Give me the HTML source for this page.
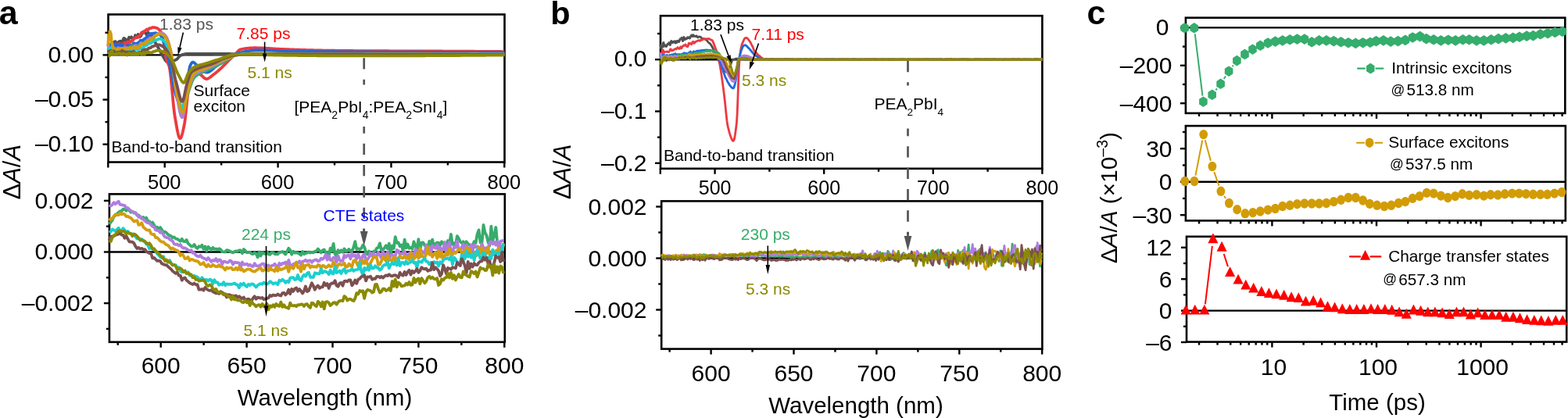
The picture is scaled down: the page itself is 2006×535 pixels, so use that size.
<!DOCTYPE html>
<html><head><meta charset="utf-8"><style>
html,body{margin:0;padding:0;background:#fff;}
svg{display:block;}
text{font-family:"Liberation Sans", Arial, Helvetica, sans-serif;}
</style></head><body>
<svg width="2006" height="535" viewBox="0 0 2006 535">
<rect x="138.5" y="18.5" width="507" height="189" fill="none" stroke="#000" stroke-width="2.6"/>
<rect x="139.9" y="248.4" width="505.9" height="189.4" fill="none" stroke="#000" stroke-width="2.6"/>
<rect x="845" y="20.2" width="488.4" height="195.6" fill="none" stroke="#000" stroke-width="2.6"/>
<rect x="846.2" y="257.4" width="487.2" height="189.2" fill="none" stroke="#000" stroke-width="2.6"/>
<rect x="1516.9" y="22.7" width="485.4" height="122.2" fill="none" stroke="#000" stroke-width="2.6"/>
<rect x="1516.9" y="161.1" width="485.9" height="121.3" fill="none" stroke="#000" stroke-width="2.6"/>
<rect x="1518" y="302.8" width="486.2" height="134.8" fill="none" stroke="#000" stroke-width="2.6"/>
<line x1="138.5" y1="70.4" x2="645.5" y2="70.4" stroke="#000" stroke-width="2.4"/>
<polyline points="138.3,58.39 139.02,58.4 139.75,57.3 140.47,57.27 141.2,60.86 141.92,58.91 142.65,57.95 143.37,54.98 144.09,57.87 144.82,55.46 145.54,55.41 146.27,53.76 146.99,53.12 147.72,53.15 148.44,54.12 149.16,56.53 149.89,58.61 150.61,55.56 151.34,55.25 152.06,53.35 152.79,53.07 153.51,54.1 154.23,52.62 154.96,55.56 155.68,54.41 156.41,55.97 157.13,52.38 157.86,49.89 158.58,48.93 159.3,49.43 160.03,51.2 160.75,50.23 161.48,51.64 162.2,52.99 162.93,55.13 163.65,53.89 164.37,49.94 165.1,47.78 165.82,48.45 166.55,48.53 167.27,48.28 168,47.35 168.72,48.58 169.44,48.55 170.17,48.54 170.89,49.74 171.62,48.73 172.34,48.13 173.07,45.23 173.79,45.7 174.51,47.1 175.24,48.03 175.96,45.76 176.69,44 177.41,44.43 178.14,46.87 178.86,47.21 179.58,46.37 180.31,46.12 181.03,43.5 181.76,43.35 182.48,42.06 183.21,42.11 183.93,40.41 184.65,40.71 185.38,41.77 186.1,42.5 186.83,42.48 187.55,44.49 188.28,44.56 189,43.53 189.72,41.73 190.45,43.3 191.17,44.36 191.9,45.28 192.62,45.31 193.35,45.07 194.07,44.98 194.79,45.85 195.52,47.56 196.24,49.35 196.97,51.04 197.69,52.56 198.42,54.09 199.14,55.36 199.86,56.29 200.59,57.41 201.31,58.78 202.04,60.38 202.76,61.83 203.49,63.05 204.21,64.28 204.93,65.66 205.66,67 206.38,68.39 207.11,69.58 207.83,70.87 208.56,72.02 209.28,73.22 210,74.41 210.73,75.72 211.45,76.91 212.18,77.94 212.9,78.69 213.63,78.98 214.35,78.97 215.07,78.93 215.8,78.88 216.52,78.79 217.25,78.71 217.97,78.61 218.7,78.51 219.42,78.4 220.14,78.27 220.87,78.1 221.59,77.9 222.32,77.66 223.04,77.39 223.77,77.09 224.49,76.77 225.21,76.42 225.94,76.03 226.66,75.46 227.39,74.69 228.11,73.82 228.84,72.92 229.56,72.09 230.28,71.41 231.01,70.97 231.73,70.69 232.46,70.41 233.18,70.16 233.91,69.92 234.63,69.7 235.35,69.51 236.08,69.33 236.8,69.19 237.53,69.07 238.25,68.99 238.98,68.93 239.7,68.91 240.42,68.91 241.15,68.91 241.87,68.91 242.6,68.91 243.32,68.92 244.05,68.92 244.77,68.92 245.49,68.92 246.22,68.92 246.94,68.92 247.67,68.92 248.39,68.92 249.12,68.92 249.84,68.92 250.56,68.92 251.29,68.92 252.01,68.93 252.74,68.93 253.46,68.93 254.19,68.93 254.91,68.93 255.63,68.93 256.36,68.93 257.08,68.93 257.81,68.94 258.53,68.94 259.26,68.94 259.98,68.94 260.7,68.94 261.43,68.94 262.15,68.95 262.88,68.95 263.6,68.95 264.33,68.95 265.05,68.95 265.77,68.96 266.5,68.96 267.22,68.96 267.95,68.96 268.67,68.96 269.4,68.97 270.12,68.97 270.84,68.97 271.57,68.97 272.29,68.97 273.02,68.97 273.74,68.98 274.47,68.98 275.19,68.98 275.91,68.98 276.64,68.98 277.36,68.99 278.09,68.99 278.81,68.99 279.54,68.99 280.26,68.99 280.98,69 281.71,69 282.43,69 283.16,69 283.88,69 284.61,69 285.33,69.01 286.05,69.01 286.78,69.01 287.5,69.01 288.23,69.01 288.95,69.01 289.68,69.02 290.4,69.02 291.12,69.02 291.85,69.02 292.57,69.02 293.3,69.02 294.02,69.02 294.75,69.02 295.47,69.03 296.19,69.03 296.92,69.03 297.64,69.03 298.37,69.03 299.09,69.03 299.82,69.03 300.54,69.03 301.26,69.03 301.99,69.03 302.71,69.03 303.44,69.03 304.16,69.04 304.89,69.04 305.61,69.04 306.33,69.04 307.06,69.04 307.78,69.04 308.51,69.04 309.23,69.04 309.96,69.04 310.68,69.04 311.4,69.04 312.13,69.04 312.85,69.05 313.58,69.05 314.3,69.05 315.03,69.05 315.75,69.05 316.47,69.05 317.2,69.05 317.92,69.05 318.65,69.05 319.37,69.05 320.1,69.05 320.82,69.05 321.54,69.05 322.27,69.06 322.99,69.06 323.72,69.06 324.44,69.06 325.17,69.06 325.89,69.06 326.61,69.06 327.34,69.06 328.06,69.06 328.79,69.06 329.51,69.06 330.24,69.06 330.96,69.06 331.68,69.07 332.41,69.07 333.13,69.07 333.86,69.07 334.58,69.07 335.31,69.07 336.03,69.07 336.75,69.07 337.48,69.07 338.2,69.07 338.93,69.07 339.65,69.07 340.38,69.07 341.1,69.08 341.82,69.08 342.55,69.08 343.27,69.08 344,69.08 344.72,69.08 345.45,69.08 346.17,69.08 346.89,69.08 347.62,69.08 348.34,69.08 349.07,69.08 349.79,69.08 350.52,69.09 351.24,69.09 351.96,69.09 352.69,69.09 353.41,69.09 354.14,69.09 354.86,69.09 355.59,69.09 356.31,69.09 357.03,69.09 357.76,69.09 358.48,69.09 359.21,69.09 359.93,69.09 360.66,69.1 361.38,69.1 362.1,69.1 362.83,69.1 363.55,69.1 364.28,69.1 365,69.1 365.73,69.1 366.45,69.1 367.17,69.1 367.9,69.1 368.62,69.1 369.35,69.1 370.07,69.1 370.8,69.11 371.52,69.11 372.24,69.11 372.97,69.11 373.69,69.11 374.42,69.11 375.14,69.11 375.87,69.11 376.59,69.11 377.31,69.11 378.04,69.11 378.76,69.11 379.49,69.11 380.21,69.11 380.94,69.12 381.66,69.12 382.38,69.12 383.11,69.12 383.83,69.12 384.56,69.12 385.28,69.12 386.01,69.12 386.73,69.12 387.45,69.12 388.18,69.12 388.9,69.12 389.63,69.12 390.35,69.12 391.08,69.12 391.8,69.13 392.52,69.13 393.25,69.13 393.97,69.13 394.7,69.13 395.42,69.13 396.15,69.13 396.87,69.13 397.59,69.13 398.32,69.13 399.04,69.13 399.77,69.13 400.49,69.13 401.22,69.13 401.94,69.13 402.66,69.14 403.39,69.14 404.11,69.14 404.84,69.14 405.56,69.14 406.29,69.14 407.01,69.14 407.73,69.14 408.46,69.14 409.18,69.14 409.91,69.14 410.63,69.14 411.36,69.14 412.08,69.14 412.8,69.14 413.53,69.15 414.25,69.15 414.98,69.15 415.7,69.15 416.43,69.15 417.15,69.15 417.87,69.15 418.6,69.15 419.32,69.15 420.05,69.15 420.77,69.15 421.5,69.15 422.22,69.15 422.94,69.15 423.67,69.15 424.39,69.15 425.12,69.16 425.84,69.16 426.57,69.16 427.29,69.16 428.01,69.16 428.74,69.16 429.46,69.16 430.19,69.16 430.91,69.16 431.64,69.16 432.36,69.16 433.08,69.16 433.81,69.16 434.53,69.16 435.26,69.16 435.98,69.16 436.71,69.16 437.43,69.17 438.15,69.17 438.88,69.17 439.6,69.17 440.33,69.17 441.05,69.17 441.78,69.17 442.5,69.17 443.22,69.17 443.95,69.17 444.67,69.17 445.4,69.17 446.12,69.17 446.85,69.17 447.57,69.17 448.29,69.17 449.02,69.17 449.74,69.18 450.47,69.18 451.19,69.18 451.92,69.18 452.64,69.18 453.36,69.18 454.09,69.18 454.81,69.18 455.54,69.18 456.26,69.18 456.99,69.18 457.71,69.18 458.43,69.18 459.16,69.18 459.88,69.18 460.61,69.18 461.33,69.18 462.06,69.18 462.78,69.19 463.5,69.19 464.23,69.19 464.95,69.19 465.68,69.19 466.4,69.19 467.13,69.19 467.85,69.19 468.57,69.19 469.3,69.19 470.02,69.19 470.75,69.19 471.47,69.19 472.2,69.19 472.92,69.19 473.64,69.19 474.37,69.19 475.09,69.19 475.82,69.19 476.54,69.19 477.27,69.2 477.99,69.2 478.71,69.2 479.44,69.2 480.16,69.2 480.89,69.2 481.61,69.2 482.34,69.2 483.06,69.2 483.78,69.2 484.51,69.2 485.23,69.2 485.96,69.2 486.68,69.2 487.41,69.2 488.13,69.2 488.85,69.2 489.58,69.2 490.3,69.2 491.03,69.2 491.75,69.21 492.48,69.21 493.2,69.21 493.92,69.21 494.65,69.21 495.37,69.21 496.1,69.21 496.82,69.21 497.55,69.21 498.27,69.21 498.99,69.21 499.72,69.21 500.44,69.21 501.17,69.21 501.89,69.21 502.62,69.21 503.34,69.21 504.06,69.21 504.79,69.21 505.51,69.21 506.24,69.21 506.96,69.21 507.69,69.21 508.41,69.22 509.13,69.22 509.86,69.22 510.58,69.22 511.31,69.22 512.03,69.22 512.76,69.22 513.48,69.22 514.2,69.22 514.93,69.22 515.65,69.22 516.38,69.22 517.1,69.22 517.83,69.22 518.55,69.22 519.27,69.22 520,69.22 520.72,69.22 521.45,69.22 522.17,69.22 522.9,69.22 523.62,69.22 524.34,69.22 525.07,69.22 525.79,69.22 526.52,69.23 527.24,69.23 527.97,69.23 528.69,69.23 529.41,69.23 530.14,69.23 530.86,69.23 531.59,69.23 532.31,69.23 533.04,69.23 533.76,69.23 534.48,69.23 535.21,69.23 535.93,69.23 536.66,69.23 537.38,69.23 538.11,69.23 538.83,69.23 539.55,69.23 540.28,69.23 541,69.23 541.73,69.23 542.45,69.23 543.18,69.23 543.9,69.23 544.62,69.23 545.35,69.23 546.07,69.23 546.8,69.23 547.52,69.24 548.25,69.24 548.97,69.24 549.69,69.24 550.42,69.24 551.14,69.24 551.87,69.24 552.59,69.24 553.32,69.24 554.04,69.24 554.76,69.24 555.49,69.24 556.21,69.24 556.94,69.24 557.66,69.24 558.39,69.24 559.11,69.24 559.83,69.24 560.56,69.24 561.28,69.24 562.01,69.24 562.73,69.24 563.46,69.24 564.18,69.24 564.9,69.24 565.63,69.24 566.35,69.24 567.08,69.24 567.8,69.24 568.53,69.24 569.25,69.24 569.97,69.24 570.7,69.24 571.42,69.24 572.15,69.24 572.87,69.24 573.6,69.24 574.32,69.25 575.04,69.25 575.77,69.25 576.49,69.25 577.22,69.25 577.94,69.25 578.67,69.25 579.39,69.25 580.11,69.25 580.84,69.25 581.56,69.25 582.29,69.25 583.01,69.25 583.74,69.25 584.46,69.25 585.18,69.25 585.91,69.25 586.63,69.25 587.36,69.25 588.08,69.25 588.81,69.25 589.53,69.25 590.25,69.25 590.98,69.25 591.7,69.25 592.43,69.25 593.15,69.25 593.88,69.25 594.6,69.25 595.32,69.25 596.05,69.25 596.77,69.25 597.5,69.25 598.22,69.25 598.95,69.25 599.67,69.25 600.39,69.25 601.12,69.25 601.84,69.25 602.57,69.25 603.29,69.25 604.02,69.25 604.74,69.25 605.46,69.25 606.19,69.25 606.91,69.25 607.64,69.25 608.36,69.25 609.09,69.25 609.81,69.25 610.53,69.25 611.26,69.25 611.98,69.25 612.71,69.25 613.43,69.25 614.16,69.25 614.88,69.25 615.6,69.25 616.33,69.25 617.05,69.26 617.78,69.26 618.5,69.26 619.23,69.26 619.95,69.26 620.67,69.26 621.4,69.26 622.12,69.26 622.85,69.26 623.57,69.26 624.3,69.26 625.02,69.26 625.74,69.26 626.47,69.26 627.19,69.26 627.92,69.26 628.64,69.26 629.37,69.26 630.09,69.26 630.81,69.26 631.54,69.26 632.26,69.26 632.99,69.26 633.71,69.26 634.44,69.26 635.16,69.26 635.88,69.26 636.61,69.26 637.33,69.26 638.06,69.26 638.78,69.26 639.51,69.26 640.23,69.26 640.95,69.26 641.68,69.26 642.4,69.26 643.13,69.26 643.85,69.26 644.58,69.26 645.3,69.26" fill="none" stroke="#505050" stroke-width="3.8" stroke-linejoin="round" stroke-linecap="butt"/>
<polyline points="138.3,64.5 139.02,62.95 139.75,58.18 140.47,57.99 141.2,57.82 141.92,59.42 142.65,59.3 143.37,58.35 144.09,57.51 144.82,59.42 145.54,58.63 146.27,59.34 146.99,59.62 147.72,60.52 148.44,59.46 149.16,56.42 149.89,56.21 150.61,57.28 151.34,57.2 152.06,56.8 152.79,56.07 153.51,57.93 154.23,58.53 154.96,57.36 155.68,56.75 156.41,56.32 157.13,57.32 157.86,56.06 158.58,55.9 159.3,55.03 160.03,55.56 160.75,54.85 161.48,55.47 162.2,54.99 162.93,53.93 163.65,53.18 164.37,53.8 165.1,55.15 165.82,54.66 166.55,53.91 167.27,52.83 168,52.51 168.72,52.76 169.44,51.79 170.17,51.2 170.89,49.91 171.62,49.74 172.34,48.85 173.07,48.29 173.79,48.41 174.51,47.75 175.24,47.47 175.96,46.82 176.69,47.79 177.41,46.93 178.14,46.5 178.86,45.29 179.58,44.43 180.31,43.22 181.03,41.76 181.76,41.3 182.48,41.02 183.21,41.31 183.93,41.29 184.65,40.2 185.38,39.52 186.1,39 186.83,38.42 187.55,37.94 188.28,37.54 189,38.49 189.72,37.81 190.45,37.06 191.17,36.1 191.9,36.16 192.62,36.22 193.35,35.99 194.07,35.55 194.79,35.18 195.52,35.02 196.24,35.09 196.97,35.05 197.69,35.1 198.42,35.31 199.14,35.49 199.86,35.7 200.59,35.89 201.31,36.29 202.04,36.72 202.76,37.31 203.49,37.88 204.21,38.7 204.93,39.55 205.66,40.62 206.38,41.75 207.11,43.74 207.83,46.59 208.56,50.04 209.28,53.75 210,57.49 210.73,62.15 211.45,67.48 212.18,72.47 212.9,76.13 213.63,78.34 214.35,79.96 215.07,81.39 215.8,83.01 216.52,85.25 217.25,88.84 217.97,94.03 218.7,100.44 219.42,107.71 220.14,115.48 220.87,123.39 221.59,131.09 222.32,138.21 223.04,144.39 223.77,149.26 224.49,153.45 225.21,157.69 225.94,161.85 226.66,165.79 227.39,169.37 228.11,172.44 228.84,174.88 229.56,176.53 230.28,177.25 231.01,176.96 231.73,175.77 232.46,173.84 233.18,171.31 233.91,168.33 234.63,165.05 235.35,161.62 236.08,158.02 236.8,152.92 237.53,146.5 238.25,139.33 238.98,132.01 239.7,125.12 240.42,119.25 241.15,114.98 241.87,111.72 242.6,108.56 243.32,105.57 244.05,102.82 244.77,100.4 245.49,98.39 246.22,96.85 246.94,95.87 247.67,95.52 248.39,95.39 249.12,95.28 249.84,95.17 250.56,95.09 251.29,95.01 252.01,94.95 252.74,94.91 253.46,94.88 254.19,94.86 254.91,94.88 255.63,95.06 256.36,95.41 257.08,95.91 257.81,96.5 258.53,97.17 259.26,97.88 259.98,98.58 260.7,99.26 261.43,99.87 262.15,100.39 262.88,100.77 263.6,100.99 264.33,101.02 265.05,100.91 265.77,100.69 266.5,100.37 267.22,99.96 267.95,99.49 268.67,98.97 269.4,98.41 270.12,97.83 270.84,97.23 271.57,96.65 272.29,96.08 273.02,95.55 273.74,95.03 274.47,94.49 275.19,93.93 275.91,93.35 276.64,92.76 277.36,92.16 278.09,91.54 278.81,90.92 279.54,90.28 280.26,89.64 280.98,89 281.71,88.35 282.43,87.68 283.16,87.01 283.88,86.31 284.61,85.61 285.33,84.89 286.05,84.16 286.78,83.43 287.5,82.69 288.23,81.94 288.95,81.19 289.68,80.44 290.4,79.7 291.12,78.95 291.85,78.21 292.57,77.47 293.3,76.74 294.02,76.02 294.75,75.31 295.47,74.61 296.19,73.92 296.92,73.23 297.64,72.54 298.37,71.85 299.09,71.17 299.82,70.5 300.54,69.83 301.26,69.12 301.99,68.35 302.71,67.54 303.44,66.73 304.16,65.94 304.89,65.2 305.61,64.54 306.33,63.99 307.06,63.57 307.78,63.31 308.51,63.15 309.23,63 309.96,62.85 310.68,62.71 311.4,62.57 312.13,62.45 312.85,62.32 313.58,62.21 314.3,62.1 315.03,62 315.75,61.9 316.47,61.81 317.2,61.73 317.92,61.65 318.65,61.59 319.37,61.52 320.1,61.47 320.82,61.42 321.54,61.37 322.27,61.34 322.99,61.31 323.72,61.29 324.44,61.27 325.17,61.26 325.89,61.26 326.61,61.26 327.34,61.26 328.06,61.27 328.79,61.28 329.51,61.29 330.24,61.31 330.96,61.33 331.68,61.35 332.41,61.37 333.13,61.4 333.86,61.42 334.58,61.45 335.31,61.49 336.03,61.52 336.75,61.55 337.48,61.59 338.2,61.63 338.93,61.67 339.65,61.71 340.38,61.75 341.1,61.79 341.82,61.83 342.55,61.88 343.27,61.92 344,61.97 344.72,62.02 345.45,62.06 346.17,62.11 346.89,62.16 347.62,62.2 348.34,62.25 349.07,62.3 349.79,62.34 350.52,62.39 351.24,62.44 351.96,62.48 352.69,62.53 353.41,62.57 354.14,62.61 354.86,62.66 355.59,62.7 356.31,62.74 357.03,62.77 357.76,62.81 358.48,62.85 359.21,62.88 359.93,62.91 360.66,62.94 361.38,62.97 362.1,63 362.83,63.02 363.55,63.05 364.28,63.08 365,63.11 365.73,63.13 366.45,63.16 367.17,63.19 367.9,63.21 368.62,63.24 369.35,63.27 370.07,63.29 370.8,63.32 371.52,63.35 372.24,63.37 372.97,63.4 373.69,63.42 374.42,63.45 375.14,63.48 375.87,63.5 376.59,63.53 377.31,63.55 378.04,63.58 378.76,63.6 379.49,63.63 380.21,63.65 380.94,63.68 381.66,63.7 382.38,63.73 383.11,63.75 383.83,63.78 384.56,63.8 385.28,63.82 386.01,63.85 386.73,63.87 387.45,63.89 388.18,63.92 388.9,63.94 389.63,63.96 390.35,63.98 391.08,64.01 391.8,64.03 392.52,64.05 393.25,64.07 393.97,64.09 394.7,64.11 395.42,64.13 396.15,64.15 396.87,64.17 397.59,64.19 398.32,64.21 399.04,64.23 399.77,64.25 400.49,64.27 401.22,64.29 401.94,64.31 402.66,64.32 403.39,64.34 404.11,64.36 404.84,64.37 405.56,64.39 406.29,64.41 407.01,64.42 407.73,64.44 408.46,64.45 409.18,64.47 409.91,64.48 410.63,64.5 411.36,64.51 412.08,64.52 412.8,64.53 413.53,64.55 414.25,64.56 414.98,64.57 415.7,64.58 416.43,64.59 417.15,64.6 417.87,64.62 418.6,64.63 419.32,64.64 420.05,64.65 420.77,64.66 421.5,64.67 422.22,64.68 422.94,64.69 423.67,64.7 424.39,64.71 425.12,64.72 425.84,64.73 426.57,64.74 427.29,64.75 428.01,64.76 428.74,64.77 429.46,64.78 430.19,64.79 430.91,64.8 431.64,64.81 432.36,64.81 433.08,64.82 433.81,64.83 434.53,64.84 435.26,64.85 435.98,64.86 436.71,64.87 437.43,64.87 438.15,64.88 438.88,64.89 439.6,64.9 440.33,64.91 441.05,64.91 441.78,64.92 442.5,64.93 443.22,64.94 443.95,64.95 444.67,64.95 445.4,64.96 446.12,64.97 446.85,64.97 447.57,64.98 448.29,64.99 449.02,64.99 449.74,65 450.47,65.01 451.19,65.01 451.92,65.02 452.64,65.03 453.36,65.03 454.09,65.04 454.81,65.05 455.54,65.05 456.26,65.06 456.99,65.06 457.71,65.07 458.43,65.07 459.16,65.08 459.88,65.08 460.61,65.09 461.33,65.1 462.06,65.1 462.78,65.11 463.5,65.11 464.23,65.12 464.95,65.12 465.68,65.12 466.4,65.13 467.13,65.13 467.85,65.14 468.57,65.14 469.3,65.15 470.02,65.15 470.75,65.15 471.47,65.16 472.2,65.16 472.92,65.17 473.64,65.17 474.37,65.17 475.09,65.18 475.82,65.18 476.54,65.19 477.27,65.19 477.99,65.19 478.71,65.2 479.44,65.2 480.16,65.2 480.89,65.21 481.61,65.21 482.34,65.21 483.06,65.22 483.78,65.22 484.51,65.22 485.23,65.23 485.96,65.23 486.68,65.23 487.41,65.23 488.13,65.24 488.85,65.24 489.58,65.24 490.3,65.25 491.03,65.25 491.75,65.25 492.48,65.25 493.2,65.26 493.92,65.26 494.65,65.26 495.37,65.27 496.1,65.27 496.82,65.27 497.55,65.27 498.27,65.28 498.99,65.28 499.72,65.28 500.44,65.28 501.17,65.29 501.89,65.29 502.62,65.29 503.34,65.29 504.06,65.3 504.79,65.3 505.51,65.3 506.24,65.3 506.96,65.3 507.69,65.31 508.41,65.31 509.13,65.31 509.86,65.31 510.58,65.32 511.31,65.32 512.03,65.32 512.76,65.32 513.48,65.33 514.2,65.33 514.93,65.33 515.65,65.33 516.38,65.33 517.1,65.34 517.83,65.34 518.55,65.34 519.27,65.34 520,65.34 520.72,65.35 521.45,65.35 522.17,65.35 522.9,65.35 523.62,65.36 524.34,65.36 525.07,65.36 525.79,65.36 526.52,65.36 527.24,65.37 527.97,65.37 528.69,65.37 529.41,65.37 530.14,65.38 530.86,65.38 531.59,65.38 532.31,65.38 533.04,65.39 533.76,65.39 534.48,65.39 535.21,65.39 535.93,65.4 536.66,65.4 537.38,65.4 538.11,65.4 538.83,65.41 539.55,65.41 540.28,65.41 541,65.41 541.73,65.42 542.45,65.42 543.18,65.42 543.9,65.42 544.62,65.43 545.35,65.43 546.07,65.43 546.8,65.43 547.52,65.44 548.25,65.44 548.97,65.44 549.69,65.45 550.42,65.45 551.14,65.45 551.87,65.46 552.59,65.46 553.32,65.46 554.04,65.46 554.76,65.47 555.49,65.47 556.21,65.47 556.94,65.48 557.66,65.48 558.39,65.49 559.11,65.49 559.83,65.49 560.56,65.5 561.28,65.5 562.01,65.5 562.73,65.51 563.46,65.51 564.18,65.51 564.9,65.52 565.63,65.52 566.35,65.53 567.08,65.53 567.8,65.53 568.53,65.54 569.25,65.54 569.97,65.54 570.7,65.55 571.42,65.55 572.15,65.56 572.87,65.56 573.6,65.56 574.32,65.57 575.04,65.57 575.77,65.58 576.49,65.58 577.22,65.58 577.94,65.59 578.67,65.59 579.39,65.6 580.11,65.6 580.84,65.61 581.56,65.61 582.29,65.61 583.01,65.62 583.74,65.62 584.46,65.63 585.18,65.63 585.91,65.64 586.63,65.64 587.36,65.64 588.08,65.65 588.81,65.65 589.53,65.66 590.25,65.66 590.98,65.67 591.7,65.67 592.43,65.68 593.15,65.68 593.88,65.69 594.6,65.69 595.32,65.69 596.05,65.7 596.77,65.7 597.5,65.71 598.22,65.71 598.95,65.72 599.67,65.72 600.39,65.73 601.12,65.73 601.84,65.74 602.57,65.74 603.29,65.75 604.02,65.75 604.74,65.76 605.46,65.76 606.19,65.77 606.91,65.77 607.64,65.78 608.36,65.78 609.09,65.79 609.81,65.79 610.53,65.8 611.26,65.8 611.98,65.81 612.71,65.81 613.43,65.82 614.16,65.82 614.88,65.83 615.6,65.83 616.33,65.84 617.05,65.84 617.78,65.85 618.5,65.85 619.23,65.86 619.95,65.86 620.67,65.87 621.4,65.87 622.12,65.88 622.85,65.88 623.57,65.89 624.3,65.9 625.02,65.9 625.74,65.91 626.47,65.91 627.19,65.92 627.92,65.92 628.64,65.93 629.37,65.93 630.09,65.94 630.81,65.94 631.54,65.95 632.26,65.96 632.99,65.96 633.71,65.97 634.44,65.97 635.16,65.98 635.88,65.98 636.61,65.99 637.33,65.99 638.06,66 638.78,66.01 639.51,66.01 640.23,66.02 640.95,66.02 641.68,66.03 642.4,66.03 643.13,66.04 643.85,66.05 644.58,66.05 645.3,66.06" fill="none" stroke="#EC3A3F" stroke-width="3.8" stroke-linejoin="round" stroke-linecap="butt"/>
<polyline points="138.3,62.74 139.02,62.26 139.75,61.86 140.47,59.24 141.2,58.12 141.92,56.26 142.65,55.56 143.37,54.95 144.09,54.69 144.82,56.08 145.54,57.42 146.27,56.63 146.99,57.31 147.72,57.51 148.44,59.59 149.16,58.87 149.89,58.12 150.61,56.88 151.34,57.17 152.06,58.53 152.79,58.99 153.51,58.3 154.23,57.29 154.96,57.64 155.68,57.96 156.41,57.22 157.13,57.27 157.86,58.51 158.58,59.76 159.3,59.9 160.03,60.19 160.75,59.49 161.48,59.9 162.2,58.61 162.93,58.98 163.65,58.74 164.37,58.09 165.1,58.48 165.82,58.6 166.55,59.23 167.27,58.26 168,57.67 168.72,58.17 169.44,58.01 170.17,57.39 170.89,55.36 171.62,55.59 172.34,55.51 173.07,56.73 173.79,57.16 174.51,56.9 175.24,55.71 175.96,55.01 176.69,54.99 177.41,55.67 178.14,53.82 178.86,53.28 179.58,51.75 180.31,52.49 181.03,51.57 181.76,51.75 182.48,52.11 183.21,51.63 183.93,50.48 184.65,49.8 185.38,49.4 186.1,49.39 186.83,48.25 187.55,47.73 188.28,48.04 189,46.74 189.72,45.38 190.45,44.57 191.17,44.27 191.9,43.81 192.62,43.06 193.35,42.98 194.07,43.39 194.79,43.21 195.52,42.97 196.24,42.58 196.97,42.73 197.69,42.48 198.42,42.53 199.14,42.27 199.86,42.45 200.59,42.61 201.31,42.87 202.04,43.13 202.76,43.41 203.49,43.75 204.21,44.12 204.93,44.61 205.66,45.41 206.38,46.6 207.11,48.06 207.83,49.73 208.56,51.61 209.28,53.58 210,55.56 210.73,57.59 211.45,59.82 212.18,62.26 212.9,64.83 213.63,67.55 214.35,70.34 215.07,73.21 215.8,76.13 216.52,79.22 217.25,82.65 217.97,86.31 218.7,90.16 219.42,94.11 220.14,98.11 220.87,102.09 221.59,105.98 222.32,109.72 223.04,113.25 223.77,116.48 224.49,119.37 225.21,121.83 225.94,124.11 226.66,126.42 227.39,128.72 228.11,130.95 228.84,133.06 229.56,134.99 230.28,136.7 231.01,138.12 231.73,139.2 232.46,139.88 233.18,140.12 233.91,139.29 234.63,136.99 235.35,133.56 236.08,129.3 236.8,124.54 237.53,119.59 238.25,114.77 238.98,110.41 239.7,105.87 240.42,100.7 241.15,95.42 241.87,90.54 242.6,86.6 243.32,84.12 244.05,82.6 244.77,81.27 245.49,80.25 246.22,79.65 246.94,79.57 247.67,79.81 248.39,80.27 249.12,80.88 249.84,81.58 250.56,82.3 251.29,82.97 252.01,83.68 252.74,84.52 253.46,85.45 254.19,86.42 254.91,87.4 255.63,88.34 256.36,89.21 257.08,89.97 257.81,90.57 258.53,90.97 259.26,91.26 259.98,91.53 260.7,91.79 261.43,92.01 262.15,92.21 262.88,92.37 263.6,92.49 264.33,92.56 265.05,92.57 265.77,92.49 266.5,92.3 267.22,92.02 267.95,91.65 268.67,91.2 269.4,90.7 270.12,90.14 270.84,89.55 271.57,88.93 272.29,88.29 273.02,87.65 273.74,87.01 274.47,86.39 275.19,85.81 275.91,85.26 276.64,84.72 277.36,84.16 278.09,83.59 278.81,82.99 279.54,82.39 280.26,81.77 280.98,81.16 281.71,80.54 282.43,79.93 283.16,79.33 283.88,78.74 284.61,78.16 285.33,77.61 286.05,77.08 286.78,76.58 287.5,76.12 288.23,75.67 288.95,75.23 289.68,74.8 290.4,74.37 291.12,73.96 291.85,73.56 292.57,73.16 293.3,72.78 294.02,72.41 294.75,72.06 295.47,71.72 296.19,71.39 296.92,71.08 297.64,70.78 298.37,70.51 299.09,70.24 299.82,69.99 300.54,69.73 301.26,69.48 301.99,69.23 302.71,68.99 303.44,68.75 304.16,68.52 304.89,68.29 305.61,68.07 306.33,67.85 307.06,67.64 307.78,67.43 308.51,67.23 309.23,67.04 309.96,66.85 310.68,66.67 311.4,66.49 312.13,66.33 312.85,66.16 313.58,66.01 314.3,65.87 315.03,65.73 315.75,65.6 316.47,65.47 317.2,65.36 317.92,65.26 318.65,65.16 319.37,65.05 320.1,64.95 320.82,64.85 321.54,64.75 322.27,64.66 322.99,64.57 323.72,64.48 324.44,64.41 325.17,64.33 325.89,64.27 326.61,64.22 327.34,64.17 328.06,64.14 328.79,64.12 329.51,64.11 330.24,64.11 330.96,64.12 331.68,64.12 332.41,64.13 333.13,64.14 333.86,64.15 334.58,64.17 335.31,64.19 336.03,64.2 336.75,64.22 337.48,64.24 338.2,64.27 338.93,64.29 339.65,64.32 340.38,64.35 341.1,64.37 341.82,64.4 342.55,64.43 343.27,64.47 344,64.5 344.72,64.53 345.45,64.57 346.17,64.6 346.89,64.64 347.62,64.67 348.34,64.71 349.07,64.75 349.79,64.78 350.52,64.82 351.24,64.86 351.96,64.89 352.69,64.93 353.41,64.97 354.14,65.01 354.86,65.04 355.59,65.08 356.31,65.11 357.03,65.15 357.76,65.18 358.48,65.22 359.21,65.25 359.93,65.28 360.66,65.32 361.38,65.35 362.1,65.37 362.83,65.4 363.55,65.43 364.28,65.45 365,65.48 365.73,65.5 366.45,65.52 367.17,65.54 367.9,65.56 368.62,65.57 369.35,65.59 370.07,65.6 370.8,65.61 371.52,65.62 372.24,65.63 372.97,65.64 373.69,65.65 374.42,65.66 375.14,65.67 375.87,65.68 376.59,65.69 377.31,65.7 378.04,65.71 378.76,65.72 379.49,65.73 380.21,65.74 380.94,65.75 381.66,65.76 382.38,65.77 383.11,65.78 383.83,65.79 384.56,65.8 385.28,65.81 386.01,65.82 386.73,65.82 387.45,65.83 388.18,65.84 388.9,65.85 389.63,65.86 390.35,65.87 391.08,65.88 391.8,65.89 392.52,65.89 393.25,65.9 393.97,65.91 394.7,65.92 395.42,65.93 396.15,65.94 396.87,65.94 397.59,65.95 398.32,65.96 399.04,65.97 399.77,65.98 400.49,65.98 401.22,65.99 401.94,66 402.66,66.01 403.39,66.01 404.11,66.02 404.84,66.03 405.56,66.04 406.29,66.04 407.01,66.05 407.73,66.06 408.46,66.06 409.18,66.07 409.91,66.08 410.63,66.09 411.36,66.09 412.08,66.1 412.8,66.11 413.53,66.11 414.25,66.12 414.98,66.13 415.7,66.13 416.43,66.14 417.15,66.15 417.87,66.15 418.6,66.16 419.32,66.17 420.05,66.17 420.77,66.18 421.5,66.18 422.22,66.19 422.94,66.2 423.67,66.2 424.39,66.21 425.12,66.21 425.84,66.22 426.57,66.23 427.29,66.23 428.01,66.24 428.74,66.24 429.46,66.25 430.19,66.25 430.91,66.26 431.64,66.27 432.36,66.27 433.08,66.28 433.81,66.28 434.53,66.29 435.26,66.29 435.98,66.3 436.71,66.3 437.43,66.31 438.15,66.31 438.88,66.32 439.6,66.32 440.33,66.33 441.05,66.33 441.78,66.34 442.5,66.34 443.22,66.35 443.95,66.35 444.67,66.36 445.4,66.36 446.12,66.37 446.85,66.37 447.57,66.38 448.29,66.38 449.02,66.38 449.74,66.39 450.47,66.39 451.19,66.4 451.92,66.4 452.64,66.41 453.36,66.41 454.09,66.42 454.81,66.42 455.54,66.42 456.26,66.43 456.99,66.43 457.71,66.44 458.43,66.44 459.16,66.44 459.88,66.45 460.61,66.45 461.33,66.46 462.06,66.46 462.78,66.46 463.5,66.47 464.23,66.47 464.95,66.47 465.68,66.48 466.4,66.48 467.13,66.49 467.85,66.49 468.57,66.49 469.3,66.5 470.02,66.5 470.75,66.5 471.47,66.51 472.2,66.51 472.92,66.51 473.64,66.52 474.37,66.52 475.09,66.52 475.82,66.53 476.54,66.53 477.27,66.53 477.99,66.54 478.71,66.54 479.44,66.54 480.16,66.55 480.89,66.55 481.61,66.55 482.34,66.56 483.06,66.56 483.78,66.56 484.51,66.57 485.23,66.57 485.96,66.57 486.68,66.57 487.41,66.58 488.13,66.58 488.85,66.58 489.58,66.59 490.3,66.59 491.03,66.59 491.75,66.6 492.48,66.6 493.2,66.6 493.92,66.6 494.65,66.61 495.37,66.61 496.1,66.61 496.82,66.61 497.55,66.62 498.27,66.62 498.99,66.62 499.72,66.63 500.44,66.63 501.17,66.63 501.89,66.63 502.62,66.64 503.34,66.64 504.06,66.64 504.79,66.64 505.51,66.65 506.24,66.65 506.96,66.65 507.69,66.65 508.41,66.66 509.13,66.66 509.86,66.66 510.58,66.67 511.31,66.67 512.03,66.67 512.76,66.67 513.48,66.68 514.2,66.68 514.93,66.68 515.65,66.68 516.38,66.69 517.1,66.69 517.83,66.69 518.55,66.69 519.27,66.7 520,66.7 520.72,66.7 521.45,66.7 522.17,66.71 522.9,66.71 523.62,66.71 524.34,66.71 525.07,66.72 525.79,66.72 526.52,66.72 527.24,66.72 527.97,66.73 528.69,66.73 529.41,66.73 530.14,66.73 530.86,66.74 531.59,66.74 532.31,66.74 533.04,66.74 533.76,66.75 534.48,66.75 535.21,66.75 535.93,66.75 536.66,66.76 537.38,66.76 538.11,66.76 538.83,66.76 539.55,66.77 540.28,66.77 541,66.77 541.73,66.77 542.45,66.78 543.18,66.78 543.9,66.78 544.62,66.78 545.35,66.79 546.07,66.79 546.8,66.79 547.52,66.79 548.25,66.79 548.97,66.8 549.69,66.8 550.42,66.8 551.14,66.8 551.87,66.81 552.59,66.81 553.32,66.81 554.04,66.81 554.76,66.81 555.49,66.82 556.21,66.82 556.94,66.82 557.66,66.82 558.39,66.83 559.11,66.83 559.83,66.83 560.56,66.83 561.28,66.83 562.01,66.84 562.73,66.84 563.46,66.84 564.18,66.84 564.9,66.84 565.63,66.85 566.35,66.85 567.08,66.85 567.8,66.85 568.53,66.85 569.25,66.86 569.97,66.86 570.7,66.86 571.42,66.86 572.15,66.86 572.87,66.87 573.6,66.87 574.32,66.87 575.04,66.87 575.77,66.87 576.49,66.88 577.22,66.88 577.94,66.88 578.67,66.88 579.39,66.88 580.11,66.88 580.84,66.89 581.56,66.89 582.29,66.89 583.01,66.89 583.74,66.89 584.46,66.89 585.18,66.9 585.91,66.9 586.63,66.9 587.36,66.9 588.08,66.9 588.81,66.9 589.53,66.91 590.25,66.91 590.98,66.91 591.7,66.91 592.43,66.91 593.15,66.91 593.88,66.92 594.6,66.92 595.32,66.92 596.05,66.92 596.77,66.92 597.5,66.92 598.22,66.92 598.95,66.93 599.67,66.93 600.39,66.93 601.12,66.93 601.84,66.93 602.57,66.93 603.29,66.93 604.02,66.93 604.74,66.94 605.46,66.94 606.19,66.94 606.91,66.94 607.64,66.94 608.36,66.94 609.09,66.94 609.81,66.94 610.53,66.94 611.26,66.95 611.98,66.95 612.71,66.95 613.43,66.95 614.16,66.95 614.88,66.95 615.6,66.95 616.33,66.95 617.05,66.95 617.78,66.95 618.5,66.95 619.23,66.96 619.95,66.96 620.67,66.96 621.4,66.96 622.12,66.96 622.85,66.96 623.57,66.96 624.3,66.96 625.02,66.96 625.74,66.96 626.47,66.96 627.19,66.96 627.92,66.96 628.64,66.96 629.37,66.97 630.09,66.97 630.81,66.97 631.54,66.97 632.26,66.97 632.99,66.97 633.71,66.97 634.44,66.97 635.16,66.97 635.88,66.97 636.61,66.97 637.33,66.97 638.06,66.97 638.78,66.97 639.51,66.97 640.23,66.97 640.95,66.97 641.68,66.97 642.4,66.97 643.13,66.97 643.85,66.97 644.58,66.97 645.3,66.97" fill="none" stroke="#2169DA" stroke-width="3.8" stroke-linejoin="round" stroke-linecap="butt"/>
<polyline points="138.3,69.08 139.02,67.35 139.75,64.7 140.47,64.88 141.2,63.73 141.92,63.58 142.65,62.12 143.37,63.48 144.09,64.64 144.82,66.24 145.54,66.48 146.27,65.03 146.99,64.86 147.72,65.56 148.44,66.37 149.16,66.07 149.89,65.62 150.61,65.25 151.34,63.66 152.06,62.87 152.79,62.95 153.51,64.02 154.23,63.16 154.96,62.2 155.68,62.18 156.41,63.83 157.13,65.12 157.86,65.16 158.58,64.33 159.3,64.19 160.03,64.67 160.75,64.53 161.48,64.78 162.2,64.9 162.93,64.8 163.65,63.1 164.37,61.82 165.1,61.11 165.82,60.4 166.55,59.94 167.27,60.52 168,60.05 168.72,59.43 169.44,58.57 170.17,60.07 170.89,60.61 171.62,62.15 172.34,61.66 173.07,63.1 173.79,61.91 174.51,60.9 175.24,59.23 175.96,57.81 176.69,58.14 177.41,57.83 178.14,58.66 178.86,58.07 179.58,57.87 180.31,56.72 181.03,55.8 181.76,55.27 182.48,56.29 183.21,56.57 183.93,55.66 184.65,54.24 185.38,53.95 186.1,53.72 186.83,52.83 187.55,53.98 188.28,53.11 189,52.88 189.72,50.76 190.45,51.32 191.17,51.05 191.9,50.5 192.62,50.31 193.35,49.68 194.07,49.37 194.79,48.3 195.52,47.92 196.24,47.53 196.97,47.29 197.69,46.81 198.42,46.29 199.14,45.77 199.86,45.43 200.59,45.09 201.31,44.74 202.04,44.37 202.76,43.98 203.49,43.62 204.21,43.38 204.93,43.21 205.66,43.07 206.38,42.99 207.11,43.06 207.83,43.38 208.56,43.82 209.28,44.39 210,45.03 210.73,45.78 211.45,46.65 212.18,47.55 212.9,48.65 213.63,50.14 214.35,51.99 215.07,54.14 215.8,56.51 216.52,59.1 217.25,61.83 217.97,64.69 218.7,68 219.42,72.07 220.14,76.7 220.87,81.73 221.59,86.99 222.32,92.3 223.04,97.47 223.77,102.33 224.49,106.7 225.21,110.4 225.94,113.8 226.66,117.3 227.39,120.83 228.11,124.31 228.84,127.66 229.56,130.82 230.28,133.69 231.01,136.22 231.73,138.31 232.46,139.9 233.18,140.91 233.91,141.27 234.63,140.66 235.35,139.02 236.08,136.59 236.8,133.65 237.53,130.44 238.25,127.23 238.98,124.28 239.7,121.83 240.42,119.7 241.15,117.51 241.87,115.29 242.6,113.08 243.32,110.91 244.05,108.81 244.77,106.8 245.49,104.92 246.22,103.2 246.94,101.67 247.67,100.35 248.39,99.29 249.12,98.49 249.84,97.83 250.56,97.22 251.29,96.66 252.01,96.14 252.74,95.66 253.46,95.22 254.19,94.8 254.91,94.42 255.63,94.05 256.36,93.71 257.08,93.37 257.81,93.05 258.53,92.74 259.26,92.42 259.98,92.11 260.7,91.79 261.43,91.46 262.15,91.11 262.88,90.75 263.6,90.37 264.33,90.01 265.05,89.65 265.77,89.3 266.5,88.96 267.22,88.62 267.95,88.28 268.67,87.95 269.4,87.62 270.12,87.29 270.84,86.97 271.57,86.64 272.29,86.32 273.02,85.99 273.74,85.67 274.47,85.34 275.19,85.01 275.91,84.68 276.64,84.34 277.36,84 278.09,83.65 278.81,83.3 279.54,82.95 280.26,82.58 280.98,82.21 281.71,81.83 282.43,81.44 283.16,81.03 283.88,80.62 284.61,80.2 285.33,79.76 286.05,79.32 286.78,78.88 287.5,78.44 288.23,77.99 288.95,77.54 289.68,77.1 290.4,76.66 291.12,76.23 291.85,75.8 292.57,75.38 293.3,74.97 294.02,74.55 294.75,74.11 295.47,73.65 296.19,73.18 296.92,72.71 297.64,72.26 298.37,71.83 299.09,71.44 299.82,71.09 300.54,70.79 301.26,70.56 301.99,70.4 302.71,70.28 303.44,70.17 304.16,70.06 304.89,69.95 305.61,69.85 306.33,69.75 307.06,69.65 307.78,69.56 308.51,69.47 309.23,69.38 309.96,69.3 310.68,69.22 311.4,69.14 312.13,69.07 312.85,69 313.58,68.93 314.3,68.87 315.03,68.81 315.75,68.75 316.47,68.7 317.2,68.65 317.92,68.61 318.65,68.56 319.37,68.53 320.1,68.49 320.82,68.46 321.54,68.43 322.27,68.41 322.99,68.39 323.72,68.37 324.44,68.36 325.17,68.35 325.89,68.34 326.61,68.34 327.34,68.34 328.06,68.34 328.79,68.35 329.51,68.35 330.24,68.35 330.96,68.35 331.68,68.36 332.41,68.36 333.13,68.36 333.86,68.37 334.58,68.37 335.31,68.38 336.03,68.39 336.75,68.39 337.48,68.4 338.2,68.41 338.93,68.41 339.65,68.42 340.38,68.43 341.1,68.44 341.82,68.45 342.55,68.46 343.27,68.47 344,68.48 344.72,68.49 345.45,68.5 346.17,68.51 346.89,68.52 347.62,68.53 348.34,68.54 349.07,68.55 349.79,68.56 350.52,68.58 351.24,68.59 351.96,68.6 352.69,68.61 353.41,68.62 354.14,68.63 354.86,68.65 355.59,68.66 356.31,68.67 357.03,68.68 357.76,68.7 358.48,68.71 359.21,68.72 359.93,68.73 360.66,68.74 361.38,68.76 362.1,68.77 362.83,68.78 363.55,68.79 364.28,68.8 365,68.82 365.73,68.83 366.45,68.84 367.17,68.85 367.9,68.86 368.62,68.87 369.35,68.88 370.07,68.89 370.8,68.9 371.52,68.91 372.24,68.92 372.97,68.93 373.69,68.94 374.42,68.95 375.14,68.96 375.87,68.96 376.59,68.97 377.31,68.98 378.04,68.99 378.76,68.99 379.49,69 380.21,69 380.94,69.01 381.66,69.01 382.38,69.02 383.11,69.02 383.83,69.03 384.56,69.03 385.28,69.03 386.01,69.03 386.73,69.04 387.45,69.04 388.18,69.04 388.9,69.04 389.63,69.05 390.35,69.05 391.08,69.05 391.8,69.05 392.52,69.06 393.25,69.06 393.97,69.06 394.7,69.06 395.42,69.07 396.15,69.07 396.87,69.07 397.59,69.07 398.32,69.08 399.04,69.08 399.77,69.08 400.49,69.08 401.22,69.09 401.94,69.09 402.66,69.09 403.39,69.09 404.11,69.1 404.84,69.1 405.56,69.1 406.29,69.1 407.01,69.11 407.73,69.11 408.46,69.11 409.18,69.11 409.91,69.12 410.63,69.12 411.36,69.12 412.08,69.12 412.8,69.12 413.53,69.13 414.25,69.13 414.98,69.13 415.7,69.13 416.43,69.14 417.15,69.14 417.87,69.14 418.6,69.14 419.32,69.15 420.05,69.15 420.77,69.15 421.5,69.15 422.22,69.15 422.94,69.16 423.67,69.16 424.39,69.16 425.12,69.16 425.84,69.17 426.57,69.17 427.29,69.17 428.01,69.17 428.74,69.17 429.46,69.18 430.19,69.18 430.91,69.18 431.64,69.18 432.36,69.18 433.08,69.19 433.81,69.19 434.53,69.19 435.26,69.19 435.98,69.19 436.71,69.2 437.43,69.2 438.15,69.2 438.88,69.2 439.6,69.21 440.33,69.21 441.05,69.21 441.78,69.21 442.5,69.21 443.22,69.22 443.95,69.22 444.67,69.22 445.4,69.22 446.12,69.22 446.85,69.23 447.57,69.23 448.29,69.23 449.02,69.23 449.74,69.23 450.47,69.23 451.19,69.24 451.92,69.24 452.64,69.24 453.36,69.24 454.09,69.24 454.81,69.25 455.54,69.25 456.26,69.25 456.99,69.25 457.71,69.25 458.43,69.26 459.16,69.26 459.88,69.26 460.61,69.26 461.33,69.26 462.06,69.26 462.78,69.27 463.5,69.27 464.23,69.27 464.95,69.27 465.68,69.27 466.4,69.27 467.13,69.28 467.85,69.28 468.57,69.28 469.3,69.28 470.02,69.28 470.75,69.29 471.47,69.29 472.2,69.29 472.92,69.29 473.64,69.29 474.37,69.29 475.09,69.3 475.82,69.3 476.54,69.3 477.27,69.3 477.99,69.3 478.71,69.3 479.44,69.31 480.16,69.31 480.89,69.31 481.61,69.31 482.34,69.31 483.06,69.31 483.78,69.31 484.51,69.32 485.23,69.32 485.96,69.32 486.68,69.32 487.41,69.32 488.13,69.32 488.85,69.33 489.58,69.33 490.3,69.33 491.03,69.33 491.75,69.33 492.48,69.33 493.2,69.33 493.92,69.34 494.65,69.34 495.37,69.34 496.1,69.34 496.82,69.34 497.55,69.34 498.27,69.34 498.99,69.35 499.72,69.35 500.44,69.35 501.17,69.35 501.89,69.35 502.62,69.35 503.34,69.35 504.06,69.36 504.79,69.36 505.51,69.36 506.24,69.36 506.96,69.36 507.69,69.36 508.41,69.36 509.13,69.36 509.86,69.37 510.58,69.37 511.31,69.37 512.03,69.37 512.76,69.37 513.48,69.37 514.2,69.37 514.93,69.38 515.65,69.38 516.38,69.38 517.1,69.38 517.83,69.38 518.55,69.38 519.27,69.38 520,69.38 520.72,69.38 521.45,69.39 522.17,69.39 522.9,69.39 523.62,69.39 524.34,69.39 525.07,69.39 525.79,69.39 526.52,69.39 527.24,69.4 527.97,69.4 528.69,69.4 529.41,69.4 530.14,69.4 530.86,69.4 531.59,69.4 532.31,69.4 533.04,69.4 533.76,69.41 534.48,69.41 535.21,69.41 535.93,69.41 536.66,69.41 537.38,69.41 538.11,69.41 538.83,69.41 539.55,69.41 540.28,69.41 541,69.42 541.73,69.42 542.45,69.42 543.18,69.42 543.9,69.42 544.62,69.42 545.35,69.42 546.07,69.42 546.8,69.42 547.52,69.42 548.25,69.42 548.97,69.43 549.69,69.43 550.42,69.43 551.14,69.43 551.87,69.43 552.59,69.43 553.32,69.43 554.04,69.43 554.76,69.43 555.49,69.43 556.21,69.43 556.94,69.44 557.66,69.44 558.39,69.44 559.11,69.44 559.83,69.44 560.56,69.44 561.28,69.44 562.01,69.44 562.73,69.44 563.46,69.44 564.18,69.44 564.9,69.44 565.63,69.44 566.35,69.45 567.08,69.45 567.8,69.45 568.53,69.45 569.25,69.45 569.97,69.45 570.7,69.45 571.42,69.45 572.15,69.45 572.87,69.45 573.6,69.45 574.32,69.45 575.04,69.45 575.77,69.45 576.49,69.46 577.22,69.46 577.94,69.46 578.67,69.46 579.39,69.46 580.11,69.46 580.84,69.46 581.56,69.46 582.29,69.46 583.01,69.46 583.74,69.46 584.46,69.46 585.18,69.46 585.91,69.46 586.63,69.46 587.36,69.46 588.08,69.46 588.81,69.47 589.53,69.47 590.25,69.47 590.98,69.47 591.7,69.47 592.43,69.47 593.15,69.47 593.88,69.47 594.6,69.47 595.32,69.47 596.05,69.47 596.77,69.47 597.5,69.47 598.22,69.47 598.95,69.47 599.67,69.47 600.39,69.47 601.12,69.47 601.84,69.47 602.57,69.47 603.29,69.47 604.02,69.47 604.74,69.48 605.46,69.48 606.19,69.48 606.91,69.48 607.64,69.48 608.36,69.48 609.09,69.48 609.81,69.48 610.53,69.48 611.26,69.48 611.98,69.48 612.71,69.48 613.43,69.48 614.16,69.48 614.88,69.48 615.6,69.48 616.33,69.48 617.05,69.48 617.78,69.48 618.5,69.48 619.23,69.48 619.95,69.48 620.67,69.48 621.4,69.48 622.12,69.48 622.85,69.48 623.57,69.48 624.3,69.48 625.02,69.48 625.74,69.48 626.47,69.48 627.19,69.48 627.92,69.48 628.64,69.48 629.37,69.48 630.09,69.48 630.81,69.48 631.54,69.48 632.26,69.48 632.99,69.48 633.71,69.48 634.44,69.48 635.16,69.48 635.88,69.49 636.61,69.49 637.33,69.49 638.06,69.49 638.78,69.49 639.51,69.49 640.23,69.49 640.95,69.49 641.68,69.49 642.4,69.49 643.13,69.49 643.85,69.49 644.58,69.49 645.3,69.49" fill="none" stroke="#37AC6B" stroke-width="3.8" stroke-linejoin="round" stroke-linecap="butt"/>
<polyline points="138.3,56.11 139.02,62.35 139.75,64.76 140.47,65.55 141.2,64.47 141.92,67.25 142.65,67.86 143.37,66.51 144.09,64.51 144.82,64.79 145.54,64.22 146.27,63.79 146.99,63.31 147.72,63.06 148.44,63.83 149.16,64.91 149.89,65.18 150.61,63.97 151.34,61.15 152.06,65.03 152.79,67.59 153.51,68.95 154.23,64.81 154.96,64.21 155.68,63.22 156.41,62.58 157.13,62.41 157.86,62.49 158.58,61.93 159.3,60.6 160.03,61.72 160.75,61.29 161.48,62.42 162.2,60.86 162.93,62.69 163.65,62.43 164.37,63.11 165.1,62.22 165.82,62.36 166.55,62.67 167.27,63.44 168,62.7 168.72,63.11 169.44,61.9 170.17,62.27 170.89,59.99 171.62,59.34 172.34,58.34 173.07,58.26 173.79,59.43 174.51,59.94 175.24,61.54 175.96,61.09 176.69,60.73 177.41,60.82 178.14,60.19 178.86,58.34 179.58,55.94 180.31,54.96 181.03,56.03 181.76,56.8 182.48,57.33 183.21,57.07 183.93,56.81 184.65,55.67 185.38,54.84 186.1,54.01 186.83,54.15 187.55,53.88 188.28,52.38 189,50.77 189.72,50.72 190.45,51.37 191.17,50.92 191.9,48.98 192.62,48.37 193.35,48.86 194.07,49.58 194.79,48.86 195.52,48.06 196.24,47.32 196.97,46.63 197.69,46.28 198.42,45.81 199.14,45.56 199.86,44.76 200.59,44.1 201.31,43.43 202.04,43.24 202.76,42.87 203.49,42.63 204.21,42.29 204.93,42.14 205.66,42.06 206.38,42.05 207.11,42.22 207.83,42.48 208.56,42.88 209.28,43.41 210,44.04 210.73,44.74 211.45,45.53 212.18,46.4 212.9,47.5 213.63,48.94 214.35,50.72 215.07,52.82 215.8,55.2 216.52,57.82 217.25,60.61 217.97,63.54 218.7,67.09 219.42,71.59 220.14,76.83 220.87,82.59 221.59,88.66 222.32,94.83 223.04,100.87 223.77,106.58 224.49,111.73 225.21,116.12 225.94,120.17 226.66,124.37 227.39,128.62 228.11,132.79 228.84,136.78 229.56,140.47 230.28,143.74 231.01,146.49 231.73,148.59 232.46,149.94 233.18,150.41 233.91,149.46 234.63,146.9 235.35,143.16 236.08,138.68 236.8,133.87 237.53,129.17 238.25,125.02 238.98,121.84 239.7,119.29 240.42,116.76 241.15,114.27 241.87,111.85 242.6,109.51 243.32,107.27 244.05,105.16 244.77,103.18 245.49,101.37 246.22,99.74 246.94,98.31 247.67,97.1 248.39,96.13 249.12,95.42 249.84,94.83 250.56,94.3 251.29,93.81 252.01,93.36 252.74,92.95 253.46,92.57 254.19,92.22 254.91,91.89 255.63,91.59 256.36,91.3 257.08,91.02 257.81,90.75 258.53,90.48 259.26,90.21 259.98,89.93 260.7,89.65 261.43,89.35 262.15,89.03 262.88,88.69 263.6,88.33 264.33,87.98 265.05,87.63 265.77,87.27 266.5,86.92 267.22,86.57 267.95,86.22 268.67,85.87 269.4,85.52 270.12,85.17 270.84,84.82 271.57,84.47 272.29,84.12 273.02,83.77 273.74,83.42 274.47,83.07 275.19,82.71 275.91,82.36 276.64,82.01 277.36,81.66 278.09,81.31 278.81,80.96 279.54,80.61 280.26,80.25 280.98,79.9 281.71,79.54 282.43,79.19 283.16,78.82 283.88,78.46 284.61,78.09 285.33,77.72 286.05,77.35 286.78,76.98 287.5,76.61 288.23,76.24 288.95,75.88 289.68,75.52 290.4,75.17 291.12,74.82 291.85,74.48 292.57,74.15 293.3,73.83 294.02,73.5 294.75,73.16 295.47,72.81 296.19,72.46 296.92,72.12 297.64,71.79 298.37,71.47 299.09,71.18 299.82,70.92 300.54,70.7 301.26,70.52 301.99,70.4 302.71,70.3 303.44,70.21 304.16,70.12 304.89,70.03 305.61,69.95 306.33,69.87 307.06,69.79 307.78,69.71 308.51,69.63 309.23,69.56 309.96,69.49 310.68,69.43 311.4,69.36 312.13,69.3 312.85,69.24 313.58,69.19 314.3,69.13 315.03,69.08 315.75,69.04 316.47,68.99 317.2,68.95 317.92,68.91 318.65,68.88 319.37,68.84 320.1,68.81 320.82,68.79 321.54,68.76 322.27,68.74 322.99,68.73 323.72,68.71 324.44,68.7 325.17,68.69 325.89,68.69 326.61,68.69 327.34,68.69 328.06,68.69 328.79,68.69 329.51,68.69 330.24,68.69 330.96,68.69 331.68,68.7 332.41,68.7 333.13,68.7 333.86,68.71 334.58,68.71 335.31,68.72 336.03,68.72 336.75,68.73 337.48,68.74 338.2,68.74 338.93,68.75 339.65,68.75 340.38,68.76 341.1,68.77 341.82,68.78 342.55,68.79 343.27,68.79 344,68.8 344.72,68.81 345.45,68.82 346.17,68.83 346.89,68.84 347.62,68.85 348.34,68.86 349.07,68.87 349.79,68.88 350.52,68.89 351.24,68.9 351.96,68.91 352.69,68.92 353.41,68.93 354.14,68.94 354.86,68.95 355.59,68.96 356.31,68.97 357.03,68.98 357.76,68.99 358.48,69 359.21,69.01 359.93,69.02 360.66,69.03 361.38,69.04 362.1,69.05 362.83,69.06 363.55,69.07 364.28,69.08 365,69.09 365.73,69.1 366.45,69.11 367.17,69.12 367.9,69.13 368.62,69.13 369.35,69.14 370.07,69.15 370.8,69.16 371.52,69.17 372.24,69.18 372.97,69.18 373.69,69.19 374.42,69.2 375.14,69.2 375.87,69.21 376.59,69.22 377.31,69.22 378.04,69.23 378.76,69.23 379.49,69.24 380.21,69.24 380.94,69.24 381.66,69.25 382.38,69.25 383.11,69.25 383.83,69.26 384.56,69.26 385.28,69.26 386.01,69.26 386.73,69.26 387.45,69.26 388.18,69.26 388.9,69.27 389.63,69.27 390.35,69.27 391.08,69.27 391.8,69.27 392.52,69.27 393.25,69.27 393.97,69.27 394.7,69.28 395.42,69.28 396.15,69.28 396.87,69.28 397.59,69.28 398.32,69.28 399.04,69.28 399.77,69.29 400.49,69.29 401.22,69.29 401.94,69.29 402.66,69.29 403.39,69.29 404.11,69.29 404.84,69.29 405.56,69.3 406.29,69.3 407.01,69.3 407.73,69.3 408.46,69.3 409.18,69.3 409.91,69.3 410.63,69.3 411.36,69.31 412.08,69.31 412.8,69.31 413.53,69.31 414.25,69.31 414.98,69.31 415.7,69.31 416.43,69.31 417.15,69.32 417.87,69.32 418.6,69.32 419.32,69.32 420.05,69.32 420.77,69.32 421.5,69.32 422.22,69.32 422.94,69.33 423.67,69.33 424.39,69.33 425.12,69.33 425.84,69.33 426.57,69.33 427.29,69.33 428.01,69.33 428.74,69.33 429.46,69.34 430.19,69.34 430.91,69.34 431.64,69.34 432.36,69.34 433.08,69.34 433.81,69.34 434.53,69.34 435.26,69.34 435.98,69.35 436.71,69.35 437.43,69.35 438.15,69.35 438.88,69.35 439.6,69.35 440.33,69.35 441.05,69.35 441.78,69.35 442.5,69.35 443.22,69.36 443.95,69.36 444.67,69.36 445.4,69.36 446.12,69.36 446.85,69.36 447.57,69.36 448.29,69.36 449.02,69.36 449.74,69.36 450.47,69.37 451.19,69.37 451.92,69.37 452.64,69.37 453.36,69.37 454.09,69.37 454.81,69.37 455.54,69.37 456.26,69.37 456.99,69.37 457.71,69.38 458.43,69.38 459.16,69.38 459.88,69.38 460.61,69.38 461.33,69.38 462.06,69.38 462.78,69.38 463.5,69.38 464.23,69.38 464.95,69.38 465.68,69.38 466.4,69.39 467.13,69.39 467.85,69.39 468.57,69.39 469.3,69.39 470.02,69.39 470.75,69.39 471.47,69.39 472.2,69.39 472.92,69.39 473.64,69.39 474.37,69.4 475.09,69.4 475.82,69.4 476.54,69.4 477.27,69.4 477.99,69.4 478.71,69.4 479.44,69.4 480.16,69.4 480.89,69.4 481.61,69.4 482.34,69.4 483.06,69.4 483.78,69.41 484.51,69.41 485.23,69.41 485.96,69.41 486.68,69.41 487.41,69.41 488.13,69.41 488.85,69.41 489.58,69.41 490.3,69.41 491.03,69.41 491.75,69.41 492.48,69.41 493.2,69.42 493.92,69.42 494.65,69.42 495.37,69.42 496.1,69.42 496.82,69.42 497.55,69.42 498.27,69.42 498.99,69.42 499.72,69.42 500.44,69.42 501.17,69.42 501.89,69.42 502.62,69.42 503.34,69.43 504.06,69.43 504.79,69.43 505.51,69.43 506.24,69.43 506.96,69.43 507.69,69.43 508.41,69.43 509.13,69.43 509.86,69.43 510.58,69.43 511.31,69.43 512.03,69.43 512.76,69.43 513.48,69.43 514.2,69.43 514.93,69.44 515.65,69.44 516.38,69.44 517.1,69.44 517.83,69.44 518.55,69.44 519.27,69.44 520,69.44 520.72,69.44 521.45,69.44 522.17,69.44 522.9,69.44 523.62,69.44 524.34,69.44 525.07,69.44 525.79,69.44 526.52,69.44 527.24,69.44 527.97,69.45 528.69,69.45 529.41,69.45 530.14,69.45 530.86,69.45 531.59,69.45 532.31,69.45 533.04,69.45 533.76,69.45 534.48,69.45 535.21,69.45 535.93,69.45 536.66,69.45 537.38,69.45 538.11,69.45 538.83,69.45 539.55,69.45 540.28,69.45 541,69.45 541.73,69.45 542.45,69.46 543.18,69.46 543.9,69.46 544.62,69.46 545.35,69.46 546.07,69.46 546.8,69.46 547.52,69.46 548.25,69.46 548.97,69.46 549.69,69.46 550.42,69.46 551.14,69.46 551.87,69.46 552.59,69.46 553.32,69.46 554.04,69.46 554.76,69.46 555.49,69.46 556.21,69.46 556.94,69.46 557.66,69.46 558.39,69.46 559.11,69.46 559.83,69.46 560.56,69.47 561.28,69.47 562.01,69.47 562.73,69.47 563.46,69.47 564.18,69.47 564.9,69.47 565.63,69.47 566.35,69.47 567.08,69.47 567.8,69.47 568.53,69.47 569.25,69.47 569.97,69.47 570.7,69.47 571.42,69.47 572.15,69.47 572.87,69.47 573.6,69.47 574.32,69.47 575.04,69.47 575.77,69.47 576.49,69.47 577.22,69.47 577.94,69.47 578.67,69.47 579.39,69.47 580.11,69.47 580.84,69.47 581.56,69.47 582.29,69.47 583.01,69.47 583.74,69.48 584.46,69.48 585.18,69.48 585.91,69.48 586.63,69.48 587.36,69.48 588.08,69.48 588.81,69.48 589.53,69.48 590.25,69.48 590.98,69.48 591.7,69.48 592.43,69.48 593.15,69.48 593.88,69.48 594.6,69.48 595.32,69.48 596.05,69.48 596.77,69.48 597.5,69.48 598.22,69.48 598.95,69.48 599.67,69.48 600.39,69.48 601.12,69.48 601.84,69.48 602.57,69.48 603.29,69.48 604.02,69.48 604.74,69.48 605.46,69.48 606.19,69.48 606.91,69.48 607.64,69.48 608.36,69.48 609.09,69.48 609.81,69.48 610.53,69.48 611.26,69.48 611.98,69.48 612.71,69.48 613.43,69.48 614.16,69.48 614.88,69.48 615.6,69.48 616.33,69.48 617.05,69.48 617.78,69.48 618.5,69.48 619.23,69.48 619.95,69.48 620.67,69.48 621.4,69.48 622.12,69.48 622.85,69.48 623.57,69.48 624.3,69.48 625.02,69.48 625.74,69.48 626.47,69.48 627.19,69.48 627.92,69.48 628.64,69.48 629.37,69.48 630.09,69.48 630.81,69.49 631.54,69.49 632.26,69.49 632.99,69.49 633.71,69.49 634.44,69.49 635.16,69.49 635.88,69.49 636.61,69.49 637.33,69.49 638.06,69.49 638.78,69.49 639.51,69.49 640.23,69.49 640.95,69.49 641.68,69.49 642.4,69.49 643.13,69.49 643.85,69.49 644.58,69.49 645.3,69.49" fill="none" stroke="#B07CE0" stroke-width="3.8" stroke-linejoin="round" stroke-linecap="butt"/>
<polyline points="138.3,64.93 139.02,64.52 139.75,62.11 140.47,64.17 141.2,64.24 141.92,63.77 142.65,60.51 143.37,61.81 144.09,62.11 144.82,64.14 145.54,63.75 146.27,65.16 146.99,64.01 147.72,63.79 148.44,62.86 149.16,64.15 149.89,64.34 150.61,64.07 151.34,64.2 152.06,64.7 152.79,64.76 153.51,64.81 154.23,64.92 154.96,65.38 155.68,65.34 156.41,65.89 157.13,66.17 157.86,65.73 158.58,64.51 159.3,63.98 160.03,66.22 160.75,67.49 161.48,67.19 162.2,64.16 162.93,62.59 163.65,62.91 164.37,64.02 165.1,64.91 165.82,63.76 166.55,63.38 167.27,63.6 168,63.99 168.72,63.6 169.44,64.16 170.17,64.99 170.89,64.82 171.62,63.1 172.34,63.38 173.07,63.88 173.79,63.82 174.51,62.82 175.24,63.27 175.96,63.71 176.69,63.34 177.41,62.26 178.14,62.47 178.86,61.27 179.58,61.17 180.31,61.2 181.03,62.42 181.76,63.81 182.48,63.06 183.21,62.6 183.93,59.38 184.65,58.52 185.38,57.89 186.1,58.4 186.83,57.95 187.55,58.04 188.28,57.23 189,56.58 189.72,55.13 190.45,55.01 191.17,55.27 191.9,55.59 192.62,55.58 193.35,54.96 194.07,54.34 194.79,53.91 195.52,53.59 196.24,53 196.97,52.37 197.69,51.89 198.42,51.8 199.14,51.6 199.86,51.28 200.59,50.91 201.31,50.62 202.04,50.29 202.76,50.03 203.49,49.83 204.21,49.83 204.93,49.87 205.66,49.96 206.38,50.18 207.11,50.55 207.83,50.95 208.56,51.44 209.28,51.99 210,52.62 210.73,53.26 211.45,54.09 212.18,55.27 212.9,56.75 213.63,58.49 214.35,60.43 215.07,62.51 215.8,64.71 216.52,66.97 217.25,69.51 217.97,72.53 218.7,75.94 219.42,79.66 220.14,83.61 220.87,87.7 221.59,91.85 222.32,95.96 223.04,99.96 223.77,103.75 224.49,107.27 225.21,110.41 225.94,113.46 226.66,116.7 227.39,120.02 228.11,123.33 228.84,126.52 229.56,129.49 230.28,132.15 231.01,134.39 231.73,136.11 232.46,137.22 233.18,137.61 233.91,136.91 234.63,135.04 235.35,132.28 236.08,128.96 236.8,125.37 237.53,121.83 238.25,118.65 238.98,116.12 239.7,114.01 240.42,111.9 241.15,109.79 241.87,107.72 242.6,105.69 243.32,103.74 244.05,101.88 244.77,100.13 245.49,98.51 246.22,97.05 246.94,95.76 247.67,94.67 248.39,93.79 249.12,93.15 249.84,92.61 250.56,92.13 251.29,91.68 252.01,91.27 252.74,90.89 253.46,90.55 254.19,90.23 254.91,89.93 255.63,89.65 256.36,89.38 257.08,89.13 257.81,88.88 258.53,88.63 259.26,88.38 259.98,88.13 260.7,87.86 261.43,87.59 262.15,87.29 262.88,86.97 263.6,86.64 264.33,86.31 265.05,85.98 265.77,85.64 266.5,85.31 267.22,84.97 267.95,84.64 268.67,84.3 269.4,83.96 270.12,83.62 270.84,83.28 271.57,82.95 272.29,82.61 273.02,82.27 273.74,81.94 274.47,81.61 275.19,81.27 275.91,80.94 276.64,80.62 277.36,80.29 278.09,79.97 278.81,79.65 279.54,79.33 280.26,79.02 280.98,78.71 281.71,78.4 282.43,78.1 283.16,77.8 283.88,77.51 284.61,77.22 285.33,76.93 286.05,76.64 286.78,76.36 287.5,76.08 288.23,75.8 288.95,75.52 289.68,75.24 290.4,74.96 291.12,74.68 291.85,74.4 292.57,74.11 293.3,73.83 294.02,73.53 294.75,73.2 295.47,72.86 296.19,72.5 296.92,72.15 297.64,71.81 298.37,71.48 299.09,71.18 299.82,70.91 300.54,70.69 301.26,70.51 301.99,70.4 302.71,70.32 303.44,70.24 304.16,70.17 304.89,70.1 305.61,70.03 306.33,69.96 307.06,69.89 307.78,69.83 308.51,69.77 309.23,69.71 309.96,69.66 310.68,69.6 311.4,69.55 312.13,69.5 312.85,69.46 313.58,69.41 314.3,69.37 315.03,69.33 315.75,69.3 316.47,69.26 317.2,69.23 317.92,69.2 318.65,69.17 319.37,69.15 320.1,69.13 320.82,69.1 321.54,69.09 322.27,69.07 322.99,69.06 323.72,69.05 324.44,69.04 325.17,69.03 325.89,69.03 326.61,69.03 327.34,69.03 328.06,69.03 328.79,69.03 329.51,69.03 330.24,69.03 330.96,69.03 331.68,69.03 332.41,69.03 333.13,69.03 333.86,69.03 334.58,69.03 335.31,69.03 336.03,69.03 336.75,69.03 337.48,69.03 338.2,69.03 338.93,69.03 339.65,69.03 340.38,69.03 341.1,69.03 341.82,69.03 342.55,69.03 343.27,69.03 344,69.03 344.72,69.03 345.45,69.03 346.17,69.03 346.89,69.03 347.62,69.03 348.34,69.03 349.07,69.03 349.79,69.03 350.52,69.03 351.24,69.03 351.96,69.03 352.69,69.03 353.41,69.03 354.14,69.03 354.86,69.03 355.59,69.03 356.31,69.03 357.03,69.03 357.76,69.03 358.48,69.03 359.21,69.03 359.93,69.03 360.66,69.03 361.38,69.03 362.1,69.03 362.83,69.03 363.55,69.03 364.28,69.03 365,69.03 365.73,69.03 366.45,69.03 367.17,69.03 367.9,69.03 368.62,69.03 369.35,69.03 370.07,69.03 370.8,69.03 371.52,69.03 372.24,69.03 372.97,69.03 373.69,69.03 374.42,69.03 375.14,69.03 375.87,69.03 376.59,69.03 377.31,69.03 378.04,69.03 378.76,69.03 379.49,69.03 380.21,69.03 380.94,69.03 381.66,69.03 382.38,69.03 383.11,69.03 383.83,69.03 384.56,69.03 385.28,69.03 386.01,69.03 386.73,69.03 387.45,69.03 388.18,69.03 388.9,69.03 389.63,69.03 390.35,69.03 391.08,69.03 391.8,69.03 392.52,69.03 393.25,69.03 393.97,69.03 394.7,69.04 395.42,69.04 396.15,69.04 396.87,69.04 397.59,69.04 398.32,69.04 399.04,69.04 399.77,69.04 400.49,69.04 401.22,69.04 401.94,69.04 402.66,69.04 403.39,69.04 404.11,69.04 404.84,69.04 405.56,69.04 406.29,69.04 407.01,69.04 407.73,69.04 408.46,69.04 409.18,69.04 409.91,69.04 410.63,69.04 411.36,69.04 412.08,69.04 412.8,69.04 413.53,69.04 414.25,69.04 414.98,69.04 415.7,69.04 416.43,69.04 417.15,69.04 417.87,69.04 418.6,69.04 419.32,69.05 420.05,69.05 420.77,69.05 421.5,69.05 422.22,69.05 422.94,69.05 423.67,69.05 424.39,69.05 425.12,69.05 425.84,69.05 426.57,69.05 427.29,69.05 428.01,69.05 428.74,69.05 429.46,69.05 430.19,69.05 430.91,69.05 431.64,69.05 432.36,69.05 433.08,69.05 433.81,69.05 434.53,69.06 435.26,69.06 435.98,69.06 436.71,69.06 437.43,69.06 438.15,69.06 438.88,69.06 439.6,69.06 440.33,69.06 441.05,69.06 441.78,69.06 442.5,69.06 443.22,69.06 443.95,69.06 444.67,69.06 445.4,69.06 446.12,69.06 446.85,69.07 447.57,69.07 448.29,69.07 449.02,69.07 449.74,69.07 450.47,69.07 451.19,69.07 451.92,69.07 452.64,69.07 453.36,69.07 454.09,69.07 454.81,69.07 455.54,69.07 456.26,69.07 456.99,69.08 457.71,69.08 458.43,69.08 459.16,69.08 459.88,69.08 460.61,69.08 461.33,69.08 462.06,69.08 462.78,69.08 463.5,69.08 464.23,69.08 464.95,69.08 465.68,69.09 466.4,69.09 467.13,69.09 467.85,69.09 468.57,69.09 469.3,69.09 470.02,69.09 470.75,69.09 471.47,69.09 472.2,69.09 472.92,69.09 473.64,69.1 474.37,69.1 475.09,69.1 475.82,69.1 476.54,69.1 477.27,69.1 477.99,69.1 478.71,69.1 479.44,69.1 480.16,69.11 480.89,69.11 481.61,69.11 482.34,69.11 483.06,69.11 483.78,69.11 484.51,69.11 485.23,69.11 485.96,69.11 486.68,69.12 487.41,69.12 488.13,69.12 488.85,69.12 489.58,69.12 490.3,69.12 491.03,69.12 491.75,69.12 492.48,69.13 493.2,69.13 493.92,69.13 494.65,69.13 495.37,69.13 496.1,69.13 496.82,69.13 497.55,69.13 498.27,69.14 498.99,69.14 499.72,69.14 500.44,69.14 501.17,69.14 501.89,69.14 502.62,69.14 503.34,69.15 504.06,69.15 504.79,69.15 505.51,69.15 506.24,69.15 506.96,69.15 507.69,69.15 508.41,69.16 509.13,69.16 509.86,69.16 510.58,69.16 511.31,69.16 512.03,69.16 512.76,69.17 513.48,69.17 514.2,69.17 514.93,69.17 515.65,69.17 516.38,69.17 517.1,69.17 517.83,69.18 518.55,69.18 519.27,69.18 520,69.18 520.72,69.18 521.45,69.19 522.17,69.19 522.9,69.19 523.62,69.19 524.34,69.19 525.07,69.19 525.79,69.2 526.52,69.2 527.24,69.2 527.97,69.2 528.69,69.2 529.41,69.21 530.14,69.21 530.86,69.21 531.59,69.21 532.31,69.21 533.04,69.21 533.76,69.22 534.48,69.22 535.21,69.22 535.93,69.22 536.66,69.22 537.38,69.23 538.11,69.23 538.83,69.23 539.55,69.23 540.28,69.24 541,69.24 541.73,69.24 542.45,69.24 543.18,69.24 543.9,69.25 544.62,69.25 545.35,69.25 546.07,69.25 546.8,69.25 547.52,69.26 548.25,69.26 548.97,69.26 549.69,69.26 550.42,69.27 551.14,69.27 551.87,69.27 552.59,69.27 553.32,69.28 554.04,69.28 554.76,69.28 555.49,69.28 556.21,69.28 556.94,69.29 557.66,69.29 558.39,69.29 559.11,69.29 559.83,69.3 560.56,69.3 561.28,69.3 562.01,69.3 562.73,69.31 563.46,69.31 564.18,69.31 564.9,69.32 565.63,69.32 566.35,69.32 567.08,69.32 567.8,69.33 568.53,69.33 569.25,69.33 569.97,69.33 570.7,69.34 571.42,69.34 572.15,69.34 572.87,69.34 573.6,69.35 574.32,69.35 575.04,69.35 575.77,69.36 576.49,69.36 577.22,69.36 577.94,69.36 578.67,69.37 579.39,69.37 580.11,69.37 580.84,69.38 581.56,69.38 582.29,69.38 583.01,69.39 583.74,69.39 584.46,69.39 585.18,69.39 585.91,69.4 586.63,69.4 587.36,69.4 588.08,69.41 588.81,69.41 589.53,69.41 590.25,69.42 590.98,69.42 591.7,69.42 592.43,69.43 593.15,69.43 593.88,69.43 594.6,69.44 595.32,69.44 596.05,69.44 596.77,69.45 597.5,69.45 598.22,69.45 598.95,69.46 599.67,69.46 600.39,69.46 601.12,69.47 601.84,69.47 602.57,69.47 603.29,69.48 604.02,69.48 604.74,69.48 605.46,69.49 606.19,69.49 606.91,69.5 607.64,69.5 608.36,69.5 609.09,69.51 609.81,69.51 610.53,69.51 611.26,69.52 611.98,69.52 612.71,69.52 613.43,69.53 614.16,69.53 614.88,69.54 615.6,69.54 616.33,69.54 617.05,69.55 617.78,69.55 618.5,69.56 619.23,69.56 619.95,69.56 620.67,69.57 621.4,69.57 622.12,69.58 622.85,69.58 623.57,69.58 624.3,69.59 625.02,69.59 625.74,69.6 626.47,69.6 627.19,69.6 627.92,69.61 628.64,69.61 629.37,69.62 630.09,69.62 630.81,69.62 631.54,69.63 632.26,69.63 632.99,69.64 633.71,69.64 634.44,69.65 635.16,69.65 635.88,69.66 636.61,69.66 637.33,69.66 638.06,69.67 638.78,69.67 639.51,69.68 640.23,69.68 640.95,69.69 641.68,69.69 642.4,69.7 643.13,69.7 643.85,69.7 644.58,69.71 645.3,69.71" fill="none" stroke="#1BCFCF" stroke-width="3.8" stroke-linejoin="round" stroke-linecap="butt"/>
<polyline points="138.3,58.99 139.02,43.75 139.75,41.62 140.47,39.9 141.2,41.45 141.92,43.59 142.65,52.8 143.37,55.95 144.09,58.66 144.82,60.94 145.54,61.53 146.27,61.84 146.99,62.18 147.72,62.82 148.44,62.98 149.16,62.62 149.89,62.87 150.61,62.64 151.34,63.28 152.06,63.9 152.79,63.54 153.51,62.7 154.23,62.11 154.96,62.11 155.68,62.43 156.41,62.74 157.13,62.56 157.86,63.64 158.58,63.12 159.3,63.33 160.03,62.92 160.75,62.15 161.48,62.75 162.2,61.66 162.93,62.49 163.65,61.9 164.37,62.5 165.1,61.28 165.82,61.35 166.55,60.76 167.27,61.4 168,61.36 168.72,61.78 169.44,61.76 170.17,61.2 170.89,60.48 171.62,60.22 172.34,60.54 173.07,60.43 173.79,60.94 174.51,60.68 175.24,61.72 175.96,61.34 176.69,61.15 177.41,60.59 178.14,60.52 178.86,59.73 179.58,58.54 180.31,57.2 181.03,56.77 181.76,56.36 182.48,56.15 183.21,56.19 183.93,55.51 184.65,56.16 185.38,55.93 186.1,55.58 186.83,54.01 187.55,53.4 188.28,53.51 189,52.99 189.72,52.59 190.45,52.37 191.17,51.73 191.9,51.26 192.62,50.43 193.35,50.57 194.07,50.46 194.79,49.84 195.52,48.74 196.24,48.12 196.97,47.64 197.69,47.13 198.42,46.29 199.14,45.67 199.86,45.18 200.59,44.75 201.31,44.24 202.04,43.82 202.76,43.48 203.49,43.43 204.21,43.32 204.93,43.36 205.66,43.42 206.38,43.64 207.11,43.93 207.83,44.32 208.56,44.78 209.28,45.28 210,45.82 210.73,46.39 211.45,47.13 212.18,48.12 212.9,49.36 213.63,50.8 214.35,52.49 215.07,54.37 215.8,56.44 216.52,58.66 217.25,61.04 217.97,63.53 218.7,66.71 219.42,70.95 220.14,76.02 220.87,81.66 221.59,87.63 222.32,93.69 223.04,99.58 223.77,105.07 224.49,109.9 225.21,113.84 225.94,117.3 226.66,120.82 227.39,124.33 228.11,127.77 228.84,131.06 229.56,134.14 230.28,136.94 231.01,139.38 231.73,141.4 232.46,142.93 233.18,143.9 233.91,144.24 234.63,143.45 235.35,141.32 236.08,138.2 236.8,134.41 237.53,130.31 238.25,126.24 238.98,122.54 239.7,119.55 240.42,116.99 241.15,114.37 241.87,111.73 242.6,109.1 243.32,106.54 244.05,104.07 244.77,101.75 245.49,99.6 246.22,97.67 246.94,96 247.67,94.63 248.39,93.59 249.12,92.92 249.84,92.42 250.56,91.97 251.29,91.56 252.01,91.19 252.74,90.86 253.46,90.55 254.19,90.28 254.91,90.02 255.63,89.79 256.36,89.56 257.08,89.35 257.81,89.14 258.53,88.93 259.26,88.72 259.98,88.49 260.7,88.26 261.43,88.01 262.15,87.73 262.88,87.43 263.6,87.11 264.33,86.78 265.05,86.45 265.77,86.11 266.5,85.77 267.22,85.42 267.95,85.07 268.67,84.71 269.4,84.35 270.12,83.99 270.84,83.63 271.57,83.27 272.29,82.9 273.02,82.54 273.74,82.17 274.47,81.81 275.19,81.45 275.91,81.09 276.64,80.74 277.36,80.39 278.09,80.04 278.81,79.7 279.54,79.37 280.26,79.04 280.98,78.72 281.71,78.4 282.43,78.09 283.16,77.79 283.88,77.49 284.61,77.2 285.33,76.91 286.05,76.63 286.78,76.34 287.5,76.06 288.23,75.79 288.95,75.51 289.68,75.23 290.4,74.95 291.12,74.67 291.85,74.39 292.57,74.11 293.3,73.83 294.02,73.53 294.75,73.2 295.47,72.86 296.19,72.5 296.92,72.15 297.64,71.81 298.37,71.48 299.09,71.18 299.82,70.91 300.54,70.69 301.26,70.51 301.99,70.4 302.71,70.32 303.44,70.24 304.16,70.17 304.89,70.1 305.61,70.03 306.33,69.96 307.06,69.89 307.78,69.83 308.51,69.77 309.23,69.71 309.96,69.66 310.68,69.6 311.4,69.55 312.13,69.5 312.85,69.46 313.58,69.41 314.3,69.37 315.03,69.33 315.75,69.3 316.47,69.26 317.2,69.23 317.92,69.2 318.65,69.17 319.37,69.15 320.1,69.13 320.82,69.1 321.54,69.09 322.27,69.07 322.99,69.06 323.72,69.05 324.44,69.04 325.17,69.03 325.89,69.03 326.61,69.03 327.34,69.03 328.06,69.03 328.79,69.03 329.51,69.03 330.24,69.03 330.96,69.03 331.68,69.03 332.41,69.03 333.13,69.03 333.86,69.03 334.58,69.03 335.31,69.03 336.03,69.03 336.75,69.03 337.48,69.03 338.2,69.03 338.93,69.03 339.65,69.03 340.38,69.03 341.1,69.03 341.82,69.03 342.55,69.03 343.27,69.03 344,69.03 344.72,69.03 345.45,69.03 346.17,69.03 346.89,69.03 347.62,69.03 348.34,69.03 349.07,69.03 349.79,69.03 350.52,69.03 351.24,69.03 351.96,69.03 352.69,69.03 353.41,69.03 354.14,69.03 354.86,69.03 355.59,69.03 356.31,69.03 357.03,69.03 357.76,69.03 358.48,69.03 359.21,69.03 359.93,69.03 360.66,69.03 361.38,69.03 362.1,69.03 362.83,69.03 363.55,69.03 364.28,69.03 365,69.03 365.73,69.03 366.45,69.03 367.17,69.03 367.9,69.03 368.62,69.03 369.35,69.03 370.07,69.03 370.8,69.03 371.52,69.03 372.24,69.03 372.97,69.03 373.69,69.03 374.42,69.03 375.14,69.03 375.87,69.03 376.59,69.03 377.31,69.03 378.04,69.03 378.76,69.03 379.49,69.03 380.21,69.03 380.94,69.03 381.66,69.03 382.38,69.03 383.11,69.03 383.83,69.03 384.56,69.03 385.28,69.03 386.01,69.03 386.73,69.03 387.45,69.03 388.18,69.03 388.9,69.03 389.63,69.03 390.35,69.03 391.08,69.03 391.8,69.03 392.52,69.03 393.25,69.03 393.97,69.03 394.7,69.04 395.42,69.04 396.15,69.04 396.87,69.04 397.59,69.04 398.32,69.04 399.04,69.04 399.77,69.04 400.49,69.04 401.22,69.04 401.94,69.04 402.66,69.04 403.39,69.04 404.11,69.04 404.84,69.04 405.56,69.04 406.29,69.04 407.01,69.04 407.73,69.04 408.46,69.04 409.18,69.04 409.91,69.04 410.63,69.04 411.36,69.04 412.08,69.04 412.8,69.04 413.53,69.04 414.25,69.04 414.98,69.04 415.7,69.04 416.43,69.04 417.15,69.04 417.87,69.04 418.6,69.04 419.32,69.05 420.05,69.05 420.77,69.05 421.5,69.05 422.22,69.05 422.94,69.05 423.67,69.05 424.39,69.05 425.12,69.05 425.84,69.05 426.57,69.05 427.29,69.05 428.01,69.05 428.74,69.05 429.46,69.05 430.19,69.05 430.91,69.05 431.64,69.05 432.36,69.05 433.08,69.05 433.81,69.05 434.53,69.06 435.26,69.06 435.98,69.06 436.71,69.06 437.43,69.06 438.15,69.06 438.88,69.06 439.6,69.06 440.33,69.06 441.05,69.06 441.78,69.06 442.5,69.06 443.22,69.06 443.95,69.06 444.67,69.06 445.4,69.06 446.12,69.06 446.85,69.07 447.57,69.07 448.29,69.07 449.02,69.07 449.74,69.07 450.47,69.07 451.19,69.07 451.92,69.07 452.64,69.07 453.36,69.07 454.09,69.07 454.81,69.07 455.54,69.07 456.26,69.07 456.99,69.08 457.71,69.08 458.43,69.08 459.16,69.08 459.88,69.08 460.61,69.08 461.33,69.08 462.06,69.08 462.78,69.08 463.5,69.08 464.23,69.08 464.95,69.08 465.68,69.09 466.4,69.09 467.13,69.09 467.85,69.09 468.57,69.09 469.3,69.09 470.02,69.09 470.75,69.09 471.47,69.09 472.2,69.09 472.92,69.09 473.64,69.1 474.37,69.1 475.09,69.1 475.82,69.1 476.54,69.1 477.27,69.1 477.99,69.1 478.71,69.1 479.44,69.1 480.16,69.11 480.89,69.11 481.61,69.11 482.34,69.11 483.06,69.11 483.78,69.11 484.51,69.11 485.23,69.11 485.96,69.11 486.68,69.12 487.41,69.12 488.13,69.12 488.85,69.12 489.58,69.12 490.3,69.12 491.03,69.12 491.75,69.12 492.48,69.13 493.2,69.13 493.92,69.13 494.65,69.13 495.37,69.13 496.1,69.13 496.82,69.13 497.55,69.13 498.27,69.14 498.99,69.14 499.72,69.14 500.44,69.14 501.17,69.14 501.89,69.14 502.62,69.14 503.34,69.15 504.06,69.15 504.79,69.15 505.51,69.15 506.24,69.15 506.96,69.15 507.69,69.15 508.41,69.16 509.13,69.16 509.86,69.16 510.58,69.16 511.31,69.16 512.03,69.16 512.76,69.17 513.48,69.17 514.2,69.17 514.93,69.17 515.65,69.17 516.38,69.17 517.1,69.17 517.83,69.18 518.55,69.18 519.27,69.18 520,69.18 520.72,69.18 521.45,69.19 522.17,69.19 522.9,69.19 523.62,69.19 524.34,69.19 525.07,69.19 525.79,69.2 526.52,69.2 527.24,69.2 527.97,69.2 528.69,69.2 529.41,69.21 530.14,69.21 530.86,69.21 531.59,69.21 532.31,69.21 533.04,69.21 533.76,69.22 534.48,69.22 535.21,69.22 535.93,69.22 536.66,69.22 537.38,69.23 538.11,69.23 538.83,69.23 539.55,69.23 540.28,69.24 541,69.24 541.73,69.24 542.45,69.24 543.18,69.24 543.9,69.25 544.62,69.25 545.35,69.25 546.07,69.25 546.8,69.25 547.52,69.26 548.25,69.26 548.97,69.26 549.69,69.26 550.42,69.27 551.14,69.27 551.87,69.27 552.59,69.27 553.32,69.28 554.04,69.28 554.76,69.28 555.49,69.28 556.21,69.28 556.94,69.29 557.66,69.29 558.39,69.29 559.11,69.29 559.83,69.3 560.56,69.3 561.28,69.3 562.01,69.3 562.73,69.31 563.46,69.31 564.18,69.31 564.9,69.32 565.63,69.32 566.35,69.32 567.08,69.32 567.8,69.33 568.53,69.33 569.25,69.33 569.97,69.33 570.7,69.34 571.42,69.34 572.15,69.34 572.87,69.34 573.6,69.35 574.32,69.35 575.04,69.35 575.77,69.36 576.49,69.36 577.22,69.36 577.94,69.36 578.67,69.37 579.39,69.37 580.11,69.37 580.84,69.38 581.56,69.38 582.29,69.38 583.01,69.39 583.74,69.39 584.46,69.39 585.18,69.39 585.91,69.4 586.63,69.4 587.36,69.4 588.08,69.41 588.81,69.41 589.53,69.41 590.25,69.42 590.98,69.42 591.7,69.42 592.43,69.43 593.15,69.43 593.88,69.43 594.6,69.44 595.32,69.44 596.05,69.44 596.77,69.45 597.5,69.45 598.22,69.45 598.95,69.46 599.67,69.46 600.39,69.46 601.12,69.47 601.84,69.47 602.57,69.47 603.29,69.48 604.02,69.48 604.74,69.48 605.46,69.49 606.19,69.49 606.91,69.5 607.64,69.5 608.36,69.5 609.09,69.51 609.81,69.51 610.53,69.51 611.26,69.52 611.98,69.52 612.71,69.52 613.43,69.53 614.16,69.53 614.88,69.54 615.6,69.54 616.33,69.54 617.05,69.55 617.78,69.55 618.5,69.56 619.23,69.56 619.95,69.56 620.67,69.57 621.4,69.57 622.12,69.58 622.85,69.58 623.57,69.58 624.3,69.59 625.02,69.59 625.74,69.6 626.47,69.6 627.19,69.6 627.92,69.61 628.64,69.61 629.37,69.62 630.09,69.62 630.81,69.62 631.54,69.63 632.26,69.63 632.99,69.64 633.71,69.64 634.44,69.65 635.16,69.65 635.88,69.66 636.61,69.66 637.33,69.66 638.06,69.67 638.78,69.67 639.51,69.68 640.23,69.68 640.95,69.69 641.68,69.69 642.4,69.7 643.13,69.7 643.85,69.7 644.58,69.71 645.3,69.71" fill="none" stroke="#D39D0E" stroke-width="3.8" stroke-linejoin="round" stroke-linecap="butt"/>
<polyline points="138.3,64.26 139.02,65.35 139.75,65.63 140.47,65.26 141.2,64.72 141.92,64.74 142.65,64.78 143.37,66.25 144.09,66.36 144.82,65.87 145.54,65.62 146.27,65.57 146.99,68.01 147.72,69 148.44,69.6 149.16,68.28 149.89,67.43 150.61,66.87 151.34,66.96 152.06,66.97 152.79,66.84 153.51,66.2 154.23,67.47 154.96,67.07 155.68,66.44 156.41,64.73 157.13,65.58 157.86,67.24 158.58,67.93 159.3,66.9 160.03,66.22 160.75,67.33 161.48,69.99 162.2,70.03 162.93,67.51 163.65,66.53 164.37,67.01 165.1,68.35 165.82,67.26 166.55,66.4 167.27,67.31 168,67.42 168.72,68.29 169.44,66.89 170.17,66.72 170.89,65.7 171.62,66.86 172.34,67.69 173.07,68.72 173.79,68.26 174.51,68 175.24,68.24 175.96,68.23 176.69,68.65 177.41,67.25 178.14,67.07 178.86,66.72 179.58,67.03 180.31,67.49 181.03,66.38 181.76,66.49 182.48,64.39 183.21,64.09 183.93,64.12 184.65,64.39 185.38,64.39 186.1,63.28 186.83,65.2 187.55,65.14 188.28,65.36 189,62.44 189.72,62.34 190.45,61.52 191.17,61.69 191.9,61.33 192.62,61.18 193.35,60.57 194.07,59.96 194.79,59.6 195.52,59.45 196.24,59.12 196.97,58.78 197.69,58.53 198.42,58.46 199.14,58.27 199.86,58.02 200.59,57.59 201.31,57.51 202.04,57.32 202.76,57.39 203.49,57.26 204.21,57.5 204.93,57.67 205.66,58.07 206.38,58.39 207.11,58.79 207.83,59.17 208.56,59.64 209.28,60.12 210,60.69 210.73,61.33 211.45,62.12 212.18,62.99 212.9,63.98 213.63,65.09 214.35,66.29 215.07,67.59 215.8,68.94 216.52,70.39 217.25,72.12 217.97,74.3 218.7,76.84 219.42,79.69 220.14,82.76 220.87,85.98 221.59,89.29 222.32,92.62 223.04,95.89 223.77,99.04 224.49,102 225.21,104.69 225.94,107.37 226.66,110.28 227.39,113.3 228.11,116.35 228.84,119.33 229.56,122.12 230.28,124.63 231.01,126.75 231.73,128.4 232.46,129.46 233.18,129.84 233.91,129.16 234.63,127.31 235.35,124.6 236.08,121.3 236.8,117.71 237.53,114.13 238.25,110.83 238.98,108.12 239.7,105.72 240.42,103.23 241.15,100.77 241.87,98.45 242.6,96.37 243.32,94.64 244.05,93.38 244.77,92.59 245.49,91.92 246.22,91.32 246.94,90.78 247.67,90.3 248.39,89.87 249.12,89.47 249.84,89.11 250.56,88.78 251.29,88.47 252.01,88.16 252.74,87.86 253.46,87.56 254.19,87.25 254.91,86.95 255.63,86.66 256.36,86.39 257.08,86.14 257.81,85.89 258.53,85.65 259.26,85.42 259.98,85.2 260.7,84.98 261.43,84.77 262.15,84.56 262.88,84.35 263.6,84.15 264.33,83.95 265.05,83.75 265.77,83.54 266.5,83.33 267.22,83.12 267.95,82.9 268.67,82.68 269.4,82.45 270.12,82.21 270.84,81.96 271.57,81.7 272.29,81.43 273.02,81.14 273.74,80.84 274.47,80.51 275.19,80.17 275.91,79.82 276.64,79.46 277.36,79.1 278.09,78.72 278.81,78.35 279.54,77.97 280.26,77.6 280.98,77.23 281.71,76.87 282.43,76.52 283.16,76.17 283.88,75.85 284.61,75.54 285.33,75.24 286.05,74.97 286.78,74.71 287.5,74.44 288.23,74.18 288.95,73.91 289.68,73.64 290.4,73.37 291.12,73.11 291.85,72.85 292.57,72.6 293.3,72.35 294.02,72.11 294.75,71.88 295.47,71.66 296.19,71.46 296.92,71.26 297.64,71.09 298.37,70.92 299.09,70.78 299.82,70.65 300.54,70.55 301.26,70.46 301.99,70.4 302.71,70.35 303.44,70.3 304.16,70.25 304.89,70.21 305.61,70.16 306.33,70.12 307.06,70.08 307.78,70.04 308.51,70 309.23,69.96 309.96,69.92 310.68,69.89 311.4,69.85 312.13,69.82 312.85,69.79 313.58,69.76 314.3,69.73 315.03,69.7 315.75,69.68 316.47,69.65 317.2,69.63 317.92,69.61 318.65,69.59 319.37,69.57 320.1,69.56 320.82,69.54 321.54,69.53 322.27,69.52 322.99,69.51 323.72,69.5 324.44,69.49 325.17,69.49 325.89,69.49 326.61,69.49 327.34,69.49 328.06,69.49 328.79,69.49 329.51,69.49 330.24,69.49 330.96,69.49 331.68,69.49 332.41,69.49 333.13,69.49 333.86,69.49 334.58,69.49 335.31,69.49 336.03,69.49 336.75,69.49 337.48,69.49 338.2,69.49 338.93,69.49 339.65,69.49 340.38,69.49 341.1,69.49 341.82,69.49 342.55,69.49 343.27,69.49 344,69.49 344.72,69.49 345.45,69.49 346.17,69.49 346.89,69.49 347.62,69.49 348.34,69.49 349.07,69.49 349.79,69.49 350.52,69.49 351.24,69.49 351.96,69.49 352.69,69.49 353.41,69.49 354.14,69.49 354.86,69.49 355.59,69.49 356.31,69.49 357.03,69.49 357.76,69.49 358.48,69.49 359.21,69.49 359.93,69.49 360.66,69.49 361.38,69.49 362.1,69.49 362.83,69.49 363.55,69.49 364.28,69.49 365,69.49 365.73,69.49 366.45,69.49 367.17,69.49 367.9,69.49 368.62,69.49 369.35,69.49 370.07,69.49 370.8,69.49 371.52,69.49 372.24,69.49 372.97,69.49 373.69,69.49 374.42,69.49 375.14,69.49 375.87,69.49 376.59,69.49 377.31,69.49 378.04,69.49 378.76,69.49 379.49,69.49 380.21,69.49 380.94,69.49 381.66,69.49 382.38,69.49 383.11,69.49 383.83,69.49 384.56,69.49 385.28,69.49 386.01,69.49 386.73,69.49 387.45,69.49 388.18,69.49 388.9,69.49 389.63,69.49 390.35,69.49 391.08,69.49 391.8,69.49 392.52,69.49 393.25,69.49 393.97,69.49 394.7,69.49 395.42,69.49 396.15,69.49 396.87,69.49 397.59,69.49 398.32,69.49 399.04,69.49 399.77,69.49 400.49,69.49 401.22,69.49 401.94,69.49 402.66,69.49 403.39,69.49 404.11,69.49 404.84,69.49 405.56,69.49 406.29,69.49 407.01,69.49 407.73,69.49 408.46,69.49 409.18,69.49 409.91,69.49 410.63,69.49 411.36,69.49 412.08,69.49 412.8,69.49 413.53,69.49 414.25,69.5 414.98,69.5 415.7,69.5 416.43,69.5 417.15,69.5 417.87,69.5 418.6,69.5 419.32,69.5 420.05,69.5 420.77,69.5 421.5,69.5 422.22,69.5 422.94,69.5 423.67,69.5 424.39,69.5 425.12,69.5 425.84,69.5 426.57,69.5 427.29,69.5 428.01,69.5 428.74,69.5 429.46,69.5 430.19,69.5 430.91,69.5 431.64,69.5 432.36,69.5 433.08,69.5 433.81,69.5 434.53,69.5 435.26,69.5 435.98,69.5 436.71,69.5 437.43,69.5 438.15,69.51 438.88,69.51 439.6,69.51 440.33,69.51 441.05,69.51 441.78,69.51 442.5,69.51 443.22,69.51 443.95,69.51 444.67,69.51 445.4,69.51 446.12,69.51 446.85,69.51 447.57,69.51 448.29,69.51 449.02,69.51 449.74,69.51 450.47,69.51 451.19,69.51 451.92,69.51 452.64,69.51 453.36,69.51 454.09,69.51 454.81,69.52 455.54,69.52 456.26,69.52 456.99,69.52 457.71,69.52 458.43,69.52 459.16,69.52 459.88,69.52 460.61,69.52 461.33,69.52 462.06,69.52 462.78,69.52 463.5,69.52 464.23,69.52 464.95,69.52 465.68,69.52 466.4,69.52 467.13,69.52 467.85,69.53 468.57,69.53 469.3,69.53 470.02,69.53 470.75,69.53 471.47,69.53 472.2,69.53 472.92,69.53 473.64,69.53 474.37,69.53 475.09,69.53 475.82,69.53 476.54,69.53 477.27,69.53 477.99,69.53 478.71,69.54 479.44,69.54 480.16,69.54 480.89,69.54 481.61,69.54 482.34,69.54 483.06,69.54 483.78,69.54 484.51,69.54 485.23,69.54 485.96,69.54 486.68,69.54 487.41,69.54 488.13,69.55 488.85,69.55 489.58,69.55 490.3,69.55 491.03,69.55 491.75,69.55 492.48,69.55 493.2,69.55 493.92,69.55 494.65,69.55 495.37,69.55 496.1,69.55 496.82,69.56 497.55,69.56 498.27,69.56 498.99,69.56 499.72,69.56 500.44,69.56 501.17,69.56 501.89,69.56 502.62,69.56 503.34,69.56 504.06,69.56 504.79,69.57 505.51,69.57 506.24,69.57 506.96,69.57 507.69,69.57 508.41,69.57 509.13,69.57 509.86,69.57 510.58,69.57 511.31,69.57 512.03,69.58 512.76,69.58 513.48,69.58 514.2,69.58 514.93,69.58 515.65,69.58 516.38,69.58 517.1,69.58 517.83,69.58 518.55,69.59 519.27,69.59 520,69.59 520.72,69.59 521.45,69.59 522.17,69.59 522.9,69.59 523.62,69.59 524.34,69.59 525.07,69.6 525.79,69.6 526.52,69.6 527.24,69.6 527.97,69.6 528.69,69.6 529.41,69.6 530.14,69.6 530.86,69.61 531.59,69.61 532.31,69.61 533.04,69.61 533.76,69.61 534.48,69.61 535.21,69.61 535.93,69.62 536.66,69.62 537.38,69.62 538.11,69.62 538.83,69.62 539.55,69.62 540.28,69.62 541,69.62 541.73,69.63 542.45,69.63 543.18,69.63 543.9,69.63 544.62,69.63 545.35,69.63 546.07,69.63 546.8,69.64 547.52,69.64 548.25,69.64 548.97,69.64 549.69,69.64 550.42,69.64 551.14,69.65 551.87,69.65 552.59,69.65 553.32,69.65 554.04,69.65 554.76,69.65 555.49,69.65 556.21,69.66 556.94,69.66 557.66,69.66 558.39,69.66 559.11,69.66 559.83,69.66 560.56,69.67 561.28,69.67 562.01,69.67 562.73,69.67 563.46,69.67 564.18,69.67 564.9,69.68 565.63,69.68 566.35,69.68 567.08,69.68 567.8,69.68 568.53,69.69 569.25,69.69 569.97,69.69 570.7,69.69 571.42,69.69 572.15,69.69 572.87,69.7 573.6,69.7 574.32,69.7 575.04,69.7 575.77,69.7 576.49,69.71 577.22,69.71 577.94,69.71 578.67,69.71 579.39,69.71 580.11,69.72 580.84,69.72 581.56,69.72 582.29,69.72 583.01,69.72 583.74,69.73 584.46,69.73 585.18,69.73 585.91,69.73 586.63,69.73 587.36,69.74 588.08,69.74 588.81,69.74 589.53,69.74 590.25,69.74 590.98,69.75 591.7,69.75 592.43,69.75 593.15,69.75 593.88,69.76 594.6,69.76 595.32,69.76 596.05,69.76 596.77,69.76 597.5,69.77 598.22,69.77 598.95,69.77 599.67,69.77 600.39,69.78 601.12,69.78 601.84,69.78 602.57,69.78 603.29,69.78 604.02,69.79 604.74,69.79 605.46,69.79 606.19,69.79 606.91,69.8 607.64,69.8 608.36,69.8 609.09,69.8 609.81,69.81 610.53,69.81 611.26,69.81 611.98,69.81 612.71,69.82 613.43,69.82 614.16,69.82 614.88,69.82 615.6,69.83 616.33,69.83 617.05,69.83 617.78,69.83 618.5,69.84 619.23,69.84 619.95,69.84 620.67,69.84 621.4,69.85 622.12,69.85 622.85,69.85 623.57,69.86 624.3,69.86 625.02,69.86 625.74,69.86 626.47,69.87 627.19,69.87 627.92,69.87 628.64,69.87 629.37,69.88 630.09,69.88 630.81,69.88 631.54,69.89 632.26,69.89 632.99,69.89 633.71,69.89 634.44,69.9 635.16,69.9 635.88,69.9 636.61,69.91 637.33,69.91 638.06,69.91 638.78,69.92 639.51,69.92 640.23,69.92 640.95,69.92 641.68,69.93 642.4,69.93 643.13,69.93 643.85,69.94 644.58,69.94 645.3,69.94" fill="none" stroke="#7B5050" stroke-width="3.8" stroke-linejoin="round" stroke-linecap="butt"/>
<polyline points="138.3,69.26 139.02,69.42 139.75,71.56 140.47,70.87 141.2,69.76 141.92,66.42 142.65,65.44 143.37,65.89 144.09,69.02 144.82,69.99 145.54,69.55 146.27,69.83 146.99,69.86 147.72,69.43 148.44,68.74 149.16,69.63 149.89,69.9 150.61,68.81 151.34,68.1 152.06,68.41 152.79,68.64 153.51,68.27 154.23,68.7 154.96,69.43 155.68,69.73 156.41,69.4 157.13,68.67 157.86,69.12 158.58,68.93 159.3,69.56 160.03,70.06 160.75,69.89 161.48,69.75 162.2,69.39 162.93,70.57 163.65,70.19 164.37,68.79 165.1,67.92 165.82,68.47 166.55,68.91 167.27,69.26 168,69.4 168.72,69.3 169.44,69.53 170.17,68.75 170.89,69.05 171.62,67.9 172.34,69.31 173.07,68.84 173.79,69.5 174.51,68.33 175.24,69.3 175.96,69.71 176.69,69.44 177.41,68.8 178.14,68.02 178.86,68.19 179.58,68.07 180.31,69 181.03,69.4 181.76,69.77 182.48,68.01 183.21,67.16 183.93,67.32 184.65,68.87 185.38,69.07 186.1,68.28 186.83,66.83 187.55,67.6 188.28,66.98 189,67.41 189.72,66.33 190.45,66.88 191.17,67.04 191.9,67.56 192.62,67.14 193.35,67.64 194.07,67.08 194.79,67.02 195.52,66.38 196.24,66.18 196.97,65.99 197.69,65.75 198.42,65.54 199.14,65.2 199.86,64.87 200.59,64.76 201.31,64.68 202.04,64.66 202.76,64.62 203.49,64.74 204.21,64.83 204.93,65.05 205.66,65.24 206.38,65.5 207.11,65.69 207.83,65.91 208.56,66.14 209.28,66.42 210,66.69 210.73,66.99 211.45,67.33 212.18,67.81 212.9,68.33 213.63,68.95 214.35,69.64 215.07,70.42 215.8,71.27 216.52,72.17 217.25,73.11 217.97,74.08 218.7,75.09 219.42,76.11 220.14,77.27 220.87,78.64 221.59,80.18 222.32,81.86 223.04,83.63 223.77,85.46 224.49,87.32 225.21,89.16 225.94,90.93 226.66,92.62 227.39,94.17 228.11,95.55 228.84,96.89 229.56,98.3 230.28,99.75 231.01,101.16 231.73,102.48 232.46,103.66 233.18,104.63 233.91,105.35 234.63,105.76 235.35,105.77 236.08,105.09 236.8,103.82 237.53,102.12 238.25,100.17 238.98,98.14 239.7,96.19 240.42,94.51 241.15,93.26 241.87,92.3 242.6,91.38 243.32,90.5 244.05,89.67 244.77,88.89 245.49,88.16 246.22,87.5 246.94,86.9 247.67,86.37 248.39,85.91 249.12,85.53 249.84,85.2 250.56,84.89 251.29,84.6 252.01,84.34 252.74,84.09 253.46,83.87 254.19,83.65 254.91,83.45 255.63,83.26 256.36,83.07 257.08,82.89 257.81,82.72 258.53,82.54 259.26,82.36 259.98,82.18 260.7,81.99 261.43,81.8 262.15,81.59 262.88,81.37 263.6,81.15 264.33,80.92 265.05,80.69 265.77,80.46 266.5,80.22 267.22,79.99 267.95,79.75 268.67,79.52 269.4,79.28 270.12,79.05 270.84,78.81 271.57,78.57 272.29,78.34 273.02,78.1 273.74,77.86 274.47,77.63 275.19,77.39 275.91,77.16 276.64,76.92 277.36,76.69 278.09,76.46 278.81,76.22 279.54,75.99 280.26,75.77 280.98,75.54 281.71,75.31 282.43,75.08 283.16,74.84 283.88,74.59 284.61,74.32 285.33,74.05 286.05,73.77 286.78,73.49 287.5,73.21 288.23,72.92 288.95,72.64 289.68,72.36 290.4,72.08 291.12,71.82 291.85,71.55 292.57,71.3 293.3,71.07 294.02,70.84 294.75,70.63 295.47,70.44 296.19,70.26 296.92,70.11 297.64,69.98 298.37,69.87 299.09,69.79 299.82,69.74 300.54,69.71 301.26,69.71 301.99,69.7 302.71,69.69 303.44,69.68 304.16,69.68 304.89,69.67 305.61,69.66 306.33,69.66 307.06,69.65 307.78,69.64 308.51,69.64 309.23,69.63 309.96,69.63 310.68,69.62 311.4,69.62 312.13,69.62 312.85,69.61 313.58,69.61 314.3,69.61 315.03,69.61 315.75,69.6 316.47,69.6 317.2,69.6 317.92,69.6 318.65,69.6 319.37,69.6 320.1,69.6 320.82,69.6 321.54,69.61 322.27,69.62 322.99,69.62 323.72,69.63 324.44,69.65 325.17,69.66 325.89,69.67 326.61,69.69 327.34,69.71 328.06,69.73 328.79,69.75 329.51,69.77 330.24,69.79 330.96,69.81 331.68,69.83 332.41,69.86 333.13,69.88 333.86,69.91 334.58,69.94 335.31,69.96 336.03,69.99 336.75,70.02 337.48,70.05 338.2,70.07 338.93,70.1 339.65,70.13 340.38,70.16 341.1,70.19 341.82,70.22 342.55,70.24 343.27,70.27 344,70.3 344.72,70.33 345.45,70.35 346.17,70.38 346.89,70.4 347.62,70.43 348.34,70.45 349.07,70.47 349.79,70.5 350.52,70.52 351.24,70.54 351.96,70.56 352.69,70.57 353.41,70.59 354.14,70.6 354.86,70.62 355.59,70.63 356.31,70.64 357.03,70.65 357.76,70.66 358.48,70.67 359.21,70.68 359.93,70.69 360.66,70.7 361.38,70.71 362.1,70.73 362.83,70.74 363.55,70.75 364.28,70.76 365,70.77 365.73,70.78 366.45,70.79 367.17,70.8 367.9,70.81 368.62,70.82 369.35,70.83 370.07,70.84 370.8,70.85 371.52,70.86 372.24,70.87 372.97,70.88 373.69,70.89 374.42,70.9 375.14,70.91 375.87,70.92 376.59,70.93 377.31,70.94 378.04,70.95 378.76,70.96 379.49,70.96 380.21,70.97 380.94,70.98 381.66,70.99 382.38,71 383.11,71.01 383.83,71.02 384.56,71.03 385.28,71.04 386.01,71.04 386.73,71.05 387.45,71.06 388.18,71.07 388.9,71.08 389.63,71.08 390.35,71.09 391.08,71.1 391.8,71.11 392.52,71.12 393.25,71.12 393.97,71.13 394.7,71.14 395.42,71.14 396.15,71.15 396.87,71.16 397.59,71.16 398.32,71.17 399.04,71.18 399.77,71.18 400.49,71.19 401.22,71.2 401.94,71.2 402.66,71.21 403.39,71.21 404.11,71.22 404.84,71.22 405.56,71.23 406.29,71.23 407.01,71.24 407.73,71.24 408.46,71.25 409.18,71.25 409.91,71.26 410.63,71.26 411.36,71.27 412.08,71.27 412.8,71.27 413.53,71.28 414.25,71.28 414.98,71.28 415.7,71.29 416.43,71.29 417.15,71.29 417.87,71.3 418.6,71.3 419.32,71.3 420.05,71.3 420.77,71.31 421.5,71.31 422.22,71.31 422.94,71.31 423.67,71.31 424.39,71.31 425.12,71.31 425.84,71.31 426.57,71.31 427.29,71.31 428.01,71.31 428.74,71.31 429.46,71.31 430.19,71.31 430.91,71.31 431.64,71.31 432.36,71.31 433.08,71.31 433.81,71.31 434.53,71.31 435.26,71.31 435.98,71.31 436.71,71.31 437.43,71.31 438.15,71.31 438.88,71.31 439.6,71.31 440.33,71.31 441.05,71.31 441.78,71.31 442.5,71.31 443.22,71.31 443.95,71.31 444.67,71.31 445.4,71.31 446.12,71.31 446.85,71.31 447.57,71.31 448.29,71.31 449.02,71.31 449.74,71.31 450.47,71.31 451.19,71.31 451.92,71.31 452.64,71.31 453.36,71.31 454.09,71.31 454.81,71.31 455.54,71.31 456.26,71.31 456.99,71.31 457.71,71.31 458.43,71.31 459.16,71.31 459.88,71.31 460.61,71.31 461.33,71.31 462.06,71.31 462.78,71.31 463.5,71.31 464.23,71.31 464.95,71.31 465.68,71.31 466.4,71.31 467.13,71.31 467.85,71.31 468.57,71.31 469.3,71.31 470.02,71.31 470.75,71.31 471.47,71.31 472.2,71.31 472.92,71.31 473.64,71.31 474.37,71.31 475.09,71.31 475.82,71.31 476.54,71.31 477.27,71.31 477.99,71.31 478.71,71.31 479.44,71.31 480.16,71.31 480.89,71.31 481.61,71.31 482.34,71.31 483.06,71.31 483.78,71.31 484.51,71.31 485.23,71.31 485.96,71.31 486.68,71.31 487.41,71.31 488.13,71.31 488.85,71.31 489.58,71.31 490.3,71.31 491.03,71.31 491.75,71.31 492.48,71.31 493.2,71.31 493.92,71.31 494.65,71.31 495.37,71.31 496.1,71.31 496.82,71.31 497.55,71.31 498.27,71.31 498.99,71.31 499.72,71.31 500.44,71.31 501.17,71.31 501.89,71.31 502.62,71.31 503.34,71.31 504.06,71.31 504.79,71.31 505.51,71.31 506.24,71.31 506.96,71.31 507.69,71.31 508.41,71.31 509.13,71.31 509.86,71.31 510.58,71.31 511.31,71.31 512.03,71.31 512.76,71.31 513.48,71.31 514.2,71.31 514.93,71.3 515.65,71.3 516.38,71.3 517.1,71.3 517.83,71.3 518.55,71.3 519.27,71.3 520,71.3 520.72,71.29 521.45,71.29 522.17,71.29 522.9,71.29 523.62,71.29 524.34,71.29 525.07,71.28 525.79,71.28 526.52,71.28 527.24,71.28 527.97,71.28 528.69,71.28 529.41,71.27 530.14,71.27 530.86,71.27 531.59,71.27 532.31,71.27 533.04,71.26 533.76,71.26 534.48,71.26 535.21,71.26 535.93,71.25 536.66,71.25 537.38,71.25 538.11,71.25 538.83,71.24 539.55,71.24 540.28,71.24 541,71.24 541.73,71.23 542.45,71.23 543.18,71.23 543.9,71.23 544.62,71.22 545.35,71.22 546.07,71.22 546.8,71.21 547.52,71.21 548.25,71.21 548.97,71.2 549.69,71.2 550.42,71.2 551.14,71.2 551.87,71.19 552.59,71.19 553.32,71.19 554.04,71.18 554.76,71.18 555.49,71.17 556.21,71.17 556.94,71.17 557.66,71.16 558.39,71.16 559.11,71.16 559.83,71.15 560.56,71.15 561.28,71.15 562.01,71.14 562.73,71.14 563.46,71.13 564.18,71.13 564.9,71.13 565.63,71.12 566.35,71.12 567.08,71.11 567.8,71.11 568.53,71.11 569.25,71.1 569.97,71.1 570.7,71.09 571.42,71.09 572.15,71.09 572.87,71.08 573.6,71.08 574.32,71.07 575.04,71.07 575.77,71.06 576.49,71.06 577.22,71.05 577.94,71.05 578.67,71.05 579.39,71.04 580.11,71.04 580.84,71.03 581.56,71.03 582.29,71.02 583.01,71.02 583.74,71.01 584.46,71.01 585.18,71 585.91,71 586.63,70.99 587.36,70.99 588.08,70.98 588.81,70.98 589.53,70.97 590.25,70.97 590.98,70.96 591.7,70.96 592.43,70.95 593.15,70.95 593.88,70.94 594.6,70.94 595.32,70.93 596.05,70.93 596.77,70.92 597.5,70.92 598.22,70.91 598.95,70.9 599.67,70.9 600.39,70.89 601.12,70.89 601.84,70.88 602.57,70.88 603.29,70.87 604.02,70.87 604.74,70.86 605.46,70.86 606.19,70.85 606.91,70.84 607.64,70.84 608.36,70.83 609.09,70.83 609.81,70.82 610.53,70.82 611.26,70.81 611.98,70.8 612.71,70.8 613.43,70.79 614.16,70.79 614.88,70.78 615.6,70.77 616.33,70.77 617.05,70.76 617.78,70.76 618.5,70.75 619.23,70.74 619.95,70.74 620.67,70.73 621.4,70.73 622.12,70.72 622.85,70.71 623.57,70.71 624.3,70.7 625.02,70.7 625.74,70.69 626.47,70.68 627.19,70.68 627.92,70.67 628.64,70.66 629.37,70.66 630.09,70.65 630.81,70.64 631.54,70.64 632.26,70.63 632.99,70.63 633.71,70.62 634.44,70.61 635.16,70.61 635.88,70.6 636.61,70.59 637.33,70.59 638.06,70.58 638.78,70.57 639.51,70.57 640.23,70.56 640.95,70.55 641.68,70.55 642.4,70.54 643.13,70.53 643.85,70.53 644.58,70.52 645.3,70.51" fill="none" stroke="#8B8A00" stroke-width="3.8" stroke-linejoin="round" stroke-linecap="butt"/>
<line x1="139.9" y1="322.5" x2="645.8" y2="322.5" stroke="#000" stroke-width="2.4"/>
<polyline points="139.76,286.96 141.74,284.43 143.72,281.94 145.69,276.99 147.67,275.85 149.65,274.02 151.63,271.74 153.61,270.46 155.59,269.97 157.56,267.59 159.54,268.31 161.52,269.75 163.5,267.19 165.48,269.51 167.45,271.66 169.43,270.76 171.41,272.55 173.39,272.45 175.37,275.32 177.35,275.43 179.32,278.1 181.3,278.8 183.28,278 185.26,280.06 187.24,278.67 189.21,282.98 191.19,283.27 193.17,286.64 195.15,284.59 197.13,288 199.11,291.56 201.08,290.77 203.06,293.16 205.04,291.13 207.02,293.81 209,297.45 210.98,296.6 212.95,297.99 214.93,300.16 216.91,301.2 218.89,302.15 220.87,304.15 222.84,303.47 224.82,305.52 226.8,305.94 228.78,307.23 230.76,308.63 232.74,305.84 234.71,308.93 236.69,309.18 238.67,307.07 240.65,311.62 242.63,313.21 244.6,315.25 246.58,315.4 248.56,312.96 250.54,316.41 252.52,317.88 254.5,315.28 256.47,315.91 258.45,313.7 260.43,318.84 262.41,315.49 264.39,321 266.36,315.84 268.34,317.73 270.32,319.99 272.3,316.9 274.28,318.89 276.26,318.5 278.23,319.68 280.21,318.17 282.19,319.21 284.17,322.12 286.15,322.28 288.12,322.5 290.1,320.06 292.08,320.62 294.06,321.44 296.04,322.56 298.02,323.42 299.99,322.06 301.97,321.43 303.95,321.72 305.93,320.38 307.91,320.34 309.89,324.21 311.86,319.08 313.84,320.99 315.82,323.22 317.8,323.1 319.78,322.76 321.75,324.75 323.73,325.04 325.71,323.69 327.69,324.48 329.67,329.26 331.65,322.56 333.62,327.49 335.6,323.12 337.58,324.47 339.56,325.04 341.54,322.26 343.51,325.43 345.49,325.75 347.47,323.18 349.45,323.33 351.43,325.23 353.41,325.38 355.38,325.32 357.36,323.08 359.34,322.83 361.32,321.98 363.3,323.92 365.27,325.61 367.25,322.04 369.23,317.78 371.21,319.94 373.19,325.7 375.17,321.66 377.14,323.58 379.12,323.47 381.1,323.76 383.08,324.96 385.06,326.51 387.03,321.91 389.01,325.23 390.99,324.06 392.97,323.61 394.95,322.4 396.93,323.6 398.9,322.84 400.88,323.44 402.86,321.71 404.84,321.38 406.82,318.55 408.8,320.7 410.77,323.45 412.75,320.52 414.73,319.52 416.71,323.21 418.69,323.09 420.66,327.39 422.64,317.63 424.62,321.02 426.6,311.93 428.58,325.25 430.56,327.35 432.53,320.19 434.51,323.18 436.49,320.36 438.47,322.83 440.45,318.38 442.42,321.42 444.4,320.86 446.38,318.96 448.36,321.44 450.34,321.17 452.32,316.46 454.29,309.14 456.27,319.13 458.25,318.22 460.23,319.23 462.21,317.94 464.18,313.75 466.16,316.01 468.14,323.25 470.12,325.53 472.1,321.48 474.08,325.86 476.05,326.82 478.03,321.73 480.01,321.38 481.99,317.79 483.97,316.82 485.94,311.38 487.92,320.23 489.9,319.81 491.88,317.09 493.86,314.22 495.84,318.4 497.81,311.66 499.79,326.01 501.77,314.53 503.75,317.9 505.73,303.17 507.71,310.93 509.68,310.52 511.66,315.15 513.64,313.63 515.62,320.95 517.6,306.71 519.57,317.43 521.55,312.54 523.53,317.82 525.51,316.63 527.49,318.6 529.47,309.25 531.44,315.08 533.42,318.87 535.4,306.22 537.38,319.69 539.36,310.7 541.33,310.46 543.31,314.19 545.29,313.56 547.27,319.78 549.25,308.67 551.23,314.44 553.2,306.58 555.18,316.17 557.16,312.16 559.14,310.52 561.12,310.68 563.09,313.99 565.07,309.34 567.05,311.84 569.03,313.14 571.01,317.12 572.99,308.05 574.96,312.77 576.94,299.82 578.92,312.95 580.9,311.22 582.88,313.94 584.85,302.15 586.83,305 588.81,309.44 590.79,310.9 592.77,309.22 594.75,315.31 596.72,309.29 598.7,312.02 600.68,313.27 602.66,314.26 604.64,314.14 606.62,309.23 608.59,311.04 610.57,299.84 612.55,294.37 614.53,310.24 616.51,311.15 618.48,287.94 620.46,297.8 622.44,301.2 624.42,309.69 626.4,314.56 628.38,289.59 630.35,307.55 632.33,301.58 634.31,291.04 636.29,311.55 638.27,311.73 640.24,317.54 642.22,318.87 644.2,311.26" fill="none" stroke="#37AC6B" stroke-width="3.8" stroke-linejoin="round" stroke-linecap="butt"/>
<polyline points="139.76,262.17 141.74,263.59 143.72,261.97 145.69,259.21 147.67,261.15 149.65,259.29 151.63,257.87 153.61,261.89 155.59,262.17 157.56,262.59 159.54,263.08 161.52,265.96 163.5,266.13 165.48,268.14 167.45,269.84 169.43,271.37 171.41,271.9 173.39,272.39 175.37,275.16 177.35,277.87 179.32,276.91 181.3,279.93 183.28,280.55 185.26,282.6 187.24,284.32 189.21,285.31 191.19,285.35 193.17,287.71 195.15,289.84 197.13,290.53 199.11,294.41 201.08,294.86 203.06,295.33 205.04,297.8 207.02,296.76 209,300.37 210.98,303.3 212.95,304.03 214.93,304.21 216.91,306.08 218.89,307.4 220.87,308.51 222.84,312.3 224.82,312.96 226.8,312.49 228.78,314.41 230.76,313.04 232.74,316.38 234.71,317.54 236.69,317.39 238.67,318.72 240.65,319.82 242.63,321.03 244.6,320.22 246.58,323.92 248.56,323.76 250.54,326.7 252.52,327.9 254.5,328.48 256.47,326.8 258.45,329.57 260.43,330.43 262.41,331.15 264.39,332.65 266.36,329.93 268.34,332.65 270.32,335.01 272.3,333 274.28,333.78 276.26,331.12 278.23,334.83 280.21,332.42 282.19,332.83 284.17,338.2 286.15,334.57 288.12,334.85 290.1,335.83 292.08,335.83 294.06,333.42 296.04,334.32 298.02,338.42 299.99,335.64 301.97,336.13 303.95,336.05 305.93,336.55 307.91,342.38 309.89,335.62 311.86,338.52 313.84,338.47 315.82,337.69 317.8,339.86 319.78,338.8 321.75,340.46 323.73,341.16 325.71,337.16 327.69,340.18 329.67,340.43 331.65,340.12 333.62,338.93 335.6,337.69 337.58,337.72 339.56,342.49 341.54,340.04 343.51,339.44 345.49,341.7 347.47,340.14 349.45,339.58 351.43,337.79 353.41,340.2 355.38,342.19 357.36,336.87 359.34,339.11 361.32,336.97 363.3,337.12 365.27,335.51 367.25,342.36 369.23,332.95 371.21,339.55 373.19,340.79 375.17,337.92 377.14,337.17 379.12,338.1 381.1,336.08 383.08,334.33 385.06,338.6 387.03,334.59 389.01,334.28 390.99,332.72 392.97,334.7 394.95,333.61 396.93,333.4 398.9,335.75 400.88,333.61 402.86,332.76 404.84,332.38 406.82,334.37 408.8,333.74 410.77,330.67 412.75,331.72 414.73,329.91 416.71,325.91 418.69,332.64 420.66,327.42 422.64,332.93 424.62,332.98 426.6,329.68 428.58,329.64 430.56,335.46 432.53,327.47 434.51,332.81 436.49,334.46 438.47,333.68 440.45,326.49 442.42,329.3 444.4,326.64 446.38,326.51 448.36,331.36 450.34,324.69 452.32,327.7 454.29,326.43 456.27,331.58 458.25,325.3 460.23,330.02 462.21,334.15 464.18,327.16 466.16,325.2 468.14,332.57 470.12,332.28 472.1,329.29 474.08,323.74 476.05,327.56 478.03,324.36 480.01,329.41 481.99,327.05 483.97,323.06 485.94,327.21 487.92,330.12 489.9,322.23 491.88,327.02 493.86,328.94 495.84,322.53 497.81,332.38 499.79,326.7 501.77,326.02 503.75,328.35 505.73,327.3 507.71,320.06 509.68,321.03 511.66,325.91 513.64,324.48 515.62,324.84 517.6,321.79 519.57,326.44 521.55,330.59 523.53,324.37 525.51,329.06 527.49,323.87 529.47,327.31 531.44,319.67 533.42,320.12 535.4,325.39 537.38,328.96 539.36,320.91 541.33,323.56 543.31,324.11 545.29,313.92 547.27,323.06 549.25,316.11 551.23,324.74 553.2,314.3 555.18,316.2 557.16,317.69 559.14,313.53 561.12,322.3 563.09,316.67 565.07,320.35 567.05,319.27 569.03,309.77 571.01,326.52 572.99,314.42 574.96,309.96 576.94,322.11 578.92,323.53 580.9,315.66 582.88,316.82 584.85,308.87 586.83,320.27 588.81,319.71 590.79,316.09 592.77,312.83 594.75,330.11 596.72,313.41 598.7,319.06 600.68,319.15 602.66,313.43 604.64,320.7 606.62,313.54 608.59,316.25 610.57,315.13 612.55,319.89 614.53,318.02 616.51,312.17 618.48,316.78 620.46,318.74 622.44,316.9 624.42,318.39 626.4,310.34 628.38,309.21 630.35,312.18 632.33,309.76 634.31,313.51 636.29,309.1 638.27,319.76 640.24,308.91 642.22,308.21 644.2,308.1" fill="none" stroke="#B07CE0" stroke-width="3.8" stroke-linejoin="round" stroke-linecap="butt"/>
<polyline points="139.76,282.49 141.74,279.48 143.72,279.95 145.69,277.1 147.67,274.34 149.65,274.99 151.63,275.19 153.61,272.94 155.59,274.52 157.56,273.31 159.54,274.36 161.52,277.09 163.5,276.93 165.48,278.26 167.45,278.83 169.43,281.29 171.41,283.55 173.39,282.67 175.37,282.23 177.35,287.82 179.32,287.64 181.3,285.22 183.28,290.65 185.26,292.27 187.24,293.93 189.21,294.67 191.19,294.5 193.17,298.96 195.15,300.13 197.13,299.97 199.11,304.14 201.08,304.1 203.06,306.32 205.04,308.48 207.02,309.73 209,309.58 210.98,311.84 212.95,313.29 214.93,314.02 216.91,316.31 218.89,318.8 220.87,317.54 222.84,318.77 224.82,320.29 226.8,320.37 228.78,322.64 230.76,327.13 232.74,324.93 234.71,327.35 236.69,331.15 238.67,330.66 240.65,329.04 242.63,333.58 244.6,331.85 246.58,332.3 248.56,333.42 250.54,333.98 252.52,334.1 254.5,335.8 256.47,338.52 258.45,337.87 260.43,336.02 262.41,339.74 264.39,341.41 266.36,338.44 268.34,340.91 270.32,341.1 272.3,338.76 274.28,340.2 276.26,341.27 278.23,341.15 280.21,339.14 282.19,341.48 284.17,341.17 286.15,343.04 288.12,345.49 290.1,342.36 292.08,343.57 294.06,342.83 296.04,342.74 298.02,345.2 299.99,344.9 301.97,342.79 303.95,345.46 305.93,342.04 307.91,345.53 309.89,344.4 311.86,347.4 313.84,346.32 315.82,344.74 317.8,344.7 319.78,344.57 321.75,346.25 323.73,347.25 325.71,347.67 327.69,346.23 329.67,344.79 331.65,343.51 333.62,343 335.6,346.66 337.58,345.88 339.56,344.73 341.54,343.82 343.51,346.55 345.49,342.45 347.47,345.33 349.45,345.62 351.43,347.25 353.41,341.89 355.38,346.84 357.36,343.25 359.34,345.29 361.32,344.39 363.3,343.55 365.27,342.44 367.25,340.21 369.23,347.78 371.21,341.93 373.19,342.1 375.17,343.83 377.14,339.75 379.12,335.49 381.1,342.63 383.08,341.48 385.06,347.65 387.03,337.72 389.01,344.16 390.99,339.6 392.97,339.39 394.95,338.32 396.93,342.52 398.9,340.47 400.88,341.65 402.86,341.22 404.84,341.93 406.82,339.03 408.8,339.52 410.77,343.25 412.75,339.84 414.73,340.35 416.71,342.46 418.69,341.55 420.66,339.27 422.64,341.29 424.62,340.99 426.6,335.1 428.58,338.85 430.56,343.41 432.53,338.82 434.51,337.71 436.49,339.08 438.47,338.71 440.45,336.65 442.42,341.99 444.4,341.29 446.38,337.66 448.36,340.18 450.34,341.26 452.32,334.04 454.29,332.96 456.27,336.44 458.25,340.84 460.23,334.66 462.21,338.42 464.18,333.2 466.16,337.27 468.14,332.88 470.12,338.11 472.1,341.2 474.08,336.24 476.05,332.63 478.03,328.92 480.01,328.91 481.99,329.7 483.97,338.8 485.94,338.44 487.92,334.46 489.9,328.38 491.88,331.64 493.86,334.03 495.84,327.05 497.81,333.25 499.79,332.75 501.77,333.31 503.75,328.87 505.73,334.81 507.71,330.45 509.68,330.48 511.66,327.42 513.64,330.22 515.62,330.29 517.6,327.48 519.57,330.33 521.55,328.72 523.53,332.37 525.51,322.77 527.49,329.86 529.47,331.33 531.44,329.44 533.42,324.11 535.4,330.31 537.38,317.95 539.36,327.99 541.33,328.04 543.31,329.58 545.29,325.29 547.27,316.46 549.25,325.87 551.23,324.97 553.2,328.85 555.18,324.83 557.16,322.84 559.14,330.77 561.12,320.58 563.09,328.8 565.07,322.65 567.05,333.04 569.03,327.59 571.01,322.99 572.99,326.32 574.96,318.4 576.94,325.02 578.92,325.83 580.9,322.93 582.88,324.01 584.85,321.77 586.83,318.94 588.81,319.11 590.79,324.32 592.77,323.78 594.75,322.84 596.72,317.13 598.7,321.78 600.68,317.76 602.66,324.7 604.64,325.71 606.62,322.78 608.59,327.64 610.57,326.32 612.55,316.49 614.53,324.64 616.51,317.14 618.48,319.91 620.46,326.46 622.44,324.3 624.42,316.47 626.4,326.05 628.38,327.67 630.35,320.41 632.33,326.02 634.31,321.11 636.29,320.35 638.27,317.17 640.24,326.83 642.22,323.42 644.2,311.66" fill="none" stroke="#D39D0E" stroke-width="3.8" stroke-linejoin="round" stroke-linecap="butt"/>
<polyline points="139.76,295.27 141.74,296.52 143.72,293.46 145.69,294.55 147.67,296.01 149.65,293.59 151.63,291.8 153.61,294.91 155.59,296.15 157.56,292.19 159.54,294.83 161.52,297.21 163.5,295.99 165.48,298.28 167.45,298.97 169.43,299.56 171.41,300.91 173.39,302.96 175.37,305.62 177.35,304.5 179.32,307.82 181.3,305.95 183.28,308.45 185.26,309.46 187.24,312.44 189.21,313.67 191.19,318.4 193.17,316.21 195.15,318.54 197.13,319.91 199.11,321.15 201.08,324.99 203.06,326.49 205.04,329.02 207.02,329.97 209,328.3 210.98,333 212.95,333.93 214.93,335.09 216.91,332.96 218.89,336.87 220.87,339.57 222.84,338.86 224.82,339.36 226.8,343.11 228.78,342.17 230.76,347.16 232.74,348.25 234.71,347.8 236.69,346.35 238.67,349.92 240.65,348.18 242.63,352.64 244.6,352.44 246.58,353.3 248.56,352.88 250.54,353.73 252.52,354.5 254.5,356.55 256.47,358.32 258.45,355.23 260.43,357.91 262.41,358.11 264.39,357.85 266.36,359.61 268.34,357.57 270.32,358.54 272.3,363.29 274.28,358.23 276.26,361.48 278.23,361.32 280.21,364.68 282.19,363.55 284.17,364.5 286.15,361.16 288.12,365.25 290.1,363.45 292.08,363.86 294.06,363.63 296.04,363.98 298.02,363.28 299.99,362.39 301.97,364.04 303.95,364.52 305.93,368.35 307.91,363.09 309.89,364.77 311.86,362.57 313.84,365.54 315.82,366.88 317.8,363.83 319.78,365.03 321.75,363.35 323.73,363.62 325.71,365.67 327.69,367.47 329.67,365.06 331.65,363.91 333.62,363.05 335.6,363.72 337.58,361.56 339.56,363.12 341.54,363.49 343.51,362.44 345.49,360.13 347.47,361.44 349.45,363.52 351.43,362.23 353.41,362.36 355.38,364.12 357.36,358.79 359.34,359.84 361.32,357.66 363.3,359.18 365.27,361.99 367.25,359.77 369.23,361.4 371.21,355.96 373.19,355.44 375.17,355.05 377.14,358.03 379.12,357.34 381.1,352.03 383.08,357.79 385.06,359.28 387.03,354.13 389.01,351.68 390.99,353.6 392.97,349.79 394.95,348.73 396.93,354.75 398.9,354.61 400.88,354.97 402.86,349.32 404.84,350.02 406.82,350.1 408.8,350.26 410.77,344.22 412.75,349.34 414.73,347.1 416.71,347.66 418.69,348.42 420.66,351.15 422.64,345.72 424.62,349.99 426.6,350.42 428.58,341.01 430.56,349.07 432.53,347.81 434.51,346.46 436.49,350.05 438.47,345.87 440.45,344.3 442.42,349.43 444.4,346.76 446.38,346.69 448.36,346.21 450.34,344.17 452.32,346.84 454.29,345.47 456.27,345.17 458.25,344.76 460.23,336.93 462.21,346.92 464.18,352.12 466.16,342.82 468.14,345.5 470.12,342.48 472.1,345.74 474.08,338.92 476.05,343.58 478.03,343.21 480.01,340.36 481.99,342.56 483.97,342.89 485.94,345.65 487.92,344.25 489.9,340.47 491.88,338.86 493.86,339.04 495.84,335.05 497.81,343.31 499.79,339.04 501.77,336.09 503.75,338.42 505.73,335.66 507.71,339.58 509.68,330.58 511.66,340.13 513.64,336.1 515.62,335.82 517.6,338.32 519.57,334.15 521.55,337.72 523.53,336.23 525.51,335.44 527.49,332.51 529.47,336.56 531.44,335.65 533.42,342.73 535.4,334.3 537.38,335.04 539.36,335.76 541.33,332.62 543.31,330.55 545.29,334.73 547.27,335.21 549.25,338.37 551.23,335.84 553.2,337.48 555.18,335.01 557.16,336.52 559.14,335.4 561.12,340.17 563.09,335.27 565.07,337.16 567.05,332.99 569.03,331.21 571.01,331.04 572.99,330.42 574.96,332.26 576.94,327.97 578.92,338.44 580.9,329.53 582.88,331.73 584.85,335.76 586.83,336.77 588.81,335.81 590.79,326.46 592.77,332.38 594.75,331.14 596.72,321.07 598.7,328.61 600.68,325.5 602.66,329.63 604.64,325.1 606.62,333.07 608.59,323.4 610.57,319.92 612.55,324.67 614.53,330.79 616.51,331.64 618.48,323.02 620.46,325.21 622.44,330.68 624.42,330.65 626.4,328.7 628.38,330.98 630.35,319.64 632.33,324.77 634.31,325.71 636.29,322.94 638.27,324.96 640.24,328.2 642.22,318.49 644.2,312.36" fill="none" stroke="#1BCFCF" stroke-width="3.8" stroke-linejoin="round" stroke-linecap="butt"/>
<polyline points="139.76,307.76 141.74,302.53 143.72,302.41 145.69,302.03 147.67,300.83 149.65,300.18 151.63,299.67 153.61,297.48 155.59,300.64 157.56,300.91 159.54,304.77 161.52,302.26 163.5,305.7 165.48,309.31 167.45,309.51 169.43,309.53 171.41,311.45 173.39,315.43 175.37,318.02 177.35,317.02 179.32,318.65 181.3,317.92 183.28,319.11 185.26,319.14 187.24,321.91 189.21,323.15 191.19,324.19 193.17,324.48 195.15,330.39 197.13,329.85 199.11,331.91 201.08,333.79 203.06,333.66 205.04,334.32 207.02,337.36 209,338.19 210.98,339.04 212.95,339.12 214.93,341.03 216.91,342.93 218.89,344.66 220.87,347.05 222.84,348.47 224.82,350.06 226.8,348.48 228.78,352.56 230.76,352.58 232.74,358.69 234.71,356.3 236.69,355.38 238.67,358.84 240.65,360.35 242.63,362.06 244.6,363.12 246.58,364 248.56,362.58 250.54,364.35 252.52,364.2 254.5,370.63 256.47,370.72 258.45,369.98 260.43,371.68 262.41,367.98 264.39,370 266.36,371.28 268.34,371.94 270.32,371.26 272.3,373.22 274.28,374.21 276.26,375.38 278.23,374.62 280.21,375.96 282.19,373.18 284.17,374.44 286.15,375.64 288.12,377.03 290.1,380.45 292.08,377.24 294.06,377.47 296.04,378.68 298.02,378.45 299.99,379.13 301.97,378.35 303.95,380.77 305.93,379.26 307.91,381 309.89,381.96 311.86,380.41 313.84,385.37 315.82,383.21 317.8,382.7 319.78,383.94 321.75,385.22 323.73,381.53 325.71,379.32 327.69,382.72 329.67,380.57 331.65,381.09 333.62,381.64 335.6,380.94 337.58,383.37 339.56,382.34 341.54,381.87 343.51,381.21 345.49,377.88 347.47,379.02 349.45,377.47 351.43,378.1 353.41,378.15 355.38,376.55 357.36,377.89 359.34,378.48 361.32,375.09 363.3,374.75 365.27,377.45 367.25,375.44 369.23,370.65 371.21,376.22 373.19,369.91 375.17,372.91 377.14,369.55 379.12,368.4 381.1,372.76 383.08,369.94 385.06,372.4 387.03,375.43 389.01,372.35 390.99,366.45 392.97,373.13 394.95,372.04 396.93,367.1 398.9,362.28 400.88,365.99 402.86,370.66 404.84,367.17 406.82,365.61 408.8,368.86 410.77,367.47 412.75,367.35 414.73,361.83 416.71,365.4 418.69,363.02 420.66,368.94 422.64,363.61 424.62,362.5 426.6,362.54 428.58,359.19 430.56,365.32 432.53,366.63 434.51,362.48 436.49,361.93 438.47,365.72 440.45,359.78 442.42,359.56 444.4,360.42 446.38,358.28 448.36,358.41 450.34,365.4 452.32,362.61 454.29,358.56 456.27,362.84 458.25,357.57 460.23,356.83 462.21,354.27 464.18,353.69 466.16,352.18 468.14,359.43 470.12,354.43 472.1,354.59 474.08,353.74 476.05,357.79 478.03,356.62 480.01,356.85 481.99,353.97 483.97,353.78 485.94,355.41 487.92,353.8 489.9,355.6 491.88,353.65 493.86,352.33 495.84,353.01 497.81,351.22 499.79,352.87 501.77,353.4 503.75,352.37 505.73,352.04 507.71,353.32 509.68,355.21 511.66,348.9 513.64,351.78 515.62,352.64 517.6,348.06 519.57,351.91 521.55,347.93 523.53,345.81 525.51,351.66 527.49,346.71 529.47,348.98 531.44,346.97 533.42,343.97 535.4,348.8 537.38,346.5 539.36,342.12 541.33,343.93 543.31,344.39 545.29,343.63 547.27,346.81 549.25,345.74 551.23,345.66 553.2,336.25 555.18,345.17 557.16,342.32 559.14,344.09 561.12,346.74 563.09,353.27 565.07,350.37 567.05,339.34 569.03,344.05 571.01,350.36 572.99,342.92 574.96,343.66 576.94,344.73 578.92,342.2 580.9,342.76 582.88,343.27 584.85,335.89 586.83,338.39 588.81,340.04 590.79,331.29 592.77,335.08 594.75,340.18 596.72,349.14 598.7,334.92 600.68,343.71 602.66,337.46 604.64,341.55 606.62,337 608.59,339.02 610.57,339.15 612.55,336.12 614.53,334.53 616.51,334.38 618.48,329.45 620.46,332.67 622.44,329.79 624.42,337.34 626.4,333.99 628.38,343.36 630.35,340.95 632.33,336.03 634.31,327.55 636.29,329.9 638.27,328.95 640.24,335.06 642.22,322.89 644.2,335.03" fill="none" stroke="#7B5050" stroke-width="3.8" stroke-linejoin="round" stroke-linecap="butt"/>
<polyline points="139.76,310.09 141.74,308.97 143.72,303.87 145.69,301.46 147.67,300.08 149.65,297.6 151.63,295.52 153.61,295.57 155.59,295.86 157.56,296.17 159.54,296.14 161.52,299.4 163.5,297.45 165.48,298.88 167.45,298.89 169.43,302.17 171.41,299.46 173.39,300.39 175.37,302.39 177.35,305.19 179.32,306.47 181.3,307.44 183.28,307.53 185.26,308.78 187.24,310.92 189.21,312.2 191.19,311.24 193.17,314.02 195.15,318.69 197.13,318.28 199.11,321.31 201.08,322.61 203.06,324.42 205.04,326.72 207.02,328.82 209,330.57 210.98,333.88 212.95,332.4 214.93,335.6 216.91,335.08 218.89,337.24 220.87,339.17 222.84,339.2 224.82,340.54 226.8,345.24 228.78,343.49 230.76,343.31 232.74,344.87 234.71,348.08 236.69,346.95 238.67,349.94 240.65,349.89 242.63,350.6 244.6,351.53 246.58,355.26 248.56,354.82 250.54,357.84 252.52,357.8 254.5,359.53 256.47,359.13 258.45,358.76 260.43,358.37 262.41,360.69 264.39,365 266.36,366.01 268.34,364.53 270.32,365.41 272.3,369.41 274.28,370.87 276.26,369.89 278.23,373.34 280.21,374.04 282.19,374.41 284.17,375.6 286.15,377.39 288.12,376.17 290.1,377.07 292.08,379.79 294.06,379.48 296.04,383.53 298.02,379.03 299.99,383.43 301.97,383.06 303.95,384.39 305.93,384.13 307.91,384.98 309.89,386.82 311.86,387.09 313.84,384.8 315.82,387.3 317.8,386.04 319.78,391.14 321.75,385.61 323.73,388.78 325.71,390.16 327.69,392.39 329.67,390.5 331.65,390.05 333.62,392.64 335.6,388.93 337.58,392.16 339.56,391.1 341.54,388.68 343.51,396.32 345.49,391.37 347.47,392.85 349.45,390.14 351.43,392.93 353.41,388.92 355.38,391.15 357.36,391.89 359.34,386.61 361.32,392.82 363.3,390.16 365.27,393.39 367.25,393.64 369.23,394.86 371.21,387.66 373.19,391.05 375.17,391.41 377.14,390.93 379.12,392.17 381.1,390.06 383.08,390.4 385.06,389.33 387.03,389.67 389.01,391.91 390.99,389.32 392.97,389.2 394.95,392.21 396.93,393.92 398.9,387.69 400.88,388.3 402.86,390.83 404.84,392.26 406.82,385.83 408.8,387.85 410.77,392.3 412.75,386.47 414.73,395.24 416.71,386.6 418.69,386.06 420.66,387.48 422.64,390.99 424.62,389.39 426.6,387.32 428.58,387.06 430.56,389.72 432.53,386.65 434.51,385.1 436.49,384.77 438.47,385.27 440.45,379.09 442.42,380.53 444.4,384.6 446.38,382.81 448.36,382.8 450.34,384.23 452.32,385.13 454.29,381.97 456.27,375.12 458.25,376.51 460.23,371.91 462.21,373.28 464.18,372.26 466.16,381.91 468.14,373.63 470.12,370.9 472.1,371.43 474.08,372.11 476.05,374.61 478.03,373.63 480.01,364.18 481.99,363.82 483.97,369.92 485.94,374.6 487.92,373.22 489.9,369.77 491.88,369.67 493.86,371.96 495.84,371.1 497.81,369.06 499.79,372.24 501.77,359.86 503.75,366.44 505.73,357.49 507.71,367.31 509.68,361.52 511.66,363.01 513.64,366.31 515.62,365.92 517.6,365.5 519.57,362.88 521.55,364.56 523.53,361.05 525.51,364.96 527.49,364.36 529.47,355.83 531.44,361.62 533.42,357.62 535.4,356.47 537.38,363.35 539.36,356.11 541.33,359.29 543.31,362.34 545.29,359.99 547.27,355.35 549.25,353.72 551.23,356.35 553.2,354.8 555.18,356.88 557.16,357.4 559.14,356.02 561.12,364.99 563.09,363.05 565.07,357.18 567.05,358.58 569.03,355.9 571.01,355.26 572.99,349.53 574.96,355.44 576.94,348.89 578.92,356.89 580.9,352.14 582.88,358.46 584.85,354.66 586.83,351 588.81,354.94 590.79,355.39 592.77,347.4 594.75,351.41 596.72,352.04 598.7,353.7 600.68,354.49 602.66,347.12 604.64,348.13 606.62,350.23 608.59,347.39 610.57,354.53 612.55,348.93 614.53,342.42 616.51,343.91 618.48,343.88 620.46,346.06 622.44,345.86 624.42,338.64 626.4,341.8 628.38,340.3 630.35,352.4 632.33,338.17 634.31,348.59 636.29,341.45 638.27,349.62 640.24,340.46 642.22,342.03 644.2,349.93" fill="none" stroke="#8B8A00" stroke-width="3.8" stroke-linejoin="round" stroke-linecap="butt"/>
<line x1="845" y1="76.2" x2="1333.4" y2="76.2" stroke="#000" stroke-width="2.4"/>
<polyline points="844.8,56.54 845.5,61.25 846.2,62.33 846.89,60.65 847.59,60.25 848.29,55.21 848.99,54.37 849.69,59.3 850.38,58.58 851.08,57.74 851.78,59.41 852.48,59.5 853.18,58.31 853.87,56.4 854.57,56.96 855.27,56.45 855.97,54.45 856.67,55.99 857.36,57.7 858.06,55.4 858.76,52.36 859.46,53.32 860.16,54.72 860.85,54.5 861.55,53.25 862.25,53.54 862.95,52.78 863.65,54.92 864.34,54.99 865.04,52.71 865.74,54.55 866.44,53.05 867.14,52.12 867.83,52.85 868.53,53.68 869.23,52.53 869.93,49.83 870.63,50.2 871.32,49.88 872.02,48.3 872.72,49.34 873.42,52.59 874.12,51.68 874.81,47.37 875.51,48.25 876.21,50.58 876.91,49.33 877.61,49.25 878.3,49.83 879,49.03 879.7,47.71 880.4,48.37 881.1,48.56 881.79,47.66 882.49,49.1 883.19,47.71 883.89,46.02 884.59,44.96 885.28,46.05 885.98,46.56 886.68,44.58 887.38,45.46 888.08,46.64 888.77,46.14 889.47,46.49 890.17,46.61 890.87,45.81 891.57,46.51 892.26,47.62 892.96,47.88 893.66,47.26 894.36,46.82 895.06,47.08 895.75,47.21 896.45,47.53 897.15,48.28 897.85,48.86 898.55,49.26 899.24,49.45 899.94,49.58 900.64,49.57 901.34,49.73 902.04,50.09 902.73,50.36 903.43,51.01 904.13,51.7 904.83,52.29 905.53,53.32 906.22,54.15 906.92,54.85 907.62,55.28 908.32,55.85 909.02,56.62 909.71,57.54 910.41,58.75 911.11,59.95 911.81,61.4 912.51,62.83 913.2,64.01 913.9,65.53 914.6,66.97 915.3,68.19 916,69.55 916.69,71.22 917.39,72.97 918.09,74.63 918.79,76.19 919.49,77.51 920.18,79.11 920.88,80.78 921.58,82.39 922.28,83.73 922.98,85.13 923.67,86.47 924.37,87.15 925.07,87.94 925.77,88.99 926.47,89.84 927.16,90.81 927.86,91.74 928.56,92.15 929.26,92.11 929.96,92.15 930.65,91.83 931.35,90.48 932.05,89.02 932.75,87.52 933.45,85.81 934.14,84.54 934.84,82.58 935.54,80.43 936.24,78.34 936.94,76.68 937.63,76.14 938.33,76.09 939.03,76.12 939.73,75.73 940.43,75.47 941.12,75.45 941.82,75.14 942.52,75.06 943.22,75.05 943.92,75.22 944.61,75.53 945.31,75.29 946.01,75.15 946.71,75.36 947.41,75.35 948.1,75.32 948.8,75.57 949.5,75.61 950.2,75.6 950.9,75.55 951.59,75.84 952.29,76.07 952.99,75.72 953.69,75.83 954.39,76.18 955.08,75.86 955.78,75.79 956.48,76.1 957.18,75.79 957.88,75.53 958.57,75.68 959.27,75.87 959.97,75.93 960.67,75.93 961.37,76.19 962.06,76.25 962.76,75.92 963.46,75.78 964.16,75.88 964.86,76.06 965.55,75.85 966.25,75.77 966.95,75.8 967.65,75.61 968.35,75.65 969.04,75.59 969.74,75.52 970.44,75.75 971.14,75.77 971.84,75.64 972.53,75.94 973.23,75.91 973.93,75.86 974.63,76.02 975.33,75.85 976.02,75.9 976.72,76.11 977.42,76.02 978.12,75.9 978.82,75.85 979.51,75.69 980.21,75.76 980.91,75.94 981.61,75.88 982.31,75.93 983,75.81 983.7,75.54 984.4,75.68 985.1,76.06 985.8,76.07 986.49,76.03 987.19,76.29 987.89,76.17 988.59,75.87 989.29,75.86 989.98,75.88 990.68,75.88 991.38,75.94 992.08,76.12 992.78,75.89 993.47,75.72 994.17,76.05 994.87,76.16 995.57,76.03 996.27,75.98 996.96,76.25 997.66,76.23 998.36,75.89 999.06,76.15 999.76,76.17 1000.45,75.87 1001.15,76.24 1001.85,76.38 1002.55,76.13 1003.25,75.88 1003.94,75.65 1004.64,75.85 1005.34,76.06 1006.04,76.02 1006.74,75.97 1007.43,76.01 1008.13,76.02 1008.83,76.17 1009.53,76.38 1010.23,76.18 1010.92,75.82 1011.62,75.99 1012.32,76.33 1013.02,75.97 1013.72,75.93 1014.41,75.96 1015.11,75.74 1015.81,75.76 1016.51,75.88 1017.21,76.1 1017.9,76.34 1018.6,76.03 1019.3,75.62 1020,75.74 1020.7,75.83 1021.39,75.81 1022.09,75.83 1022.79,75.91 1023.49,75.86 1024.19,75.94 1024.88,76 1025.58,75.97 1026.28,76.02 1026.98,76.03 1027.68,76.08 1028.37,76.17 1029.07,76.32 1029.77,75.97 1030.47,75.64 1031.17,75.79 1031.86,75.84 1032.56,76 1033.26,76.22 1033.96,76.08 1034.66,75.92 1035.35,75.86 1036.05,76.13 1036.75,76.36 1037.45,75.95 1038.15,75.8 1038.84,76.06 1039.54,76.33 1040.24,76.29 1040.94,76.17 1041.64,76.11 1042.33,76.14 1043.03,75.87 1043.73,75.93 1044.43,76.16 1045.13,75.91 1045.82,75.79 1046.52,75.85 1047.22,75.84 1047.92,75.97 1048.62,76.04 1049.31,76 1050.01,76.18 1050.71,76.03 1051.41,76.1 1052.11,76.25 1052.8,76.14 1053.5,76.19 1054.2,76.11 1054.9,76.02 1055.6,76.11 1056.29,76.04 1056.99,76.11 1057.69,76.33 1058.39,76.11 1059.09,76 1059.78,76.2 1060.48,76.16 1061.18,75.9 1061.88,76.09 1062.58,76.34 1063.27,75.98 1063.97,75.61 1064.67,75.57 1065.37,75.73 1066.07,75.63 1066.76,75.63 1067.46,75.92 1068.16,75.96 1068.86,76.19 1069.56,76.34 1070.25,76.15 1070.95,76.05 1071.65,76.51 1072.35,76.38 1073.05,75.84 1073.74,76.05 1074.44,76.19 1075.14,76 1075.84,76.09 1076.54,76.32 1077.23,76.19 1077.93,75.86 1078.63,75.87 1079.33,75.96 1080.03,76.12 1080.72,76.29 1081.42,76.2 1082.12,76.39 1082.82,76.35 1083.52,76.02 1084.21,75.96 1084.91,76.14 1085.61,76.14 1086.31,76.13 1087.01,76.23 1087.7,76.28 1088.4,76.26 1089.1,76.1 1089.8,76.19 1090.5,76.09 1091.19,75.93 1091.89,76.14 1092.59,75.9 1093.29,75.58 1093.99,75.77 1094.68,76.02 1095.38,75.99 1096.08,76.22 1096.78,76.24 1097.48,76.08 1098.17,76.1 1098.87,76.13 1099.57,76.16 1100.27,76.31 1100.97,76.27 1101.66,75.86 1102.36,75.88 1103.06,76.16 1103.76,76.38 1104.46,76.32 1105.15,76.24 1105.85,76.32 1106.55,76.07 1107.25,75.87 1107.95,76.08 1108.64,76.11 1109.34,76.09 1110.04,76.35 1110.74,76.49 1111.44,76.39 1112.13,76.16 1112.83,75.99 1113.53,75.95 1114.23,76.11 1114.93,76.15 1115.62,76.24 1116.32,76.09 1117.02,75.79 1117.72,76.02 1118.42,76.21 1119.11,76.16 1119.81,75.94 1120.51,75.89 1121.21,75.86 1121.91,76.03 1122.6,76.29 1123.3,76.33 1124,76.29 1124.7,76.28 1125.4,76.31 1126.09,76.13 1126.79,75.98 1127.49,76.04 1128.19,76.15 1128.89,76.24 1129.58,76.2 1130.28,76.07 1130.98,76.42 1131.68,76.55 1132.38,76.18 1133.07,76.28 1133.77,76.17 1134.47,76.08 1135.17,76.12 1135.87,75.84 1136.56,76.12 1137.26,76.24 1137.96,75.81 1138.66,75.94 1139.36,76.02 1140.05,75.98 1140.75,76.09 1141.45,75.97 1142.15,76.09 1142.85,76.15 1143.54,76.31 1144.24,76.43 1144.94,76.17 1145.64,75.88 1146.34,75.92 1147.03,75.89 1147.73,75.94 1148.43,76.09 1149.13,76.22 1149.83,76.43 1150.52,76.13 1151.22,75.84 1151.92,76.01 1152.62,76.48 1153.32,76.31 1154.01,76.15 1154.71,76.02 1155.41,75.8 1156.11,76.1 1156.81,76.01 1157.5,75.95 1158.2,76.34 1158.9,76.28 1159.6,76.22 1160.3,76.46 1160.99,76.4 1161.69,76.2 1162.39,75.99 1163.09,76.03 1163.79,76.04 1164.48,76.06 1165.18,76.11 1165.88,76.04 1166.58,76.17 1167.28,76.43 1167.97,76.52 1168.67,76.59 1169.37,76.33 1170.07,76.3 1170.77,76.43 1171.46,76.18 1172.16,76.08 1172.86,75.95 1173.56,75.77 1174.26,75.79 1174.95,76.28 1175.65,76.28 1176.35,76.1 1177.05,76.34 1177.75,76.21 1178.44,76.03 1179.14,76.05 1179.84,76.16 1180.54,76.39 1181.24,76.41 1181.93,76.2 1182.63,76.3 1183.33,76.21 1184.03,75.93 1184.73,75.99 1185.42,76.05 1186.12,76.07 1186.82,76.11 1187.52,76.5 1188.22,76.38 1188.91,75.93 1189.61,76.03 1190.31,76.06 1191.01,76.2 1191.71,76.15 1192.4,76.05 1193.1,76.14 1193.8,76.12 1194.5,76.18 1195.2,76.5 1195.89,76.47 1196.59,76.09 1197.29,76.09 1197.99,76.11 1198.69,76.05 1199.38,76.31 1200.08,76.55 1200.78,76.16 1201.48,75.93 1202.18,76.36 1202.87,76.44 1203.57,75.89 1204.27,75.69 1204.97,75.93 1205.67,76.1 1206.36,76.2 1207.06,76.35 1207.76,76.34 1208.46,76.07 1209.16,76.07 1209.85,76.3 1210.55,76.41 1211.25,76.01 1211.95,75.85 1212.65,75.84 1213.34,75.78 1214.04,76.07 1214.74,76.24 1215.44,76.17 1216.14,76.36 1216.83,76.39 1217.53,76.05 1218.23,76.13 1218.93,76.08 1219.63,76.21 1220.32,76.37 1221.02,76.15 1221.72,75.99 1222.42,75.98 1223.12,76.08 1223.81,76.26 1224.51,76.41 1225.21,76.47 1225.91,76.47 1226.61,76.47 1227.3,76.22 1228,76.38 1228.7,76.56 1229.4,76.3 1230.1,76.07 1230.79,75.83 1231.49,75.87 1232.19,75.93 1232.89,76.05 1233.59,76.27 1234.28,76.11 1234.98,76.26 1235.68,76.3 1236.38,76.04 1237.08,76.06 1237.77,76.21 1238.47,76.63 1239.17,76.42 1239.87,76.24 1240.57,76.2 1241.26,76 1241.96,76.22 1242.66,76.48 1243.36,76.63 1244.06,76.62 1244.75,76.57 1245.45,76.5 1246.15,76.38 1246.85,76.12 1247.55,75.89 1248.24,76.14 1248.94,76.26 1249.64,76.05 1250.34,76.06 1251.04,76.1 1251.73,76.17 1252.43,76.05 1253.13,76.07 1253.83,76.12 1254.53,75.94 1255.22,75.97 1255.92,75.88 1256.62,76.04 1257.32,76.33 1258.02,76.32 1258.71,76.23 1259.41,75.9 1260.11,76.02 1260.81,76.3 1261.51,75.99 1262.2,75.89 1262.9,76.13 1263.6,76.13 1264.3,76.22 1265,76.21 1265.69,76.03 1266.39,76.24 1267.09,76.3 1267.79,76.06 1268.49,76.09 1269.18,76.25 1269.88,76.17 1270.58,76.2 1271.28,76.43 1271.98,76.38 1272.67,75.99 1273.37,76.03 1274.07,76.09 1274.77,75.91 1275.47,75.89 1276.16,76.07 1276.86,76.23 1277.56,76.31 1278.26,76.49 1278.96,76.36 1279.65,76.01 1280.35,76.13 1281.05,76.37 1281.75,76.28 1282.45,76.32 1283.14,76.35 1283.84,76.37 1284.54,76.54 1285.24,76.37 1285.94,76.13 1286.63,76.23 1287.33,76.23 1288.03,76.03 1288.73,76.17 1289.43,76.15 1290.12,76.07 1290.82,76.23 1291.52,76.06 1292.22,76.05 1292.92,76.56 1293.61,76.63 1294.31,76.47 1295.01,76.78 1295.71,76.45 1296.41,75.98 1297.1,75.85 1297.8,76.11 1298.5,76.27 1299.2,76.06 1299.9,76.12 1300.59,75.99 1301.29,76.01 1301.99,76.3 1302.69,76.14 1303.39,75.87 1304.08,75.82 1304.78,75.95 1305.48,76.44 1306.18,76.4 1306.88,76.1 1307.57,76.02 1308.27,75.79 1308.97,76.05 1309.67,76.58 1310.37,76.41 1311.06,76.16 1311.76,76.33 1312.46,76.27 1313.16,76.28 1313.86,76.54 1314.55,76.37 1315.25,76.12 1315.95,76.25 1316.65,76.38 1317.35,76.18 1318.04,76.05 1318.74,76.21 1319.44,76.45 1320.14,76.5 1320.84,76.34 1321.53,76.33 1322.23,76.41 1322.93,76.16 1323.63,75.89 1324.33,75.94 1325.02,76.27 1325.72,76.43 1326.42,76.38 1327.12,76.19 1327.82,76.26 1328.51,76.5 1329.21,76.31 1329.91,76.11 1330.61,76.09 1331.31,76.15 1332,75.86 1332.7,75.68 1333.4,75.93" fill="none" stroke="#505050" stroke-width="2.8" stroke-linejoin="round" stroke-linecap="butt"/>
<polyline points="844.8,68.97 845.5,67.76 846.2,70.8 846.89,69.03 847.59,65.03 848.29,63.87 848.99,65.75 849.69,67.18 850.38,66.57 851.08,66.42 851.78,66.42 852.48,66.23 853.18,65.95 853.87,65.93 854.57,66.65 855.27,66.64 855.97,66.48 856.67,65 857.36,63.42 858.06,62.81 858.76,64.4 859.46,64.92 860.16,63.98 860.85,64.21 861.55,64.39 862.25,63.53 862.95,63.06 863.65,62.68 864.34,62.41 865.04,62.94 865.74,61.93 866.44,61.28 867.14,60.61 867.83,61.69 868.53,62.41 869.23,62.4 869.93,62.11 870.63,59.96 871.32,59.98 872.02,61.71 872.72,60.41 873.42,59.06 874.12,58.84 874.81,57.96 875.51,58.28 876.21,57.92 876.91,56.85 877.61,58.64 878.3,59.34 879,58.61 879.7,59.89 880.4,58.42 881.1,55.33 881.79,55.28 882.49,56.1 883.19,55.44 883.89,55.79 884.59,56.85 885.28,55.8 885.98,53.84 886.68,53.28 887.38,54.37 888.08,55.34 888.77,54.73 889.47,53.51 890.17,53.55 890.87,52.96 891.57,52.73 892.26,52.34 892.96,52.02 893.66,51.74 894.36,51.62 895.06,52.48 895.75,51.99 896.45,51.23 897.15,51.15 897.85,51.3 898.55,50.88 899.24,50.23 899.94,50.17 900.64,50.06 901.34,49.94 902.04,50.17 902.73,50.04 903.43,49.75 904.13,49.57 904.83,49.82 905.53,49.94 906.22,49.6 906.92,49.51 907.62,49.87 908.32,50.33 909.02,50.68 909.71,51.22 910.41,51.22 911.11,51.58 911.81,52.73 912.51,54.35 913.2,56.06 913.9,58.01 914.6,59.9 915.3,61.55 916,63.5 916.69,65.47 917.39,67.6 918.09,70.04 918.79,72.41 919.49,75.08 920.18,78.69 920.88,82.72 921.58,86.66 922.28,91.05 922.98,95.66 923.67,100.58 924.37,105.68 925.07,110.83 925.77,116.04 926.47,121.81 927.16,128.02 927.86,134.42 928.56,141.46 929.26,148.47 929.96,154.39 930.65,159.09 931.35,162.61 932.05,165.39 932.75,168.11 933.45,170.64 934.14,172.89 934.84,174.86 935.54,176.62 936.24,178.21 936.94,179.67 937.63,180.34 938.33,180.33 939.03,179.28 939.73,176.44 940.43,172.45 941.12,167.67 941.82,162.24 942.52,156.16 943.22,144.63 943.92,126.31 944.61,105.71 945.31,87.61 946.01,76.39 946.71,70.44 947.41,65.31 948.1,61.44 948.8,58.25 949.5,55.86 950.2,54.52 950.9,52.83 951.59,51.12 952.29,49.8 952.99,48.87 953.69,48.61 954.39,48.51 955.08,48.5 955.78,48.82 956.48,49.37 957.18,50.19 957.88,51.18 958.57,52.12 959.27,53.24 959.97,54.12 960.67,55.25 961.37,56.81 962.06,58.22 962.76,59.51 963.46,61.24 964.16,63.06 964.86,64.53 965.55,65.65 966.25,66.09 966.95,66.69 967.65,67.6 968.35,68.6 969.04,69.49 969.74,70.19 970.44,70.84 971.14,71.25 971.84,71.72 972.53,72.57 973.23,73.02 973.93,73.55 974.63,74.25 975.33,74.73 976.02,75 976.72,75.2 977.42,75.35 978.12,75.57 978.82,75.87 979.51,75.67 980.21,75.4 980.91,75.47 981.61,75.78 982.31,75.85 983,76.01 983.7,76.01 984.4,75.97 985.1,76.05 985.8,75.72 986.49,75.48 987.19,75.85 987.89,75.95 988.59,75.98 989.29,76.21 989.98,75.97 990.68,75.81 991.38,75.9 992.08,76.06 992.78,76.14 993.47,76.28 994.17,76.45 994.87,76.29 995.57,76.21 996.27,76.15 996.96,75.98 997.66,76.15 998.36,76.19 999.06,75.99 999.76,75.98 1000.45,76.04 1001.15,76.04 1001.85,76.02 1002.55,75.85 1003.25,75.79 1003.94,76.26 1004.64,76.45 1005.34,76.34 1006.04,76.27 1006.74,76.15 1007.43,76.13 1008.13,75.97 1008.83,75.99 1009.53,76.24 1010.23,76.32 1010.92,76.38 1011.62,76.32 1012.32,76.17 1013.02,76.16 1013.72,76.19 1014.41,75.89 1015.11,75.95 1015.81,76.42 1016.51,76.26 1017.21,76.16 1017.9,76.52 1018.6,76.41 1019.3,76.37 1020,76.26 1020.7,75.81 1021.39,75.93 1022.09,76.13 1022.79,76.27 1023.49,76.33 1024.19,76.14 1024.88,76.27 1025.58,76.4 1026.28,76.29 1026.98,76.36 1027.68,76.4 1028.37,76.31 1029.07,76.08 1029.77,76.11 1030.47,76.19 1031.17,76.27 1031.86,76.13 1032.56,75.83 1033.26,76.14 1033.96,76.32 1034.66,76.3 1035.35,76.47 1036.05,76.46 1036.75,76.37 1037.45,76.04 1038.15,75.85 1038.84,76.07 1039.54,76.22 1040.24,76.06 1040.94,76.13 1041.64,76.4 1042.33,76.28 1043.03,76.04 1043.73,76.12 1044.43,76.12 1045.13,75.85 1045.82,76.01 1046.52,76.15 1047.22,76.37 1047.92,76.45 1048.62,76.3 1049.31,76.21 1050.01,76.29 1050.71,76.32 1051.41,76.14 1052.11,76.04 1052.8,76.07 1053.5,76.33 1054.2,76.38 1054.9,76.26 1055.6,75.87 1056.29,75.95 1056.99,76.28 1057.69,76.22 1058.39,76.15 1059.09,76.19 1059.78,76.38 1060.48,76.37 1061.18,76.17 1061.88,75.95 1062.58,75.97 1063.27,76.03 1063.97,76.22 1064.67,76.15 1065.37,76.16 1066.07,76.58 1066.76,76.45 1067.46,76.14 1068.16,76.02 1068.86,76.22 1069.56,76.51 1070.25,76.46 1070.95,76.52 1071.65,76.61 1072.35,76.19 1073.05,75.9 1073.74,75.9 1074.44,75.99 1075.14,76.3 1075.84,76.36 1076.54,76.19 1077.23,76.33 1077.93,76.25 1078.63,76.15 1079.33,76.2 1080.03,76.33 1080.72,76.63 1081.42,76.38 1082.12,76.2 1082.82,75.98 1083.52,75.9 1084.21,76.09 1084.91,76.17 1085.61,76.29 1086.31,76.31 1087.01,76.36 1087.7,76.46 1088.4,76.3 1089.1,76.24 1089.8,76.33 1090.5,76.16 1091.19,76.11 1091.89,76.28 1092.59,76.22 1093.29,76.15 1093.99,76.09 1094.68,76.1 1095.38,76.26 1096.08,76.14 1096.78,76.17 1097.48,76.13 1098.17,76.05 1098.87,76.53 1099.57,76.45 1100.27,76.26 1100.97,76.43 1101.66,76.36 1102.36,76.46 1103.06,76.08 1103.76,75.89 1104.46,76.08 1105.15,76.04 1105.85,76.11 1106.55,76.24 1107.25,76.44 1107.95,76.14 1108.64,76.04 1109.34,76.17 1110.04,75.73 1110.74,75.96 1111.44,76.35 1112.13,76.28 1112.83,76.39 1113.53,76.35 1114.23,76.23 1114.93,76.19 1115.62,76.3 1116.32,76.22 1117.02,75.95 1117.72,76.06 1118.42,75.98 1119.11,76.04 1119.81,76.34 1120.51,76.22 1121.21,75.99 1121.91,75.86 1122.6,76.19 1123.3,76.55 1124,76.33 1124.7,76.4 1125.4,76.46 1126.09,76.14 1126.79,76.09 1127.49,75.98 1128.19,76.39 1128.89,76.44 1129.58,76.16 1130.28,76.46 1130.98,76.28 1131.68,76.32 1132.38,76.44 1133.07,76.18 1133.77,76.24 1134.47,76.24 1135.17,76.08 1135.87,75.98 1136.56,76.04 1137.26,76.04 1137.96,76.13 1138.66,76.06 1139.36,75.88 1140.05,76.29 1140.75,76.21 1141.45,76 1142.15,76.25 1142.85,76.14 1143.54,76.05 1144.24,76.08 1144.94,76.03 1145.64,76.39 1146.34,76.4 1147.03,76.09 1147.73,76.03 1148.43,76.06 1149.13,76.17 1149.83,76.19 1150.52,76.24 1151.22,76.16 1151.92,76.13 1152.62,76.08 1153.32,75.93 1154.01,76.09 1154.71,76.44 1155.41,76.57 1156.11,76.4 1156.81,76.36 1157.5,76.33 1158.2,76.3 1158.9,76.22 1159.6,76.37 1160.3,76.26 1160.99,75.89 1161.69,76.11 1162.39,76.32 1163.09,76.26 1163.79,76.04 1164.48,76.07 1165.18,76.1 1165.88,76.11 1166.58,76.31 1167.28,76.19 1167.97,75.95 1168.67,75.79 1169.37,75.74 1170.07,76.15 1170.77,76.31 1171.46,76.17 1172.16,76.07 1172.86,76.16 1173.56,76.32 1174.26,76.18 1174.95,76.33 1175.65,76.17 1176.35,76.28 1177.05,76.67 1177.75,76.32 1178.44,76.27 1179.14,76.38 1179.84,76.18 1180.54,76.1 1181.24,76.16 1181.93,76.1 1182.63,75.87 1183.33,76.02 1184.03,76.25 1184.73,76.02 1185.42,76.24 1186.12,76.37 1186.82,76.18 1187.52,76 1188.22,76.12 1188.91,76.44 1189.61,76.68 1190.31,76.55 1191.01,76.21 1191.71,76.25 1192.4,76.51 1193.1,76.51 1193.8,76.34 1194.5,76.55 1195.2,76.5 1195.89,76.2 1196.59,76.17 1197.29,76.08 1197.99,76.17 1198.69,76.38 1199.38,76.44 1200.08,76.2 1200.78,75.82 1201.48,76.08 1202.18,76.24 1202.87,76.19 1203.57,76.05 1204.27,75.8 1204.97,76.31 1205.67,76.63 1206.36,76.26 1207.06,76.45 1207.76,76.29 1208.46,76.15 1209.16,76.54 1209.85,76.39 1210.55,76.19 1211.25,76.38 1211.95,76.3 1212.65,76.12 1213.34,76.24 1214.04,76.39 1214.74,76.24 1215.44,76.1 1216.14,76.25 1216.83,76.2 1217.53,76.2 1218.23,76.24 1218.93,76.18 1219.63,76.17 1220.32,76.17 1221.02,76.12 1221.72,76.13 1222.42,76.45 1223.12,76.41 1223.81,76.1 1224.51,76.21 1225.21,76.17 1225.91,76.19 1226.61,76.5 1227.3,76.52 1228,76.27 1228.7,76.04 1229.4,76.39 1230.1,76.49 1230.79,76.3 1231.49,76.47 1232.19,76.44 1232.89,76.17 1233.59,76.24 1234.28,76.25 1234.98,76.03 1235.68,76.15 1236.38,76.21 1237.08,75.97 1237.77,75.94 1238.47,76.19 1239.17,76.14 1239.87,76.28 1240.57,76.49 1241.26,76.4 1241.96,76.22 1242.66,76.29 1243.36,76.61 1244.06,76.47 1244.75,76.39 1245.45,76.48 1246.15,76.3 1246.85,75.88 1247.55,76.07 1248.24,76.48 1248.94,76.31 1249.64,76.5 1250.34,76.41 1251.04,75.92 1251.73,75.74 1252.43,75.92 1253.13,76.18 1253.83,76.23 1254.53,76.05 1255.22,76.14 1255.92,76.34 1256.62,76.15 1257.32,76.25 1258.02,76.37 1258.71,76.49 1259.41,76.42 1260.11,76.2 1260.81,76.21 1261.51,76.19 1262.2,76.16 1262.9,76.21 1263.6,76.21 1264.3,76.2 1265,76.04 1265.69,76.04 1266.39,76.37 1267.09,76.19 1267.79,76.04 1268.49,76.25 1269.18,76.2 1269.88,76.11 1270.58,75.98 1271.28,76.12 1271.98,76.13 1272.67,76.19 1273.37,76.42 1274.07,76.27 1274.77,76.28 1275.47,76 1276.16,76.02 1276.86,76.36 1277.56,76.44 1278.26,76.09 1278.96,76.12 1279.65,76.37 1280.35,76.07 1281.05,76.08 1281.75,76.23 1282.45,76.08 1283.14,75.97 1283.84,76.24 1284.54,76.38 1285.24,76.22 1285.94,76.01 1286.63,76.1 1287.33,76.34 1288.03,76.24 1288.73,76.17 1289.43,76.23 1290.12,76.39 1290.82,76.57 1291.52,76.23 1292.22,76.04 1292.92,76.14 1293.61,76.09 1294.31,76.32 1295.01,76.31 1295.71,76.3 1296.41,76.35 1297.1,76.11 1297.8,75.95 1298.5,76.12 1299.2,76.52 1299.9,75.97 1300.59,75.77 1301.29,76.2 1301.99,76.2 1302.69,76.14 1303.39,76.01 1304.08,75.94 1304.78,75.91 1305.48,76.06 1306.18,76.53 1306.88,76.68 1307.57,76.3 1308.27,76.25 1308.97,76.13 1309.67,76.22 1310.37,76.19 1311.06,76.13 1311.76,76.2 1312.46,76.1 1313.16,76.21 1313.86,76.41 1314.55,76.22 1315.25,75.85 1315.95,75.98 1316.65,76.38 1317.35,76.35 1318.04,76.37 1318.74,76.48 1319.44,76.56 1320.14,76.57 1320.84,76.29 1321.53,76.3 1322.23,75.95 1322.93,75.97 1323.63,76.31 1324.33,76.21 1325.02,76.13 1325.72,76 1326.42,75.95 1327.12,76.18 1327.82,76.26 1328.51,76.37 1329.21,76.42 1329.91,76.02 1330.61,76.11 1331.31,76.27 1332,76.28 1332.7,76.52 1333.4,76.25" fill="none" stroke="#EC3A3F" stroke-width="2.8" stroke-linejoin="round" stroke-linecap="butt"/>
<polyline points="844.8,68.96 845.5,73.31 846.2,72.94 846.89,69.85 847.59,69.51 848.29,71.77 848.99,71.13 849.69,70 850.38,71.14 851.08,71.45 851.78,72.07 852.48,72.34 853.18,70.38 853.87,70.78 854.57,71.84 855.27,72.05 855.97,71.76 856.67,70.56 857.36,70.4 858.06,70.69 858.76,70.27 859.46,69.78 860.16,70.3 860.85,70.49 861.55,69.52 862.25,70.26 862.95,70.04 863.65,68.63 864.34,68.8 865.04,69.32 865.74,69.76 866.44,69.96 867.14,69.55 867.83,69.56 868.53,70.22 869.23,69.38 869.93,69.73 870.63,70.71 871.32,69.7 872.02,69.23 872.72,69.44 873.42,68.78 874.12,69.08 874.81,68.75 875.51,67.6 876.21,68.69 876.91,68.83 877.61,68.11 878.3,68.38 879,68.93 879.7,69.81 880.4,69.18 881.1,67.52 881.79,68.22 882.49,67.2 883.19,65.99 883.89,66.89 884.59,67.56 885.28,68.29 885.98,67.95 886.68,66.71 887.38,65.79 888.08,66.48 888.77,66.42 889.47,66.14 890.17,66.11 890.87,65.65 891.57,65.48 892.26,65.05 892.96,65.02 893.66,65.68 894.36,65.45 895.06,64.91 895.75,65.14 896.45,64.83 897.15,64.55 897.85,64.76 898.55,64.43 899.24,64.44 899.94,64.44 900.64,64.13 901.34,64.42 902.04,64.42 902.73,64 903.43,64.04 904.13,63.97 904.83,63.85 905.53,64.34 906.22,64.63 906.92,64.43 907.62,64.34 908.32,64.34 909.02,64.45 909.71,64.67 910.41,64.86 911.11,64.89 911.81,65.26 912.51,66.07 913.2,66.72 913.9,67.48 914.6,68.48 915.3,68.92 916,69.64 916.69,70.76 917.39,71.8 918.09,72.68 918.79,73.48 919.49,74.58 920.18,76.15 920.88,77.67 921.58,79.29 922.28,81.32 922.98,83.6 923.67,86.25 924.37,88.41 925.07,90.37 925.77,92.53 926.47,94.62 927.16,96.56 927.86,98.66 928.56,100.04 929.26,101 929.96,102.69 930.65,104.33 931.35,105.5 932.05,106.57 932.75,107.74 933.45,108.96 934.14,109.81 934.84,110.58 935.54,111.49 936.24,112.21 936.94,112.63 937.63,112.86 938.33,112.96 939.03,111.72 939.73,109.43 940.43,106.78 941.12,103.56 941.82,99.86 942.52,95.98 943.22,90.76 943.92,84.3 944.61,78.54 945.31,75.1 946.01,72.55 946.71,70.12 947.41,67.65 948.1,65.25 948.8,63.25 949.5,61.55 950.2,59.95 950.9,59 951.59,58.33 952.29,57.93 952.99,57.78 953.69,57.77 954.39,58.21 955.08,58.87 955.78,59.44 956.48,60.21 957.18,61.09 957.88,61.58 958.57,62.19 959.27,63.21 959.97,64.12 960.67,64.67 961.37,65.53 962.06,66.64 962.76,67.11 963.46,67.98 964.16,69.16 964.86,69.7 965.55,70.32 966.25,70.82 966.95,71.47 967.65,71.81 968.35,71.85 969.04,72.55 969.74,73.29 970.44,73.77 971.14,74.06 971.84,74.33 972.53,74.83 973.23,75.49 973.93,75.65 974.63,75.45 975.33,75.75 976.02,76.04 976.72,75.99 977.42,76.29 978.12,76.5 978.82,76.49 979.51,76.23 980.21,76.2 980.91,76.56 981.61,76.3 982.31,76.04 983,76.14 983.7,76.28 984.4,76.25 985.1,76.25 985.8,76.21 986.49,76.05 987.19,76.04 987.89,75.9 988.59,75.98 989.29,76.13 989.98,76.11 990.68,76.21 991.38,76.29 992.08,76.21 992.78,76.1 993.47,76.11 994.17,76.43 994.87,76.37 995.57,76.01 996.27,76.03 996.96,76.24 997.66,76.23 998.36,76.36 999.06,76.33 999.76,75.89 1000.45,76.03 1001.15,76.45 1001.85,76.44 1002.55,76.18 1003.25,76.19 1003.94,76.38 1004.64,76.19 1005.34,76.06 1006.04,76.14 1006.74,76.03 1007.43,76.06 1008.13,76 1008.83,75.94 1009.53,76.22 1010.23,76.35 1010.92,76.35 1011.62,76.29 1012.32,76.35 1013.02,76.39 1013.72,76.08 1014.41,76.13 1015.11,76.27 1015.81,76.42 1016.51,76.2 1017.21,75.88 1017.9,76 1018.6,76.39 1019.3,76.47 1020,76.37 1020.7,76.37 1021.39,76.26 1022.09,76.45 1022.79,76.21 1023.49,75.89 1024.19,75.96 1024.88,75.93 1025.58,76.15 1026.28,76.3 1026.98,76.29 1027.68,76.24 1028.37,76 1029.07,76.16 1029.77,76.29 1030.47,76.01 1031.17,76 1031.86,76.23 1032.56,76.39 1033.26,76.43 1033.96,76.28 1034.66,76.35 1035.35,76.59 1036.05,76.34 1036.75,75.86 1037.45,75.93 1038.15,76.15 1038.84,76.33 1039.54,76.32 1040.24,76.42 1040.94,76.6 1041.64,76.33 1042.33,76.19 1043.03,76.41 1043.73,76.2 1044.43,76.12 1045.13,76.1 1045.82,76.16 1046.52,76.29 1047.22,75.93 1047.92,76 1048.62,76.33 1049.31,76.12 1050.01,75.96 1050.71,76.12 1051.41,76 1052.11,76.34 1052.8,76.65 1053.5,76.57 1054.2,76.44 1054.9,76.27 1055.6,76.21 1056.29,76.1 1056.99,76.08 1057.69,76.39 1058.39,76.38 1059.09,76.26 1059.78,76.29 1060.48,76.41 1061.18,76.51 1061.88,76.15 1062.58,75.9 1063.27,76.13 1063.97,76.18 1064.67,76.16 1065.37,76.31 1066.07,76.28 1066.76,76.16 1067.46,76.43 1068.16,76.82 1068.86,76.38 1069.56,76.2 1070.25,76.22 1070.95,75.98 1071.65,76 1072.35,76.13 1073.05,76.41 1073.74,76.34 1074.44,76.28 1075.14,76.24 1075.84,76.32 1076.54,76.46 1077.23,76.2 1077.93,76.34 1078.63,76.34 1079.33,76.15 1080.03,76.43 1080.72,76.24 1081.42,76.08 1082.12,76.22 1082.82,76.11 1083.52,76.43 1084.21,76.61 1084.91,76.37 1085.61,76.36 1086.31,76.51 1087.01,76.47 1087.7,76.08 1088.4,75.91 1089.1,76.12 1089.8,76.24 1090.5,75.97 1091.19,75.93 1091.89,76.21 1092.59,76.25 1093.29,76.22 1093.99,76.09 1094.68,76.07 1095.38,75.95 1096.08,75.75 1096.78,75.97 1097.48,76.28 1098.17,76.39 1098.87,76.28 1099.57,76.13 1100.27,76 1100.97,76.3 1101.66,76.5 1102.36,76.14 1103.06,76.07 1103.76,75.99 1104.46,76.13 1105.15,76.1 1105.85,75.88 1106.55,76.18 1107.25,76.2 1107.95,76.12 1108.64,76.08 1109.34,76.29 1110.04,76.41 1110.74,75.99 1111.44,76.16 1112.13,76.64 1112.83,76.53 1113.53,76.19 1114.23,76.23 1114.93,76.09 1115.62,76.12 1116.32,76.39 1117.02,76.4 1117.72,76.3 1118.42,76.11 1119.11,75.85 1119.81,76.01 1120.51,76.45 1121.21,76.36 1121.91,75.88 1122.6,75.96 1123.3,76.25 1124,76.25 1124.7,76.18 1125.4,76.1 1126.09,76.17 1126.79,76.17 1127.49,76.33 1128.19,76.44 1128.89,76.51 1129.58,76.8 1130.28,76.58 1130.98,75.96 1131.68,76.12 1132.38,76.18 1133.07,76.12 1133.77,76.47 1134.47,76.63 1135.17,76.4 1135.87,76.33 1136.56,76.46 1137.26,76.15 1137.96,76.22 1138.66,76.3 1139.36,75.92 1140.05,75.95 1140.75,76.01 1141.45,75.99 1142.15,76.23 1142.85,76.3 1143.54,76.08 1144.24,76.05 1144.94,76.06 1145.64,76.17 1146.34,76.37 1147.03,76.36 1147.73,76.29 1148.43,75.87 1149.13,76.08 1149.83,76.49 1150.52,76.36 1151.22,76.19 1151.92,76.2 1152.62,76.24 1153.32,76.1 1154.01,76.27 1154.71,76.44 1155.41,76.28 1156.11,76.04 1156.81,75.88 1157.5,75.83 1158.2,76.11 1158.9,76.27 1159.6,76.37 1160.3,76.29 1160.99,76.07 1161.69,76.27 1162.39,76.22 1163.09,76.19 1163.79,76.43 1164.48,76.45 1165.18,76.21 1165.88,76.27 1166.58,76.4 1167.28,76.36 1167.97,76.3 1168.67,76.02 1169.37,76.06 1170.07,76.14 1170.77,76.14 1171.46,76.14 1172.16,76.01 1172.86,76.16 1173.56,76.17 1174.26,75.96 1174.95,76.04 1175.65,76.07 1176.35,76.04 1177.05,76.11 1177.75,76.02 1178.44,75.97 1179.14,76.24 1179.84,76.3 1180.54,76.3 1181.24,76.38 1181.93,76.23 1182.63,76.46 1183.33,76.55 1184.03,76.12 1184.73,76.05 1185.42,76.19 1186.12,76.25 1186.82,76.25 1187.52,76.21 1188.22,76.31 1188.91,76.34 1189.61,76.39 1190.31,76.42 1191.01,76.23 1191.71,76.18 1192.4,76.16 1193.1,76.36 1193.8,76.56 1194.5,76.27 1195.2,76.13 1195.89,76.02 1196.59,76.15 1197.29,76.12 1197.99,76.11 1198.69,76.35 1199.38,76.22 1200.08,76.13 1200.78,76.3 1201.48,76.42 1202.18,76.34 1202.87,76.19 1203.57,75.88 1204.27,75.83 1204.97,76.19 1205.67,76.33 1206.36,76.3 1207.06,76.43 1207.76,76.38 1208.46,76.4 1209.16,76.37 1209.85,76.1 1210.55,76.03 1211.25,76.14 1211.95,76.22 1212.65,76.32 1213.34,76.35 1214.04,76.18 1214.74,75.87 1215.44,75.98 1216.14,76.28 1216.83,76.35 1217.53,76.34 1218.23,76.18 1218.93,76.18 1219.63,76.42 1220.32,76.55 1221.02,76.44 1221.72,76.23 1222.42,76.34 1223.12,76.43 1223.81,76.32 1224.51,76.14 1225.21,76.36 1225.91,76.49 1226.61,75.88 1227.3,75.51 1228,76.04 1228.7,76.31 1229.4,76.26 1230.1,76.2 1230.79,76.15 1231.49,76.42 1232.19,76.4 1232.89,76.07 1233.59,76.05 1234.28,76.47 1234.98,76.42 1235.68,76.12 1236.38,76.02 1237.08,76.23 1237.77,76.14 1238.47,76.2 1239.17,76.35 1239.87,76.2 1240.57,76.43 1241.26,76.17 1241.96,76.04 1242.66,76.36 1243.36,76.4 1244.06,76.25 1244.75,76.26 1245.45,76.41 1246.15,76.35 1246.85,76.25 1247.55,76.12 1248.24,76.13 1248.94,76.28 1249.64,76.03 1250.34,76.05 1251.04,76.5 1251.73,76.49 1252.43,76.48 1253.13,76.29 1253.83,76 1254.53,75.9 1255.22,76.14 1255.92,76.51 1256.62,76.37 1257.32,76.22 1258.02,76.38 1258.71,76.4 1259.41,76.26 1260.11,76.2 1260.81,76.08 1261.51,75.75 1262.2,75.8 1262.9,76.13 1263.6,76.11 1264.3,76.17 1265,76.33 1265.69,76.43 1266.39,76.46 1267.09,76.43 1267.79,76.15 1268.49,75.98 1269.18,76.14 1269.88,75.93 1270.58,76 1271.28,76.4 1271.98,76.29 1272.67,76.27 1273.37,76.37 1274.07,76.21 1274.77,76.43 1275.47,76.57 1276.16,76.19 1276.86,76.19 1277.56,76.02 1278.26,75.97 1278.96,76.15 1279.65,76.26 1280.35,76.38 1281.05,76.37 1281.75,76.42 1282.45,76.7 1283.14,76.78 1283.84,76.45 1284.54,76.27 1285.24,76.11 1285.94,76.01 1286.63,76.01 1287.33,76.04 1288.03,76.18 1288.73,76.09 1289.43,76.34 1290.12,76.48 1290.82,76.25 1291.52,76.18 1292.22,76.13 1292.92,76.23 1293.61,76.22 1294.31,76.21 1295.01,76.27 1295.71,76.02 1296.41,76.2 1297.1,76.47 1297.8,76.42 1298.5,76.45 1299.2,76.48 1299.9,75.97 1300.59,75.86 1301.29,76.28 1301.99,76.34 1302.69,76.24 1303.39,75.98 1304.08,76.03 1304.78,76.19 1305.48,76.44 1306.18,76.33 1306.88,76.3 1307.57,76.5 1308.27,76.31 1308.97,75.91 1309.67,75.99 1310.37,76.37 1311.06,76.39 1311.76,76.19 1312.46,75.93 1313.16,76 1313.86,76.15 1314.55,76.18 1315.25,76.19 1315.95,76.16 1316.65,76.51 1317.35,76.61 1318.04,76.17 1318.74,76.13 1319.44,76.24 1320.14,76.13 1320.84,76.14 1321.53,76.21 1322.23,76.1 1322.93,76.07 1323.63,76.07 1324.33,76.19 1325.02,76.12 1325.72,76.02 1326.42,76.08 1327.12,76.19 1327.82,76.25 1328.51,76.28 1329.21,76.3 1329.91,76.3 1330.61,76.3 1331.31,76.35 1332,76.42 1332.7,76.32 1333.4,76.42" fill="none" stroke="#2169DA" stroke-width="2.8" stroke-linejoin="round" stroke-linecap="butt"/>
<polyline points="844.8,73.41 845.5,74.32 846.2,74.1 846.89,74.58 847.59,75.27 848.29,75.45 848.99,74.34 849.69,74.44 850.38,72.61 851.08,71.79 851.78,71.71 852.48,72.14 853.18,73.43 853.87,73.37 854.57,73.99 855.27,73.73 855.97,72.31 856.67,72.43 857.36,72.64 858.06,72.09 858.76,70.86 859.46,71.45 860.16,73.06 860.85,71.89 861.55,71.85 862.25,72.37 862.95,71.32 863.65,71.17 864.34,71.26 865.04,72.44 865.74,72.91 866.44,71.94 867.14,71.24 867.83,70.33 868.53,71.79 869.23,73.27 869.93,72.18 870.63,70.96 871.32,69.72 872.02,70.05 872.72,70.78 873.42,70.36 874.12,70.72 874.81,71.35 875.51,70.71 876.21,69.69 876.91,69.96 877.61,70.16 878.3,69.79 879,70.04 879.7,70.65 880.4,69.78 881.1,68.85 881.79,68.65 882.49,68.93 883.19,70.2 883.89,69.36 884.59,68.46 885.28,68.95 885.98,69.67 886.68,70.27 887.38,70.09 888.08,69.21 888.77,67.75 889.47,67.94 890.17,68.17 890.87,67.74 891.57,67.96 892.26,67.76 892.96,67.62 893.66,67.57 894.36,67.71 895.06,67.43 895.75,67.27 896.45,67.4 897.15,67.13 897.85,66.88 898.55,66.58 899.24,66.47 899.94,66.39 900.64,66.21 901.34,66.23 902.04,66.12 902.73,65.75 903.43,65.33 904.13,65.4 904.83,65.64 905.53,65.25 906.22,65.12 906.92,65.38 907.62,65.55 908.32,65.53 909.02,65.28 909.71,64.98 910.41,64.91 911.11,65.05 911.81,64.88 912.51,64.97 913.2,65.16 913.9,65.02 914.6,65.26 915.3,65.67 916,66.23 916.69,66.59 917.39,66.54 918.09,66.89 918.79,67.45 919.49,67.96 920.18,68.76 920.88,70.05 921.58,71.17 922.28,72.58 922.98,74.18 923.67,75.25 924.37,76.28 925.07,77.52 925.77,78.9 926.47,80.27 927.16,82.07 927.86,83.55 928.56,85.01 929.26,86.95 929.96,88.41 930.65,89.47 931.35,90.52 932.05,91.79 932.75,93.18 933.45,94.23 934.14,95.38 934.84,96.39 935.54,97.32 936.24,98.51 936.94,99.07 937.63,99.67 938.33,99.9 939.03,99.98 939.73,99.68 940.43,97.85 941.12,95.51 941.82,92.52 942.52,89.61 943.22,85.86 943.92,80.92 944.61,77.28 945.31,75.93 946.01,75.21 946.71,74.65 947.41,74.01 948.1,73.51 948.8,73.12 949.5,72.94 950.2,72.72 950.9,72.62 951.59,72.72 952.29,72.87 952.99,73.08 953.69,73.16 954.39,73.38 955.08,73.76 955.78,73.66 956.48,73.73 957.18,74.09 957.88,74.17 958.57,74.5 959.27,74.56 959.97,74.62 960.67,75.14 961.37,75.17 962.06,75.07 962.76,75.15 963.46,75.19 964.16,75.52 964.86,75.39 965.55,75.06 966.25,75.74 966.95,76.24 967.65,76.05 968.35,76.16 969.04,76.41 969.74,76.06 970.44,75.89 971.14,76.23 971.84,76.21 972.53,76.44 973.23,76.57 973.93,76.47 974.63,76.37 975.33,76.13 976.02,76.18 976.72,76.14 977.42,76.43 978.12,76.57 978.82,76.08 979.51,75.9 980.21,76.18 980.91,76.28 981.61,76.1 982.31,76.11 983,76.35 983.7,76.31 984.4,76.37 985.1,76.45 985.8,75.95 986.49,75.96 987.19,76.25 987.89,76.17 988.59,76.11 989.29,75.97 989.98,76.06 990.68,76.3 991.38,76.33 992.08,76.39 992.78,76.39 993.47,76.46 994.17,76.41 994.87,76.16 995.57,75.79 996.27,75.55 996.96,75.86 997.66,76.15 998.36,76.3 999.06,76.17 999.76,76 1000.45,75.95 1001.15,75.96 1001.85,76.25 1002.55,76.3 1003.25,76.14 1003.94,76.26 1004.64,76.29 1005.34,76.12 1006.04,76.09 1006.74,76.18 1007.43,76.19 1008.13,76.18 1008.83,76.11 1009.53,76.07 1010.23,76.22 1010.92,76.38 1011.62,76.39 1012.32,76.16 1013.02,75.9 1013.72,75.89 1014.41,76.18 1015.11,76.3 1015.81,76.2 1016.51,76.33 1017.21,76.39 1017.9,76.32 1018.6,76.44 1019.3,76.27 1020,76.16 1020.7,76.08 1021.39,76.14 1022.09,76.19 1022.79,76.18 1023.49,76.38 1024.19,76.3 1024.88,76.03 1025.58,75.88 1026.28,76.04 1026.98,76.17 1027.68,76.26 1028.37,76.37 1029.07,76.4 1029.77,76.21 1030.47,76.14 1031.17,76.24 1031.86,76.43 1032.56,76.33 1033.26,76 1033.96,76.25 1034.66,76.23 1035.35,76.11 1036.05,76.33 1036.75,76.44 1037.45,76.33 1038.15,76.05 1038.84,76.02 1039.54,76.14 1040.24,76.34 1040.94,76.43 1041.64,76.31 1042.33,76.15 1043.03,76.14 1043.73,76.26 1044.43,76.38 1045.13,76.42 1045.82,76.3 1046.52,76.16 1047.22,76.05 1047.92,76.17 1048.62,76.19 1049.31,76.21 1050.01,76.33 1050.71,76.22 1051.41,76.25 1052.11,75.85 1052.8,75.86 1053.5,76.15 1054.2,75.99 1054.9,76.17 1055.6,76.32 1056.29,76.46 1056.99,76.25 1057.69,76.04 1058.39,76.17 1059.09,76.22 1059.78,76.24 1060.48,76.29 1061.18,76.32 1061.88,76.45 1062.58,76.28 1063.27,76.21 1063.97,76.54 1064.67,76.2 1065.37,75.97 1066.07,76.24 1066.76,76.18 1067.46,76.03 1068.16,76.15 1068.86,76.21 1069.56,76.04 1070.25,76.1 1070.95,76.2 1071.65,76.18 1072.35,76.14 1073.05,76.13 1073.74,76.32 1074.44,76.39 1075.14,76.28 1075.84,76.19 1076.54,75.99 1077.23,75.94 1077.93,76.17 1078.63,76.28 1079.33,76.37 1080.03,76.38 1080.72,75.97 1081.42,75.98 1082.12,76.26 1082.82,76.21 1083.52,76.02 1084.21,76.09 1084.91,76.53 1085.61,76.52 1086.31,76.32 1087.01,76.07 1087.7,76.28 1088.4,76.5 1089.1,76.31 1089.8,76.41 1090.5,76.24 1091.19,76.12 1091.89,76.33 1092.59,76.19 1093.29,76.21 1093.99,76.38 1094.68,76.16 1095.38,75.89 1096.08,76.02 1096.78,76.22 1097.48,76.35 1098.17,76.25 1098.87,76.13 1099.57,76.18 1100.27,76.23 1100.97,76.27 1101.66,76.11 1102.36,76.02 1103.06,76.24 1103.76,76.08 1104.46,75.93 1105.15,76.42 1105.85,76.29 1106.55,76.1 1107.25,76.07 1107.95,75.78 1108.64,75.94 1109.34,76.23 1110.04,76.02 1110.74,76.16 1111.44,76.44 1112.13,76.16 1112.83,76.24 1113.53,76.24 1114.23,76.05 1114.93,75.97 1115.62,76.02 1116.32,76.23 1117.02,76.38 1117.72,76.32 1118.42,76.12 1119.11,76.02 1119.81,76.22 1120.51,76.38 1121.21,76.11 1121.91,76.06 1122.6,76.27 1123.3,76.2 1124,75.96 1124.7,76.04 1125.4,76.06 1126.09,76.21 1126.79,76.41 1127.49,76.25 1128.19,76.37 1128.89,76.15 1129.58,75.81 1130.28,76.03 1130.98,76.35 1131.68,76.39 1132.38,76.02 1133.07,76.04 1133.77,76.15 1134.47,75.93 1135.17,75.92 1135.87,75.99 1136.56,75.92 1137.26,76.24 1137.96,76.27 1138.66,76 1139.36,76.01 1140.05,76.07 1140.75,76.09 1141.45,76.22 1142.15,76.37 1142.85,76.33 1143.54,76.34 1144.24,76.43 1144.94,76.3 1145.64,76.21 1146.34,76.1 1147.03,75.82 1147.73,75.85 1148.43,76.22 1149.13,76.45 1149.83,76.16 1150.52,76.08 1151.22,76.16 1151.92,76.16 1152.62,75.96 1153.32,75.96 1154.01,76.28 1154.71,76.08 1155.41,75.79 1156.11,75.97 1156.81,76.12 1157.5,76.07 1158.2,75.97 1158.9,76.13 1159.6,76.24 1160.3,76.18 1160.99,76.36 1161.69,76.17 1162.39,75.99 1163.09,76.18 1163.79,76.36 1164.48,76.25 1165.18,76.26 1165.88,76.28 1166.58,76.09 1167.28,76.19 1167.97,76.13 1168.67,76 1169.37,76.04 1170.07,76.14 1170.77,76.25 1171.46,76.32 1172.16,76.1 1172.86,75.99 1173.56,76.04 1174.26,76.15 1174.95,76.19 1175.65,76.12 1176.35,76.21 1177.05,76.18 1177.75,76.13 1178.44,75.96 1179.14,75.98 1179.84,76.04 1180.54,76.13 1181.24,76.16 1181.93,75.99 1182.63,75.94 1183.33,76.01 1184.03,75.99 1184.73,76.22 1185.42,76.21 1186.12,75.88 1186.82,76.09 1187.52,76.15 1188.22,76.26 1188.91,76.41 1189.61,76.11 1190.31,76.24 1191.01,76.4 1191.71,76.12 1192.4,76.07 1193.1,76.11 1193.8,76.15 1194.5,76.34 1195.2,76.17 1195.89,75.99 1196.59,76 1197.29,76.08 1197.99,76.43 1198.69,76.41 1199.38,76.26 1200.08,76.26 1200.78,76.21 1201.48,76.07 1202.18,76.29 1202.87,76.32 1203.57,76.16 1204.27,76.13 1204.97,76.03 1205.67,76 1206.36,75.88 1207.06,76.12 1207.76,76.39 1208.46,76.26 1209.16,76.18 1209.85,76.09 1210.55,76.04 1211.25,76.3 1211.95,76.32 1212.65,76.24 1213.34,76.38 1214.04,76.54 1214.74,76.61 1215.44,76.4 1216.14,76.32 1216.83,76.14 1217.53,76.2 1218.23,76.31 1218.93,76.31 1219.63,76.42 1220.32,76.42 1221.02,76.2 1221.72,75.95 1222.42,76.2 1223.12,76.43 1223.81,76.4 1224.51,76.34 1225.21,76.29 1225.91,76.34 1226.61,76.25 1227.3,76.26 1228,76.15 1228.7,76.03 1229.4,75.93 1230.1,75.75 1230.79,75.95 1231.49,76.12 1232.19,76.3 1232.89,76.14 1233.59,75.91 1234.28,76.05 1234.98,76.3 1235.68,76.32 1236.38,76.35 1237.08,76.45 1237.77,76.1 1238.47,76.23 1239.17,76.32 1239.87,76.2 1240.57,76.31 1241.26,76.1 1241.96,76.21 1242.66,76.47 1243.36,76.15 1244.06,75.84 1244.75,75.89 1245.45,76.18 1246.15,76.28 1246.85,76.04 1247.55,76.04 1248.24,76.16 1248.94,76.29 1249.64,76.25 1250.34,76 1251.04,75.96 1251.73,75.95 1252.43,76.09 1253.13,76.46 1253.83,76.43 1254.53,76.33 1255.22,76.42 1255.92,76.52 1256.62,76.44 1257.32,76.12 1258.02,76.16 1258.71,76.53 1259.41,76.41 1260.11,76.09 1260.81,75.97 1261.51,75.98 1262.2,76.19 1262.9,76.08 1263.6,76.1 1264.3,76.25 1265,76.11 1265.69,76.2 1266.39,76.21 1267.09,76.03 1267.79,75.88 1268.49,76.15 1269.18,76.5 1269.88,76.11 1270.58,75.87 1271.28,76.21 1271.98,76.42 1272.67,76.17 1273.37,76.32 1274.07,76.58 1274.77,76.28 1275.47,76.05 1276.16,76.23 1276.86,76.55 1277.56,76.48 1278.26,76.24 1278.96,76.23 1279.65,76.14 1280.35,76.19 1281.05,76.44 1281.75,76.03 1282.45,75.95 1283.14,76.46 1283.84,76.39 1284.54,76.24 1285.24,75.95 1285.94,75.94 1286.63,76.28 1287.33,76.18 1288.03,76.29 1288.73,76.21 1289.43,76 1290.12,76.1 1290.82,76.13 1291.52,76.54 1292.22,76.55 1292.92,76.25 1293.61,76.22 1294.31,76.02 1295.01,76.03 1295.71,76.12 1296.41,76.04 1297.1,75.88 1297.8,75.81 1298.5,76.26 1299.2,76.39 1299.9,76.27 1300.59,76.37 1301.29,76.38 1301.99,76.51 1302.69,76.3 1303.39,76.21 1304.08,76.31 1304.78,76.23 1305.48,76.16 1306.18,76.19 1306.88,76.13 1307.57,75.75 1308.27,75.75 1308.97,76.01 1309.67,76.07 1310.37,76.13 1311.06,76.15 1311.76,76.43 1312.46,76.24 1313.16,75.87 1313.86,75.92 1314.55,75.98 1315.25,76 1315.95,76.09 1316.65,76.37 1317.35,76.47 1318.04,76.38 1318.74,76.08 1319.44,75.8 1320.14,75.79 1320.84,76.04 1321.53,76.1 1322.23,76.08 1322.93,76.25 1323.63,76.09 1324.33,75.91 1325.02,76.04 1325.72,76.4 1326.42,76.5 1327.12,76.13 1327.82,75.86 1328.51,75.95 1329.21,76.11 1329.91,76.47 1330.61,76.51 1331.31,76.17 1332,75.95 1332.7,76.09 1333.4,76.25" fill="none" stroke="#37AC6B" stroke-width="2.8" stroke-linejoin="round" stroke-linecap="butt"/>
<polyline points="844.8,70.89 845.5,68.83 846.2,73.87 846.89,75.26 847.59,75.34 848.29,74.06 848.99,73.02 849.69,72.98 850.38,71.65 851.08,73.85 851.78,74.32 852.48,72.94 853.18,73.71 853.87,73.13 854.57,71.71 855.27,72.36 855.97,72.77 856.67,72.17 857.36,73.24 858.06,72.91 858.76,72.24 859.46,72.87 860.16,73.38 860.85,73.17 861.55,73.11 862.25,72.57 862.95,71.55 863.65,71.76 864.34,72.4 865.04,71.98 865.74,72.07 866.44,72.38 867.14,72.59 867.83,73.15 868.53,72.16 869.23,72.62 869.93,73.71 870.63,72.59 871.32,71.72 872.02,72.7 872.72,72.82 873.42,72.32 874.12,72.28 874.81,72.7 875.51,72.94 876.21,72.48 876.91,72.32 877.61,71.75 878.3,71.57 879,71.27 879.7,71.97 880.4,71.95 881.1,70.95 881.79,70.98 882.49,71.6 883.19,71.22 883.89,70.94 884.59,72.08 885.28,72.04 885.98,71.16 886.68,71.43 887.38,71.78 888.08,70.87 888.77,70.54 889.47,71.01 890.17,71.38 890.87,70.91 891.57,70.14 892.26,70.77 892.96,71.23 893.66,71.07 894.36,70.83 895.06,70.69 895.75,70.93 896.45,70.93 897.15,70.8 897.85,70.37 898.55,70.37 899.24,70.66 899.94,70.43 900.64,69.99 901.34,69.86 902.04,70.4 902.73,70.57 903.43,70.19 904.13,70.36 904.83,70.37 905.53,70.25 906.22,70.37 906.92,70.4 907.62,70.44 908.32,70.33 909.02,70.72 909.71,71.02 910.41,70.62 911.11,70.34 911.81,70.84 912.51,71.33 913.2,71.22 913.9,71.41 914.6,71.51 915.3,71.58 916,72.14 916.69,72.7 917.39,72.85 918.09,73.44 918.79,74.19 919.49,74.68 920.18,75.14 920.88,75.59 921.58,76.24 922.28,76.69 922.98,77.62 923.67,78.93 924.37,80.5 925.07,82.61 925.77,83.97 926.47,85.08 927.16,86.84 927.86,88.55 928.56,89.71 929.26,90.88 929.96,92.17 930.65,93.52 931.35,94.79 932.05,96.04 932.75,97.62 933.45,98.7 934.14,99.76 934.84,101.09 935.54,102.11 936.24,103.09 936.94,103.91 937.63,104.16 938.33,104.39 939.03,104.7 939.73,104.01 940.43,102.06 941.12,99.23 941.82,95.92 942.52,92.61 943.22,88.14 943.92,82.26 944.61,77.36 945.31,75.98 946.01,75 946.71,73.91 947.41,73.53 948.1,72.96 948.8,72.24 949.5,71.77 950.2,71.65 950.9,71.45 951.59,71.04 952.29,70.97 952.99,71.08 953.69,71.11 954.39,71.37 955.08,71.52 955.78,71.35 956.48,71.55 957.18,71.94 957.88,72.28 958.57,72.63 959.27,72.86 959.97,73.18 960.67,73.59 961.37,73.77 962.06,73.68 962.76,73.96 963.46,74.61 964.16,74.88 964.86,75.01 965.55,75.39 966.25,75.59 966.95,75.66 967.65,75.59 968.35,75.72 969.04,76.03 969.74,76.28 970.44,76.44 971.14,76.27 971.84,76.37 972.53,76.48 973.23,76.42 973.93,76.42 974.63,76.41 975.33,76.35 976.02,75.99 976.72,75.8 977.42,75.9 978.12,75.91 978.82,76.04 979.51,76.21 980.21,76.14 980.91,76.12 981.61,76.14 982.31,76.02 983,75.99 983.7,75.96 984.4,75.97 985.1,76.17 985.8,76.32 986.49,76.48 987.19,76.34 987.89,75.93 988.59,76.06 989.29,76.36 989.98,76.61 990.68,76.58 991.38,76.41 992.08,76.24 992.78,76.2 993.47,76.32 994.17,76.44 994.87,76.34 995.57,76.32 996.27,76.58 996.96,76.15 997.66,75.62 998.36,75.85 999.06,76.05 999.76,75.93 1000.45,75.76 1001.15,75.91 1001.85,76.29 1002.55,76.31 1003.25,76.26 1003.94,76.36 1004.64,76.33 1005.34,76.22 1006.04,76.06 1006.74,76.16 1007.43,76.41 1008.13,76.22 1008.83,76.21 1009.53,76.27 1010.23,76.25 1010.92,76.4 1011.62,76.39 1012.32,76.26 1013.02,76.3 1013.72,76.35 1014.41,76.37 1015.11,76.22 1015.81,76.19 1016.51,76.4 1017.21,76.24 1017.9,76.16 1018.6,76.31 1019.3,76.24 1020,76.49 1020.7,76.61 1021.39,76.25 1022.09,76.3 1022.79,76.34 1023.49,76.09 1024.19,76.29 1024.88,76.45 1025.58,76.24 1026.28,76.39 1026.98,76.42 1027.68,76.12 1028.37,76.22 1029.07,76.39 1029.77,76.3 1030.47,76.3 1031.17,76.26 1031.86,76.33 1032.56,76.15 1033.26,75.82 1033.96,76.15 1034.66,76.3 1035.35,76 1036.05,75.91 1036.75,76 1037.45,76.18 1038.15,76.33 1038.84,76.28 1039.54,76.3 1040.24,76.32 1040.94,76.33 1041.64,76.35 1042.33,76.21 1043.03,76.37 1043.73,76.51 1044.43,76.11 1045.13,75.63 1045.82,75.94 1046.52,76.12 1047.22,76.14 1047.92,76.44 1048.62,76.3 1049.31,76.28 1050.01,76.37 1050.71,76.15 1051.41,76.04 1052.11,76.16 1052.8,75.85 1053.5,75.77 1054.2,76.08 1054.9,76.17 1055.6,76.21 1056.29,75.95 1056.99,76.07 1057.69,76.25 1058.39,76.15 1059.09,76.32 1059.78,76.36 1060.48,76.08 1061.18,75.96 1061.88,75.71 1062.58,75.78 1063.27,76.06 1063.97,75.96 1064.67,76.19 1065.37,76.15 1066.07,75.99 1066.76,76.13 1067.46,76.37 1068.16,76.51 1068.86,76.18 1069.56,75.91 1070.25,76.18 1070.95,76.3 1071.65,76.26 1072.35,76.22 1073.05,76.29 1073.74,76.45 1074.44,76.37 1075.14,76.35 1075.84,76.06 1076.54,76 1077.23,76 1077.93,76.13 1078.63,76.39 1079.33,76.16 1080.03,76.01 1080.72,75.98 1081.42,76.05 1082.12,76.15 1082.82,75.96 1083.52,76 1084.21,76.1 1084.91,76.06 1085.61,76.24 1086.31,76.27 1087.01,76.13 1087.7,76.13 1088.4,76.56 1089.1,76.71 1089.8,76.51 1090.5,76.47 1091.19,76.48 1091.89,76.5 1092.59,76.16 1093.29,75.9 1093.99,75.95 1094.68,76.18 1095.38,76.36 1096.08,76.25 1096.78,76.07 1097.48,75.97 1098.17,76.11 1098.87,76.08 1099.57,76.1 1100.27,76.22 1100.97,76.14 1101.66,76.31 1102.36,76.47 1103.06,76.34 1103.76,75.92 1104.46,75.75 1105.15,75.97 1105.85,75.98 1106.55,76.04 1107.25,76 1107.95,76.1 1108.64,76.36 1109.34,76.51 1110.04,76.61 1110.74,76.25 1111.44,76.02 1112.13,76 1112.83,76.19 1113.53,76.04 1114.23,75.82 1114.93,76.1 1115.62,76.35 1116.32,76.54 1117.02,76.3 1117.72,75.85 1118.42,75.81 1119.11,75.8 1119.81,75.99 1120.51,76.25 1121.21,76.02 1121.91,75.99 1122.6,76.15 1123.3,76.03 1124,76.01 1124.7,76.19 1125.4,76.33 1126.09,76.45 1126.79,76.26 1127.49,76.02 1128.19,76.14 1128.89,76.34 1129.58,76.14 1130.28,76.07 1130.98,76.34 1131.68,76.5 1132.38,76.51 1133.07,76.23 1133.77,76.1 1134.47,76.34 1135.17,76.39 1135.87,76.09 1136.56,76.02 1137.26,76.21 1137.96,76.1 1138.66,76.16 1139.36,76.26 1140.05,76.11 1140.75,76.28 1141.45,76.45 1142.15,76.25 1142.85,76.11 1143.54,76.29 1144.24,76.35 1144.94,76.22 1145.64,76.14 1146.34,76.06 1147.03,75.82 1147.73,75.95 1148.43,76.29 1149.13,76.56 1149.83,76.62 1150.52,76.27 1151.22,76.26 1151.92,76.53 1152.62,76.39 1153.32,76.32 1154.01,76.28 1154.71,76.23 1155.41,76.13 1156.11,76.08 1156.81,76.39 1157.5,76.3 1158.2,76.07 1158.9,76.13 1159.6,76.28 1160.3,76.27 1160.99,76.1 1161.69,76.11 1162.39,76.27 1163.09,76.15 1163.79,75.93 1164.48,75.92 1165.18,76.01 1165.88,76.13 1166.58,76.32 1167.28,76.25 1167.97,75.96 1168.67,76.09 1169.37,76.12 1170.07,75.97 1170.77,76.23 1171.46,76.57 1172.16,76.5 1172.86,76.14 1173.56,76.17 1174.26,76.34 1174.95,76.21 1175.65,75.71 1176.35,76 1177.05,76.26 1177.75,76.03 1178.44,76.07 1179.14,76.15 1179.84,76.12 1180.54,76.25 1181.24,76.69 1181.93,76.42 1182.63,75.93 1183.33,76 1184.03,76.22 1184.73,76.19 1185.42,76.24 1186.12,76.23 1186.82,75.94 1187.52,76.01 1188.22,75.99 1188.91,76.03 1189.61,76.23 1190.31,75.95 1191.01,75.87 1191.71,76.02 1192.4,76.05 1193.1,76.06 1193.8,76 1194.5,75.99 1195.2,76.23 1195.89,76.34 1196.59,76.38 1197.29,76.3 1197.99,76.04 1198.69,76.34 1199.38,76.55 1200.08,76 1200.78,75.85 1201.48,76.25 1202.18,76.35 1202.87,76.1 1203.57,76.37 1204.27,76.52 1204.97,76.09 1205.67,76.22 1206.36,76.48 1207.06,76.21 1207.76,75.96 1208.46,76.32 1209.16,76.59 1209.85,76.22 1210.55,75.95 1211.25,76.15 1211.95,76.38 1212.65,76.14 1213.34,76.33 1214.04,76.55 1214.74,76.29 1215.44,76.24 1216.14,76.39 1216.83,76.38 1217.53,76.01 1218.23,76.16 1218.93,76.31 1219.63,76.4 1220.32,76.54 1221.02,76.24 1221.72,76.23 1222.42,76.18 1223.12,76.1 1223.81,76.09 1224.51,76.06 1225.21,76.09 1225.91,76.27 1226.61,76.41 1227.3,76.01 1228,76.02 1228.7,76.21 1229.4,76.05 1230.1,75.95 1230.79,76.21 1231.49,76.37 1232.19,76.35 1232.89,76.5 1233.59,76.46 1234.28,76.37 1234.98,76.03 1235.68,75.91 1236.38,76.18 1237.08,76.1 1237.77,76.23 1238.47,76.45 1239.17,76.33 1239.87,76.22 1240.57,76.05 1241.26,76.09 1241.96,76.43 1242.66,76.27 1243.36,76.13 1244.06,76.18 1244.75,76.11 1245.45,76.08 1246.15,76.17 1246.85,76.24 1247.55,76.25 1248.24,76.28 1248.94,76.14 1249.64,76.06 1250.34,76.33 1251.04,76.48 1251.73,76.41 1252.43,76.37 1253.13,76.19 1253.83,76.08 1254.53,76.27 1255.22,76.35 1255.92,76.35 1256.62,76.41 1257.32,76.43 1258.02,76.27 1258.71,76.08 1259.41,76.21 1260.11,76.24 1260.81,76.12 1261.51,76.2 1262.2,76.18 1262.9,76.06 1263.6,76.3 1264.3,76.31 1265,76.26 1265.69,76.3 1266.39,76.14 1267.09,76.37 1267.79,76.55 1268.49,76.43 1269.18,76.51 1269.88,76.2 1270.58,75.95 1271.28,76.06 1271.98,75.94 1272.67,76.15 1273.37,76.36 1274.07,76.33 1274.77,76.35 1275.47,76.29 1276.16,76.22 1276.86,75.92 1277.56,75.81 1278.26,76.1 1278.96,76.38 1279.65,76.19 1280.35,76.15 1281.05,76.1 1281.75,76.25 1282.45,76.53 1283.14,76.47 1283.84,76.42 1284.54,76.22 1285.24,76.2 1285.94,76.16 1286.63,76.2 1287.33,76.34 1288.03,76.47 1288.73,76.49 1289.43,76.1 1290.12,76.17 1290.82,76.33 1291.52,75.92 1292.22,76.26 1292.92,76.65 1293.61,75.97 1294.31,75.82 1295.01,76.11 1295.71,75.98 1296.41,76.14 1297.1,76.02 1297.8,75.86 1298.5,76.1 1299.2,76.19 1299.9,76.11 1300.59,75.91 1301.29,75.81 1301.99,76 1302.69,76.35 1303.39,76.53 1304.08,76.46 1304.78,76.25 1305.48,76.23 1306.18,76.18 1306.88,76.24 1307.57,76.27 1308.27,76.2 1308.97,76.3 1309.67,76.52 1310.37,76.63 1311.06,76.17 1311.76,75.93 1312.46,76.33 1313.16,76.3 1313.86,75.83 1314.55,75.71 1315.25,75.93 1315.95,76.1 1316.65,76.22 1317.35,76.44 1318.04,76.15 1318.74,75.99 1319.44,76.31 1320.14,76.3 1320.84,76.44 1321.53,76.45 1322.23,76.11 1322.93,76 1323.63,76.23 1324.33,76.26 1325.02,75.85 1325.72,75.9 1326.42,76.12 1327.12,76.07 1327.82,76.28 1328.51,76.52 1329.21,76.44 1329.91,76.27 1330.61,76.25 1331.31,76.31 1332,76.16 1332.7,75.96 1333.4,76.27" fill="none" stroke="#B07CE0" stroke-width="2.8" stroke-linejoin="round" stroke-linecap="butt"/>
<polyline points="844.8,75.74 845.5,76.48 846.2,76.59 846.89,75.22 847.59,74.9 848.29,74.02 848.99,72.47 849.69,72.2 850.38,72.48 851.08,74.48 851.78,75.34 852.48,75.47 853.18,75.77 853.87,74.69 854.57,73.64 855.27,74.65 855.97,75.26 856.67,74.55 857.36,74.89 858.06,73.72 858.76,73.14 859.46,75.01 860.16,75.18 860.85,74.15 861.55,74.32 862.25,74.26 862.95,73.63 863.65,74.39 864.34,74.36 865.04,74.71 865.74,75.27 866.44,75.09 867.14,74.35 867.83,73.32 868.53,72.85 869.23,72.98 869.93,73.66 870.63,73.44 871.32,74.29 872.02,74.69 872.72,74.37 873.42,74.43 874.12,73.73 874.81,72.51 875.51,71.5 876.21,71.27 876.91,71.81 877.61,72.87 878.3,73.38 879,72.68 879.7,72.3 880.4,71.93 881.1,70.49 881.79,69.57 882.49,70.21 883.19,71.15 883.89,70.98 884.59,70.82 885.28,70.96 885.98,70.67 886.68,70.39 887.38,71.21 888.08,71.31 888.77,70.1 889.47,70.32 890.17,71.31 890.87,70.63 891.57,70.18 892.26,70.37 892.96,70.3 893.66,70.37 894.36,69.78 895.06,69.81 895.75,69.99 896.45,69.7 897.15,69.81 897.85,69.89 898.55,70.02 899.24,69.72 899.94,69.54 900.64,69.51 901.34,69.48 902.04,69.63 902.73,69.68 903.43,69.64 904.13,69.38 904.83,68.92 905.53,68.68 906.22,68.95 906.92,69.14 907.62,69.01 908.32,68.7 909.02,68.75 909.71,69.02 910.41,68.83 911.11,69.08 911.81,69.17 912.51,68.64 913.2,68.68 913.9,68.85 914.6,69.07 915.3,69.34 916,69.44 916.69,69.69 917.39,70.1 918.09,70.38 918.79,70.43 919.49,70.39 920.18,70.6 920.88,71.02 921.58,71.45 922.28,71.81 922.98,72.34 923.67,72.95 924.37,73.54 925.07,74.27 925.77,74.74 926.47,75.44 927.16,76.28 927.86,76.96 928.56,78.67 929.26,80.32 929.96,81.36 930.65,83.04 931.35,84.8 932.05,86.62 932.75,88.15 933.45,89.37 934.14,90.79 934.84,92.46 935.54,93.91 936.24,95.35 936.94,96.9 937.63,97.85 938.33,98.45 939.03,98.55 939.73,97.94 940.43,96.24 941.12,93.68 941.82,90.95 942.52,88.25 943.22,84.73 943.92,80.33 944.61,76.95 945.31,75.97 946.01,75.52 946.71,75.3 947.41,75.06 948.1,74.5 948.8,74.2 949.5,74.08 950.2,74.23 950.9,74.46 951.59,74.51 952.29,74.5 952.99,74.46 953.69,74.57 954.39,74.69 955.08,74.86 955.78,75.08 956.48,75.12 957.18,75.26 957.88,75.42 958.57,75.57 959.27,75.73 959.97,75.9 960.67,76.11 961.37,76.24 962.06,76.28 962.76,76.06 963.46,76.1 964.16,76.05 964.86,76.07 965.55,76.28 966.25,76.63 966.95,76.53 967.65,75.92 968.35,75.92 969.04,76.3 969.74,76.32 970.44,76.02 971.14,75.99 971.84,76.04 972.53,76.48 973.23,76.55 973.93,76.16 974.63,76 975.33,76 976.02,76.04 976.72,76.17 977.42,76.2 978.12,76.21 978.82,76.2 979.51,76.24 980.21,76.43 980.91,76.24 981.61,76.12 982.31,76.29 983,76.08 983.7,75.97 984.4,76.13 985.1,75.94 985.8,75.94 986.49,76.35 987.19,76.62 987.89,76.64 988.59,76.54 989.29,76.43 989.98,76.27 990.68,76.16 991.38,76 992.08,76.14 992.78,76.53 993.47,76.25 994.17,75.92 994.87,76.15 995.57,76.27 996.27,76.19 996.96,76.29 997.66,76.17 998.36,76.02 999.06,76.31 999.76,76.43 1000.45,76.2 1001.15,76.14 1001.85,76.1 1002.55,76.31 1003.25,76.28 1003.94,76.17 1004.64,76.48 1005.34,76.51 1006.04,76.44 1006.74,76.15 1007.43,76.1 1008.13,76.37 1008.83,76.18 1009.53,76.37 1010.23,76.45 1010.92,76.17 1011.62,76.35 1012.32,76.43 1013.02,76 1013.72,75.91 1014.41,76.06 1015.11,75.95 1015.81,76.09 1016.51,76.28 1017.21,76.09 1017.9,76.3 1018.6,76.28 1019.3,75.71 1020,75.69 1020.7,76.09 1021.39,76.46 1022.09,76.33 1022.79,76.19 1023.49,76.26 1024.19,76.47 1024.88,76.38 1025.58,76.1 1026.28,76.23 1026.98,76.08 1027.68,76.12 1028.37,76.35 1029.07,76.1 1029.77,75.9 1030.47,76.1 1031.17,76.31 1031.86,76.31 1032.56,76.48 1033.26,76.3 1033.96,76.07 1034.66,76.32 1035.35,76.69 1036.05,76.54 1036.75,76.13 1037.45,76.07 1038.15,75.98 1038.84,75.98 1039.54,76.01 1040.24,76.11 1040.94,76.06 1041.64,76.47 1042.33,76.72 1043.03,76.37 1043.73,76.01 1044.43,76.16 1045.13,76.53 1045.82,76.54 1046.52,76.41 1047.22,76.22 1047.92,76.14 1048.62,75.99 1049.31,76 1050.01,76.34 1050.71,76.42 1051.41,76.14 1052.11,76 1052.8,76.06 1053.5,76.26 1054.2,76.37 1054.9,76.36 1055.6,76.19 1056.29,75.89 1056.99,75.98 1057.69,76.29 1058.39,76.34 1059.09,76.22 1059.78,76.39 1060.48,76.64 1061.18,76.21 1061.88,76.05 1062.58,76 1063.27,76.05 1063.97,76.33 1064.67,76.3 1065.37,76.36 1066.07,76.3 1066.76,76.38 1067.46,76.31 1068.16,76.16 1068.86,76.37 1069.56,76.3 1070.25,76.35 1070.95,76.47 1071.65,76.21 1072.35,76.16 1073.05,76.17 1073.74,76.13 1074.44,75.91 1075.14,75.97 1075.84,76.23 1076.54,76.27 1077.23,76.24 1077.93,76.16 1078.63,75.91 1079.33,75.9 1080.03,76.32 1080.72,76.35 1081.42,76.03 1082.12,76.13 1082.82,76.28 1083.52,76.21 1084.21,76.18 1084.91,76.14 1085.61,76.21 1086.31,76.1 1087.01,76.26 1087.7,76.52 1088.4,76.2 1089.1,76.14 1089.8,76.48 1090.5,76.55 1091.19,76.33 1091.89,76.26 1092.59,76.26 1093.29,76.25 1093.99,76.4 1094.68,76.22 1095.38,76.02 1096.08,75.95 1096.78,75.97 1097.48,76.25 1098.17,76.4 1098.87,76.12 1099.57,75.85 1100.27,75.93 1100.97,76.28 1101.66,76.32 1102.36,76.08 1103.06,75.96 1103.76,76.16 1104.46,76.37 1105.15,76.18 1105.85,76.23 1106.55,76.28 1107.25,75.95 1107.95,75.94 1108.64,75.96 1109.34,76.04 1110.04,76.48 1110.74,76.6 1111.44,76.31 1112.13,76.08 1112.83,76.12 1113.53,76.28 1114.23,76.4 1114.93,76.46 1115.62,76.36 1116.32,75.95 1117.02,76.01 1117.72,76.31 1118.42,76.35 1119.11,76.59 1119.81,76.81 1120.51,76.62 1121.21,76.32 1121.91,76.19 1122.6,75.86 1123.3,75.88 1124,75.81 1124.7,75.96 1125.4,76.45 1126.09,76.4 1126.79,76.21 1127.49,76.04 1128.19,76.08 1128.89,76.24 1129.58,76.09 1130.28,76.1 1130.98,76.11 1131.68,76.02 1132.38,76.07 1133.07,75.92 1133.77,76.04 1134.47,76.24 1135.17,76.19 1135.87,76.33 1136.56,76.42 1137.26,76.22 1137.96,76.03 1138.66,76.01 1139.36,75.98 1140.05,76.07 1140.75,76.36 1141.45,76.42 1142.15,76.73 1142.85,76.27 1143.54,75.98 1144.24,76.37 1144.94,76.03 1145.64,75.95 1146.34,75.96 1147.03,75.89 1147.73,76.15 1148.43,76.61 1149.13,76.37 1149.83,76.12 1150.52,76.38 1151.22,76.48 1151.92,76.34 1152.62,75.97 1153.32,76.28 1154.01,76.57 1154.71,76.1 1155.41,76.01 1156.11,76.29 1156.81,76.22 1157.5,75.98 1158.2,76.24 1158.9,76.2 1159.6,75.98 1160.3,76.11 1160.99,75.95 1161.69,76.13 1162.39,76.5 1163.09,76.29 1163.79,76.23 1164.48,76.63 1165.18,76.47 1165.88,76.03 1166.58,76.03 1167.28,75.98 1167.97,76.18 1168.67,76.16 1169.37,76.04 1170.07,76.19 1170.77,76.11 1171.46,75.97 1172.16,75.95 1172.86,76.07 1173.56,76.08 1174.26,75.97 1174.95,76.08 1175.65,76.13 1176.35,75.93 1177.05,76 1177.75,76.16 1178.44,76.25 1179.14,76.35 1179.84,76.28 1180.54,76.19 1181.24,76.28 1181.93,76.24 1182.63,76.16 1183.33,76.07 1184.03,76 1184.73,76.17 1185.42,76.01 1186.12,76.08 1186.82,76.34 1187.52,76.38 1188.22,76.33 1188.91,76.58 1189.61,76.59 1190.31,76.2 1191.01,76.29 1191.71,76.42 1192.4,76.16 1193.1,76.01 1193.8,76 1194.5,76.03 1195.2,76.1 1195.89,76.36 1196.59,76.68 1197.29,76.4 1197.99,76.11 1198.69,76.13 1199.38,76.19 1200.08,76.09 1200.78,76.09 1201.48,76.39 1202.18,76.23 1202.87,75.9 1203.57,76.11 1204.27,76.2 1204.97,76.14 1205.67,76.3 1206.36,76.36 1207.06,76.24 1207.76,76.14 1208.46,76.17 1209.16,76.25 1209.85,76.22 1210.55,76.15 1211.25,76.15 1211.95,76.23 1212.65,76.2 1213.34,75.9 1214.04,75.9 1214.74,76.15 1215.44,76.1 1216.14,76.2 1216.83,76.07 1217.53,76.01 1218.23,75.98 1218.93,76.04 1219.63,76.36 1220.32,76.25 1221.02,76.01 1221.72,75.96 1222.42,76.05 1223.12,76.18 1223.81,76.48 1224.51,76.57 1225.21,76.17 1225.91,76.17 1226.61,76.29 1227.3,76.36 1228,76.47 1228.7,75.82 1229.4,75.83 1230.1,76.16 1230.79,76.31 1231.49,76.46 1232.19,76.41 1232.89,76.57 1233.59,76.35 1234.28,75.96 1234.98,75.8 1235.68,76.05 1236.38,76.28 1237.08,76.16 1237.77,76.06 1238.47,75.95 1239.17,76.09 1239.87,76.32 1240.57,76.23 1241.26,75.99 1241.96,76.06 1242.66,76.25 1243.36,76.24 1244.06,76.05 1244.75,76.13 1245.45,76.2 1246.15,75.96 1246.85,75.99 1247.55,75.97 1248.24,76.01 1248.94,76.17 1249.64,76.19 1250.34,76.27 1251.04,76.1 1251.73,76.23 1252.43,76.54 1253.13,76.33 1253.83,76.29 1254.53,76.43 1255.22,76.32 1255.92,76.22 1256.62,76.09 1257.32,76.08 1258.02,76.25 1258.71,76.21 1259.41,76.23 1260.11,76.13 1260.81,76.16 1261.51,76.01 1262.2,75.9 1262.9,76.15 1263.6,76.22 1264.3,76.21 1265,76.27 1265.69,76.19 1266.39,76.06 1267.09,76.2 1267.79,76.19 1268.49,76.1 1269.18,76.33 1269.88,76.33 1270.58,76.11 1271.28,76.16 1271.98,76.29 1272.67,76.45 1273.37,76.11 1274.07,75.9 1274.77,76.04 1275.47,75.96 1276.16,76.15 1276.86,76.18 1277.56,76.09 1278.26,76.36 1278.96,76.48 1279.65,76.37 1280.35,76.19 1281.05,76.29 1281.75,76.4 1282.45,75.98 1283.14,75.79 1283.84,75.92 1284.54,75.9 1285.24,76.18 1285.94,76.36 1286.63,76.21 1287.33,76.3 1288.03,76.42 1288.73,76.2 1289.43,76.04 1290.12,75.98 1290.82,76.06 1291.52,76.11 1292.22,75.96 1292.92,76.15 1293.61,76.2 1294.31,76.29 1295.01,76.25 1295.71,76 1296.41,75.98 1297.1,76.36 1297.8,76.53 1298.5,76.19 1299.2,76.18 1299.9,76.23 1300.59,76.12 1301.29,76.19 1301.99,76.35 1302.69,76.25 1303.39,76.07 1304.08,76.01 1304.78,76.13 1305.48,76.34 1306.18,76.46 1306.88,76.44 1307.57,76.18 1308.27,76.02 1308.97,75.98 1309.67,75.98 1310.37,76.13 1311.06,76.12 1311.76,76.06 1312.46,76.09 1313.16,76.22 1313.86,76.21 1314.55,76.31 1315.25,76.33 1315.95,76.05 1316.65,76.11 1317.35,76.12 1318.04,76.15 1318.74,76.28 1319.44,76.3 1320.14,76.28 1320.84,76.29 1321.53,76.11 1322.23,76.27 1322.93,76.39 1323.63,76.14 1324.33,76.07 1325.02,75.97 1325.72,75.95 1326.42,76.1 1327.12,76.07 1327.82,76.15 1328.51,76.37 1329.21,76.25 1329.91,76.21 1330.61,76.22 1331.31,76.24 1332,76.21 1332.7,75.98 1333.4,76.03" fill="none" stroke="#D39D0E" stroke-width="2.8" stroke-linejoin="round" stroke-linecap="butt"/>
<polyline points="844.8,79.13 845.5,81.38 846.2,80.07 846.89,80.01 847.59,78.19 848.29,76.72 848.99,74.67 849.69,73.99 850.38,75.24 851.08,74.75 851.78,76.7 852.48,77.73 853.18,75.18 853.87,75.25 854.57,76.24 855.27,76.61 855.97,76.95 856.67,76.18 857.36,74.76 858.06,74.74 858.76,75.01 859.46,76.19 860.16,77.1 860.85,75.67 861.55,75.52 862.25,75.28 862.95,74.99 863.65,74.42 864.34,74.3 865.04,75.07 865.74,75.01 866.44,74.97 867.14,75.24 867.83,74.82 868.53,73.83 869.23,74.01 869.93,73.91 870.63,74.15 871.32,74.42 872.02,73.77 872.72,74.72 873.42,74.46 874.12,74.08 874.81,74.21 875.51,73.43 876.21,72.95 876.91,73.19 877.61,73.83 878.3,72.95 879,73.11 879.7,73.09 880.4,72.8 881.1,72.75 881.79,73.71 882.49,74.89 883.19,74.04 883.89,73.23 884.59,73.55 885.28,73.8 885.98,73.73 886.68,74.38 887.38,73.77 888.08,72.78 888.77,73.49 889.47,73.05 890.17,72.63 890.87,72.69 891.57,72.42 892.26,72.46 892.96,72.63 893.66,72.9 894.36,72.69 895.06,72.31 895.75,72.18 896.45,71.8 897.15,71.78 897.85,72.03 898.55,71.9 899.24,71.79 899.94,71.83 900.64,71.98 901.34,72.13 902.04,71.74 902.73,71.65 903.43,71.84 904.13,71.54 904.83,71.64 905.53,71.84 906.22,71.69 906.92,71.7 907.62,71.8 908.32,71.67 909.02,71.31 909.71,71.25 910.41,71.52 911.11,71.58 911.81,71.56 912.51,71.62 913.2,71.68 913.9,72.01 914.6,72.07 915.3,72.17 916,72.37 916.69,72.27 917.39,72.47 918.09,72.98 918.79,73.08 919.49,72.98 920.18,73.13 920.88,73.5 921.58,74.03 922.28,74.7 922.98,75.29 923.67,75.67 924.37,76.34 925.07,77.14 925.77,78.53 926.47,79.79 927.16,80.99 927.86,82.94 928.56,84.71 929.26,86.33 929.96,88.02 930.65,89.33 931.35,90.49 932.05,91.98 932.75,93.4 933.45,94.6 934.14,96.03 934.84,97.29 935.54,98.44 936.24,99.25 936.94,99.99 937.63,100.38 938.33,100.7 939.03,101.33 939.73,100.73 940.43,98.48 941.12,95.52 941.82,92.25 942.52,89.25 943.22,85.53 943.92,80.67 944.61,77.13 945.31,76.09 946.01,75.71 946.71,75.43 947.41,75.16 948.1,74.87 948.8,74.9 949.5,74.97 950.2,74.85 950.9,74.93 951.59,74.99 952.29,75.05 952.99,74.92 953.69,75.06 954.39,75 955.08,74.91 955.78,75.29 956.48,75.51 957.18,75.55 957.88,75.67 958.57,75.85 959.27,76.11 959.97,76.26 960.67,76.36 961.37,76.49 962.06,76.53 962.76,76.5 963.46,76.38 964.16,76.25 964.86,76.12 965.55,76.21 966.25,76.47 966.95,76.65 967.65,76.26 968.35,75.98 969.04,76.38 969.74,76.34 970.44,75.94 971.14,75.89 971.84,76.03 972.53,76.22 973.23,76.17 973.93,75.94 974.63,75.92 975.33,76.25 976.02,76.47 976.72,76.28 977.42,76.19 978.12,76.2 978.82,76.05 979.51,76 980.21,76.18 980.91,76.13 981.61,75.91 982.31,76.17 983,76.33 983.7,76.18 984.4,76.4 985.1,76.29 985.8,76.33 986.49,76.3 987.19,75.73 987.89,75.89 988.59,76.09 989.29,76.07 989.98,76.33 990.68,76.55 991.38,76.39 992.08,76.17 992.78,76.43 993.47,76.27 994.17,75.95 994.87,76.06 995.57,75.91 996.27,75.97 996.96,76.26 997.66,76.4 998.36,76.55 999.06,76.1 999.76,75.94 1000.45,76.25 1001.15,76.28 1001.85,76.16 1002.55,76.17 1003.25,76.07 1003.94,75.95 1004.64,76.1 1005.34,76.08 1006.04,75.76 1006.74,75.75 1007.43,76.42 1008.13,76.28 1008.83,76.01 1009.53,76.16 1010.23,76.08 1010.92,75.99 1011.62,75.99 1012.32,76.16 1013.02,75.95 1013.72,75.84 1014.41,76.39 1015.11,76.42 1015.81,76.33 1016.51,76.47 1017.21,76.35 1017.9,76.52 1018.6,76.46 1019.3,76.18 1020,76.19 1020.7,76.2 1021.39,76.3 1022.09,76.36 1022.79,76.45 1023.49,76.42 1024.19,76.32 1024.88,76.54 1025.58,76.49 1026.28,76.15 1026.98,76.18 1027.68,76.18 1028.37,75.85 1029.07,76 1029.77,76.12 1030.47,76.22 1031.17,76.33 1031.86,76.17 1032.56,76.37 1033.26,76.33 1033.96,76.37 1034.66,76.6 1035.35,76.37 1036.05,76.09 1036.75,76.06 1037.45,76.21 1038.15,76.07 1038.84,76.04 1039.54,76.29 1040.24,76.3 1040.94,76.08 1041.64,76.01 1042.33,76.2 1043.03,76.03 1043.73,75.95 1044.43,76.27 1045.13,76.28 1045.82,76.22 1046.52,75.97 1047.22,76.02 1047.92,76.32 1048.62,76.17 1049.31,76.27 1050.01,76.56 1050.71,76.31 1051.41,76.24 1052.11,76.29 1052.8,76.07 1053.5,76.17 1054.2,76.04 1054.9,76.25 1055.6,76.27 1056.29,75.93 1056.99,76.08 1057.69,76.14 1058.39,75.97 1059.09,75.89 1059.78,76.21 1060.48,76.2 1061.18,76.02 1061.88,76.32 1062.58,76.29 1063.27,76.06 1063.97,76.32 1064.67,76.39 1065.37,76.23 1066.07,76.35 1066.76,76.56 1067.46,76.25 1068.16,75.94 1068.86,76.28 1069.56,76.52 1070.25,76.27 1070.95,76.15 1071.65,76.28 1072.35,76.28 1073.05,76.25 1073.74,76.11 1074.44,75.85 1075.14,76.06 1075.84,76.44 1076.54,76.25 1077.23,75.9 1077.93,75.85 1078.63,75.97 1079.33,75.88 1080.03,76 1080.72,76.32 1081.42,76.1 1082.12,76.03 1082.82,76.1 1083.52,76.03 1084.21,76.18 1084.91,76.08 1085.61,75.85 1086.31,75.8 1087.01,76.08 1087.7,76.19 1088.4,76.09 1089.1,76.32 1089.8,76.46 1090.5,76.15 1091.19,75.82 1091.89,76.1 1092.59,76.31 1093.29,76.24 1093.99,76.36 1094.68,76.12 1095.38,76.06 1096.08,76.35 1096.78,76.36 1097.48,76.42 1098.17,76.22 1098.87,76.31 1099.57,76.56 1100.27,76.49 1100.97,76.37 1101.66,76.1 1102.36,76.11 1103.06,76.11 1103.76,76.12 1104.46,76.31 1105.15,76.34 1105.85,76.33 1106.55,76.15 1107.25,75.9 1107.95,76.07 1108.64,76.36 1109.34,76.29 1110.04,76.2 1110.74,76.07 1111.44,75.81 1112.13,75.89 1112.83,76.18 1113.53,76.41 1114.23,76.28 1114.93,76.08 1115.62,76.2 1116.32,76.12 1117.02,75.94 1117.72,76.38 1118.42,76.41 1119.11,76 1119.81,75.97 1120.51,76.1 1121.21,76.06 1121.91,76.05 1122.6,76.36 1123.3,76.42 1124,76.21 1124.7,76.01 1125.4,76.2 1126.09,76.25 1126.79,76.47 1127.49,76.28 1128.19,75.99 1128.89,76.38 1129.58,76.11 1130.28,75.96 1130.98,76.21 1131.68,76.05 1132.38,75.96 1133.07,76.08 1133.77,76.14 1134.47,76.39 1135.17,76.48 1135.87,76.06 1136.56,76.01 1137.26,76.49 1137.96,76.73 1138.66,76.48 1139.36,76.34 1140.05,76.28 1140.75,76.31 1141.45,76.12 1142.15,76.12 1142.85,76.17 1143.54,75.83 1144.24,75.97 1144.94,76.19 1145.64,76.48 1146.34,76.48 1147.03,76.28 1147.73,76.35 1148.43,76.4 1149.13,76.42 1149.83,76.36 1150.52,76.22 1151.22,76.22 1151.92,76.09 1152.62,75.82 1153.32,76.02 1154.01,76.19 1154.71,76.04 1155.41,76.02 1156.11,76.09 1156.81,76.22 1157.5,76.28 1158.2,76.18 1158.9,76.29 1159.6,76.39 1160.3,76.47 1160.99,76.15 1161.69,75.88 1162.39,75.95 1163.09,76.12 1163.79,76.3 1164.48,76.17 1165.18,76.19 1165.88,76.15 1166.58,76.05 1167.28,76.06 1167.97,76.13 1168.67,76.33 1169.37,76.34 1170.07,76.18 1170.77,76.21 1171.46,76.07 1172.16,76.15 1172.86,76.27 1173.56,76.17 1174.26,76.21 1174.95,76.16 1175.65,76.46 1176.35,76.53 1177.05,76.32 1177.75,76.23 1178.44,76.01 1179.14,76.08 1179.84,76.18 1180.54,76.09 1181.24,76.17 1181.93,76.18 1182.63,76.16 1183.33,76.04 1184.03,76 1184.73,76.12 1185.42,76 1186.12,76.13 1186.82,76.17 1187.52,76.19 1188.22,76.32 1188.91,75.98 1189.61,75.95 1190.31,76.07 1191.01,76.1 1191.71,76.46 1192.4,76.28 1193.1,75.75 1193.8,75.85 1194.5,76 1195.2,76.02 1195.89,76.27 1196.59,76.43 1197.29,76.02 1197.99,75.97 1198.69,76.65 1199.38,76.38 1200.08,76.15 1200.78,76.21 1201.48,75.95 1202.18,76.04 1202.87,76.21 1203.57,76.23 1204.27,76.16 1204.97,76.23 1205.67,76.35 1206.36,76.39 1207.06,76.29 1207.76,76.58 1208.46,76.4 1209.16,76.01 1209.85,76.4 1210.55,76.27 1211.25,75.89 1211.95,75.96 1212.65,76.16 1213.34,76.25 1214.04,76.1 1214.74,76.08 1215.44,76.2 1216.14,75.9 1216.83,75.61 1217.53,75.94 1218.23,76.23 1218.93,76.34 1219.63,76.24 1220.32,76.1 1221.02,76.06 1221.72,76.05 1222.42,76.03 1223.12,76.16 1223.81,76.34 1224.51,76.1 1225.21,76.02 1225.91,76.22 1226.61,76.3 1227.3,76.49 1228,76.34 1228.7,76.06 1229.4,76.05 1230.1,76.02 1230.79,76.1 1231.49,76.09 1232.19,76.14 1232.89,76.31 1233.59,76.09 1234.28,75.93 1234.98,75.98 1235.68,76.1 1236.38,76.37 1237.08,76.16 1237.77,75.99 1238.47,76.06 1239.17,76.36 1239.87,76.56 1240.57,76.25 1241.26,76.1 1241.96,76.23 1242.66,76.32 1243.36,76.4 1244.06,76.44 1244.75,76.23 1245.45,76.2 1246.15,76.34 1246.85,76.06 1247.55,75.95 1248.24,76.28 1248.94,75.98 1249.64,75.88 1250.34,76.27 1251.04,76.13 1251.73,76.15 1252.43,76.31 1253.13,76.16 1253.83,76.26 1254.53,76.36 1255.22,76.27 1255.92,76.25 1256.62,76.25 1257.32,76.17 1258.02,76.14 1258.71,76.11 1259.41,76.11 1260.11,76.15 1260.81,76 1261.51,76.19 1262.2,76.23 1262.9,76.38 1263.6,76.34 1264.3,76.13 1265,76.15 1265.69,75.78 1266.39,75.88 1267.09,76.32 1267.79,76.31 1268.49,76.52 1269.18,76.73 1269.88,76.39 1270.58,76.2 1271.28,75.91 1271.98,75.77 1272.67,76.01 1273.37,76.25 1274.07,76.38 1274.77,76.35 1275.47,76.17 1276.16,76.35 1276.86,76.52 1277.56,76.34 1278.26,76.23 1278.96,76.19 1279.65,76.16 1280.35,76.06 1281.05,76.19 1281.75,76.34 1282.45,76.33 1283.14,76.13 1283.84,76.35 1284.54,76.24 1285.24,75.9 1285.94,76.15 1286.63,76.1 1287.33,76.17 1288.03,76.11 1288.73,76.3 1289.43,76.51 1290.12,76.44 1290.82,76.15 1291.52,76.11 1292.22,76.19 1292.92,75.96 1293.61,76.18 1294.31,76.42 1295.01,76.02 1295.71,75.66 1296.41,75.94 1297.1,76.03 1297.8,75.9 1298.5,76.25 1299.2,76.37 1299.9,76.08 1300.59,76.13 1301.29,76.25 1301.99,76.11 1302.69,75.94 1303.39,75.91 1304.08,76.08 1304.78,76.36 1305.48,76.34 1306.18,76.27 1306.88,76.42 1307.57,76.31 1308.27,76.33 1308.97,76.27 1309.67,75.89 1310.37,76.07 1311.06,76.14 1311.76,75.86 1312.46,75.94 1313.16,76.27 1313.86,76.5 1314.55,76.46 1315.25,76.18 1315.95,76.08 1316.65,76.11 1317.35,75.99 1318.04,76.07 1318.74,76.24 1319.44,76.26 1320.14,76.29 1320.84,76.39 1321.53,76.38 1322.23,76.36 1322.93,76.05 1323.63,75.68 1324.33,76 1325.02,75.89 1325.72,75.68 1326.42,75.89 1327.12,75.87 1327.82,75.91 1328.51,76.14 1329.21,76.4 1329.91,76.37 1330.61,76.1 1331.31,76.16 1332,76.39 1332.7,76.35 1333.4,75.82" fill="none" stroke="#7B5050" stroke-width="2.8" stroke-linejoin="round" stroke-linecap="butt"/>
<polyline points="844.8,76.2 845.5,78.06 846.2,82.14 846.89,79.7 847.59,77.9 848.29,75.83 848.99,74.03 849.69,77.42 850.38,76.73 851.08,73.29 851.78,73.81 852.48,75.13 853.18,74.31 853.87,74.93 854.57,75.13 855.27,75.23 855.97,75.98 856.67,76.55 857.36,76.1 858.06,74.75 858.76,74.68 859.46,75.11 860.16,75.67 860.85,76.25 861.55,77.61 862.25,77.59 862.95,75.98 863.65,74.58 864.34,75.21 865.04,75.97 865.74,75.22 866.44,74.52 867.14,74.92 867.83,75.03 868.53,75.29 869.23,75.36 869.93,74.79 870.63,74.61 871.32,73.95 872.02,72.77 872.72,73.63 873.42,74.89 874.12,74.6 874.81,74.41 875.51,74.68 876.21,74.9 876.91,74.95 877.61,74.68 878.3,73.95 879,74.03 879.7,72.91 880.4,73.07 881.1,74.36 881.79,74.53 882.49,75.08 883.19,75.54 883.89,74.2 884.59,73.38 885.28,73.62 885.98,74.16 886.68,74.82 887.38,73.84 888.08,73.29 888.77,73.59 889.47,74.59 890.17,75.04 890.87,74.66 891.57,74.78 892.26,74.47 892.96,73.87 893.66,73.97 894.36,74.48 895.06,74.72 895.75,74.13 896.45,73.67 897.15,74.03 897.85,74.45 898.55,74.1 899.24,73.9 899.94,73.96 900.64,74.03 901.34,74.23 902.04,73.84 902.73,73.33 903.43,73.3 904.13,73.67 904.83,74 905.53,73.91 906.22,73.72 906.92,73.54 907.62,73.36 908.32,73.48 909.02,73.65 909.71,73.58 910.41,73.7 911.11,74 911.81,73.88 912.51,73.27 913.2,73.02 913.9,73.49 914.6,73.72 915.3,73.55 916,73.57 916.69,73.97 917.39,73.96 918.09,73.86 918.79,73.88 919.49,74.01 920.18,73.94 920.88,74 921.58,74.16 922.28,73.85 922.98,73.59 923.67,73.75 924.37,74.14 925.07,74.54 925.77,74.49 926.47,74.46 927.16,74.83 927.86,74.93 928.56,74.99 929.26,75.1 929.96,75.32 930.65,75.57 931.35,75.81 932.05,76.08 932.75,77.08 933.45,79.1 934.14,81.8 934.84,84.49 935.54,86.7 936.24,88.94 936.94,91.49 937.63,93.52 938.33,94.61 939.03,95.63 939.73,95.45 940.43,93.62 941.12,91.39 941.82,88.7 942.52,86.28 943.22,83.09 943.92,79.28 944.61,76.63 945.31,75.91 946.01,76.08 946.71,76.07 947.41,75.43 948.1,75.26 948.8,75.45 949.5,75.5 950.2,75.48 950.9,75.37 951.59,75.5 952.29,75.66 952.99,75.68 953.69,75.68 954.39,75.36 955.08,75.51 955.78,75.71 956.48,75.81 957.18,75.88 957.88,75.98 958.57,75.98 959.27,75.96 959.97,76.3 960.67,76.43 961.37,76.44 962.06,76.42 962.76,76.48 963.46,76.28 964.16,76.2 964.86,76.35 965.55,76.33 966.25,76.15 966.95,76 967.65,75.99 968.35,76.2 969.04,76.3 969.74,76.21 970.44,75.92 971.14,75.96 971.84,75.94 972.53,75.75 973.23,75.95 973.93,76.28 974.63,76.35 975.33,76.09 976.02,76.22 976.72,76.42 977.42,76.14 978.12,75.97 978.82,76.22 979.51,76.24 980.21,76.48 980.91,76.54 981.61,76.08 982.31,76 983,76.26 983.7,76.09 984.4,76.21 985.1,76.43 985.8,76.15 986.49,76.22 987.19,76.1 987.89,76.14 988.59,76.6 989.29,76.68 989.98,76.06 990.68,75.87 991.38,76.02 992.08,76.3 992.78,76.28 993.47,76.12 994.17,76.52 994.87,76.22 995.57,75.96 996.27,76.06 996.96,76.23 997.66,76.28 998.36,76.14 999.06,76.12 999.76,76.33 1000.45,76.38 1001.15,76.12 1001.85,76.12 1002.55,76.07 1003.25,76.31 1003.94,76.34 1004.64,76.1 1005.34,76.15 1006.04,76.18 1006.74,76.12 1007.43,76.16 1008.13,76.18 1008.83,76.1 1009.53,76.11 1010.23,76.12 1010.92,76.29 1011.62,76.37 1012.32,76.26 1013.02,76.23 1013.72,76.37 1014.41,76.44 1015.11,76.47 1015.81,76.52 1016.51,76.62 1017.21,76.49 1017.9,76.36 1018.6,76.54 1019.3,76.46 1020,76.22 1020.7,76.15 1021.39,76.1 1022.09,75.96 1022.79,75.97 1023.49,76.37 1024.19,76.38 1024.88,76.21 1025.58,76.24 1026.28,76.3 1026.98,76.29 1027.68,76.21 1028.37,76.05 1029.07,76.03 1029.77,76.14 1030.47,76.3 1031.17,76.46 1031.86,76.37 1032.56,76.02 1033.26,75.89 1033.96,76.08 1034.66,76.19 1035.35,76.36 1036.05,76.34 1036.75,76.2 1037.45,75.9 1038.15,76.02 1038.84,76.33 1039.54,76.35 1040.24,76.04 1040.94,75.92 1041.64,75.9 1042.33,75.92 1043.03,76.2 1043.73,76.36 1044.43,76.11 1045.13,76.03 1045.82,76.32 1046.52,76.38 1047.22,76.36 1047.92,76.49 1048.62,76.55 1049.31,76.2 1050.01,76.15 1050.71,76.36 1051.41,76.36 1052.11,76.2 1052.8,76.28 1053.5,76.36 1054.2,76.54 1054.9,76.46 1055.6,76.07 1056.29,76.11 1056.99,76.18 1057.69,76.18 1058.39,76.17 1059.09,76.46 1059.78,76.59 1060.48,76.23 1061.18,76.17 1061.88,76.26 1062.58,76.14 1063.27,76.23 1063.97,76.32 1064.67,76.32 1065.37,76.48 1066.07,76.34 1066.76,76.14 1067.46,76.03 1068.16,76.37 1068.86,76.6 1069.56,76.23 1070.25,76.25 1070.95,76.12 1071.65,76.17 1072.35,76.19 1073.05,76.11 1073.74,76.38 1074.44,76.34 1075.14,76.1 1075.84,76.01 1076.54,76.19 1077.23,76.12 1077.93,75.89 1078.63,75.97 1079.33,76.17 1080.03,76.23 1080.72,76.29 1081.42,76.47 1082.12,76.22 1082.82,75.92 1083.52,76.19 1084.21,76.25 1084.91,76.11 1085.61,76.07 1086.31,76.17 1087.01,76.24 1087.7,76.39 1088.4,76.43 1089.1,75.92 1089.8,76.13 1090.5,76.36 1091.19,76.03 1091.89,76.27 1092.59,76.34 1093.29,76.28 1093.99,76.16 1094.68,76.16 1095.38,76.37 1096.08,76.34 1096.78,76.45 1097.48,76.09 1098.17,75.77 1098.87,75.83 1099.57,76.02 1100.27,76.15 1100.97,76.06 1101.66,76.24 1102.36,76.23 1103.06,76.25 1103.76,76.51 1104.46,76.52 1105.15,76.09 1105.85,76.15 1106.55,76.35 1107.25,76.22 1107.95,76.32 1108.64,76.19 1109.34,76.15 1110.04,76.11 1110.74,76.04 1111.44,76.08 1112.13,76.24 1112.83,76.36 1113.53,76.34 1114.23,76.25 1114.93,76.24 1115.62,76.51 1116.32,76.41 1117.02,76.31 1117.72,76.21 1118.42,75.91 1119.11,75.94 1119.81,76.01 1120.51,76.11 1121.21,76.1 1121.91,75.99 1122.6,76.18 1123.3,76.33 1124,76.12 1124.7,76.03 1125.4,76.08 1126.09,76.09 1126.79,76.36 1127.49,76.41 1128.19,76.22 1128.89,76.01 1129.58,75.95 1130.28,76.11 1130.98,76.17 1131.68,76.2 1132.38,76.09 1133.07,76.19 1133.77,76.3 1134.47,76.33 1135.17,76.45 1135.87,76.34 1136.56,75.82 1137.26,75.85 1137.96,76.42 1138.66,76.21 1139.36,76.03 1140.05,76.1 1140.75,76.06 1141.45,76.12 1142.15,76.21 1142.85,76.22 1143.54,76.26 1144.24,76.22 1144.94,76.08 1145.64,75.95 1146.34,76.15 1147.03,76.15 1147.73,76.07 1148.43,76.14 1149.13,76.29 1149.83,76.5 1150.52,76.28 1151.22,76.21 1151.92,76.18 1152.62,76.08 1153.32,76.17 1154.01,75.98 1154.71,75.83 1155.41,76.03 1156.11,76.23 1156.81,76.22 1157.5,76.43 1158.2,76.49 1158.9,76.16 1159.6,76.08 1160.3,76.07 1160.99,76.09 1161.69,76.21 1162.39,76.13 1163.09,76.03 1163.79,76.17 1164.48,76.18 1165.18,76.08 1165.88,76.08 1166.58,76.33 1167.28,76.34 1167.97,76.12 1168.67,76.33 1169.37,76.45 1170.07,76.21 1170.77,76.28 1171.46,76.32 1172.16,76.01 1172.86,76.06 1173.56,76.43 1174.26,76.59 1174.95,76.16 1175.65,75.61 1176.35,75.79 1177.05,76.13 1177.75,76.29 1178.44,76.67 1179.14,76.31 1179.84,75.95 1180.54,76.1 1181.24,76.01 1181.93,76.07 1182.63,76.08 1183.33,76.18 1184.03,76.39 1184.73,76.29 1185.42,76.24 1186.12,76.04 1186.82,75.64 1187.52,75.7 1188.22,75.99 1188.91,76.24 1189.61,76.5 1190.31,76.38 1191.01,76.14 1191.71,76.3 1192.4,76.26 1193.1,76.1 1193.8,76.2 1194.5,76.37 1195.2,76.16 1195.89,76.08 1196.59,76.27 1197.29,76.58 1197.99,76.43 1198.69,76.16 1199.38,76.14 1200.08,76.1 1200.78,76.12 1201.48,76.23 1202.18,76.44 1202.87,76.16 1203.57,76.01 1204.27,76.18 1204.97,76.35 1205.67,76.29 1206.36,76.08 1207.06,76.2 1207.76,76.18 1208.46,76.05 1209.16,75.9 1209.85,75.81 1210.55,75.98 1211.25,76.05 1211.95,76.07 1212.65,75.91 1213.34,76.1 1214.04,76.31 1214.74,76.01 1215.44,76.13 1216.14,76.61 1216.83,76.56 1217.53,76.14 1218.23,75.9 1218.93,76.04 1219.63,76.41 1220.32,76.26 1221.02,76.11 1221.72,76.2 1222.42,76.1 1223.12,76.17 1223.81,76.41 1224.51,76.58 1225.21,76.61 1225.91,76.25 1226.61,75.87 1227.3,76.2 1228,76.37 1228.7,76.06 1229.4,76.24 1230.1,76.36 1230.79,75.91 1231.49,76.04 1232.19,76.16 1232.89,75.85 1233.59,75.98 1234.28,76.44 1234.98,76.54 1235.68,76.18 1236.38,76.24 1237.08,76.65 1237.77,76.8 1238.47,76.59 1239.17,76.19 1239.87,75.84 1240.57,76.24 1241.26,76.46 1241.96,76.03 1242.66,76.07 1243.36,76.17 1244.06,76.41 1244.75,76.49 1245.45,76.4 1246.15,76.24 1246.85,75.99 1247.55,76.17 1248.24,76.25 1248.94,76.41 1249.64,76.58 1250.34,76.32 1251.04,76.15 1251.73,76.04 1252.43,76.24 1253.13,76.48 1253.83,76.2 1254.53,76.15 1255.22,76.39 1255.92,76.41 1256.62,76.37 1257.32,76.35 1258.02,76.13 1258.71,75.97 1259.41,75.94 1260.11,76.04 1260.81,76.16 1261.51,76.17 1262.2,76.2 1262.9,76.16 1263.6,76.28 1264.3,76.33 1265,75.98 1265.69,75.84 1266.39,75.98 1267.09,76.1 1267.79,76.23 1268.49,76.35 1269.18,76.46 1269.88,76.52 1270.58,76.35 1271.28,76.06 1271.98,76.21 1272.67,76.18 1273.37,76.19 1274.07,76.29 1274.77,76.09 1275.47,76.1 1276.16,76.26 1276.86,76.25 1277.56,76.21 1278.26,76.31 1278.96,76.22 1279.65,76.22 1280.35,76.29 1281.05,76.29 1281.75,76.16 1282.45,76.06 1283.14,76.01 1283.84,76.16 1284.54,76.19 1285.24,76.23 1285.94,76.33 1286.63,76.27 1287.33,76.13 1288.03,76.29 1288.73,76.47 1289.43,76.09 1290.12,76.1 1290.82,76.34 1291.52,76.09 1292.22,76.07 1292.92,76.39 1293.61,76.24 1294.31,76.1 1295.01,76.21 1295.71,76.2 1296.41,76.31 1297.1,76.19 1297.8,76.14 1298.5,76.28 1299.2,76.21 1299.9,76.06 1300.59,76.12 1301.29,76.29 1301.99,76.3 1302.69,76.25 1303.39,76.41 1304.08,76.31 1304.78,75.99 1305.48,76.22 1306.18,76.26 1306.88,76.03 1307.57,76.19 1308.27,76.32 1308.97,76.33 1309.67,76.27 1310.37,76.08 1311.06,76.28 1311.76,76.36 1312.46,76.18 1313.16,76.38 1313.86,76.28 1314.55,76.07 1315.25,76.18 1315.95,76.14 1316.65,76.18 1317.35,76.33 1318.04,76.32 1318.74,76.21 1319.44,76.18 1320.14,76.53 1320.84,76.56 1321.53,76.22 1322.23,76.1 1322.93,76.21 1323.63,76.32 1324.33,76.09 1325.02,75.67 1325.72,75.82 1326.42,76.38 1327.12,76.16 1327.82,75.83 1328.51,76.06 1329.21,76.19 1329.91,76.23 1330.61,76.4 1331.31,76.24 1332,76.16 1332.7,76.2 1333.4,76.19" fill="none" stroke="#8B8A00" stroke-width="2.8" stroke-linejoin="round" stroke-linecap="butt"/>
<line x1="846.2" y1="330.5" x2="1333.4" y2="330.5" stroke="#000" stroke-width="2.4"/>
<polyline points="846.06,329.71 847.75,330 849.45,328.57 851.14,327.79 852.84,327.91 854.53,329.63 856.23,329.34 857.92,328.04 859.62,329.07 861.31,327.96 863,328.85 864.7,328.24 866.39,328.9 868.09,327.91 869.78,329.27 871.48,329.91 873.17,328.36 874.86,328.08 876.56,328.54 878.25,327.48 879.95,326.9 881.64,327.59 883.34,328.22 885.03,327.95 886.73,326.17 888.42,328.01 890.11,327.05 891.81,327.01 893.5,326.91 895.2,327.83 896.89,326.07 898.59,326.43 900.28,325.67 901.98,326.35 903.67,326.26 905.36,327.53 907.06,327.82 908.75,326.5 910.45,326.14 912.14,329.4 913.84,326.91 915.53,326.62 917.22,328.68 918.92,327.84 920.61,328.19 922.31,327.23 924,327.74 925.7,325.73 927.39,327.59 929.09,325.93 930.78,326.82 932.47,326.74 934.17,328.65 935.86,325.79 937.56,327.34 939.25,327.35 940.95,327.99 942.64,328.32 944.34,328.46 946.03,327.1 947.72,327.83 949.42,326.47 951.11,328 952.81,326.29 954.5,327.49 956.2,328.55 957.89,327.1 959.58,328.08 961.28,327.72 962.97,327.61 964.67,329.33 966.36,327.01 968.06,328.24 969.75,327.78 971.45,326.48 973.14,326.95 974.83,327.5 976.53,326.83 978.22,327.81 979.92,327.6 981.61,326.73 983.31,329.13 985,327.1 986.7,328.01 988.39,326.51 990.08,328.43 991.78,328.47 993.47,325.69 995.17,328.4 996.86,327.2 998.56,328.49 1000.25,327.51 1001.94,328.29 1003.64,328.12 1005.33,328.65 1007.03,328.31 1008.72,328.96 1010.42,328.04 1012.11,329.72 1013.81,327.26 1015.5,330.58 1017.19,328.86 1018.89,328.37 1020.58,328.35 1022.28,329.42 1023.97,329.21 1025.67,329.45 1027.36,327.63 1029.06,329.44 1030.75,328.5 1032.44,327.93 1034.14,329.61 1035.83,329.33 1037.53,329.57 1039.22,328.51 1040.92,327.67 1042.61,328.86 1044.3,327.91 1046,328.54 1047.69,328.71 1049.39,328.2 1051.08,329.38 1052.78,327.46 1054.47,328.9 1056.17,329.91 1057.86,328.5 1059.55,328.43 1061.25,329.69 1062.94,327.51 1064.64,330.67 1066.33,329.64 1068.03,328.56 1069.72,327.13 1071.42,330.03 1073.11,328.65 1074.8,329.64 1076.5,329.17 1078.19,329.95 1079.89,331.69 1081.58,329.37 1083.28,326.61 1084.97,330.91 1086.66,329.52 1088.36,328.82 1090.05,327.61 1091.75,329.43 1093.44,327.16 1095.14,326.27 1096.83,329.83 1098.53,327.6 1100.22,331.61 1101.91,324.56 1103.61,328.24 1105.3,329.66 1107,324.71 1108.69,330.42 1110.39,331.22 1112.08,328.84 1113.78,331.41 1115.47,327.96 1117.16,327.73 1118.86,327.17 1120.55,332.01 1122.25,328.6 1123.94,327.62 1125.64,322.58 1127.33,325.45 1129.02,326.75 1130.72,326.17 1132.41,324.44 1134.11,329.34 1135.8,321.37 1137.5,323.39 1139.19,332.65 1140.89,330.08 1142.58,330.98 1144.27,325.11 1145.97,327.72 1147.66,324.5 1149.36,329.92 1151.05,329.07 1152.75,328.29 1154.44,324.98 1156.14,323.59 1157.83,329.49 1159.52,329.93 1161.22,326.33 1162.91,329.45 1164.61,326.15 1166.3,326.83 1168,328.16 1169.69,330.66 1171.38,331.77 1173.08,331.61 1174.77,329.54 1176.47,326.63 1178.16,327.79 1179.86,334.22 1181.55,328.4 1183.25,323.38 1184.94,329.73 1186.63,333.19 1188.33,325.95 1190.02,329.77 1191.72,321.78 1193.41,320.11 1195.11,329.62 1196.8,324.12 1198.5,321.29 1200.19,319.65 1201.88,331.22 1203.58,329.92 1205.27,329.31 1206.97,327.53 1208.66,332.91 1210.36,339.49 1212.05,339.64 1213.74,328.49 1215.44,325.89 1217.13,329.84 1218.83,328.3 1220.52,325.27 1222.22,329.32 1223.91,336.58 1225.61,320.5 1227.3,325.89 1228.99,322.65 1230.69,324.66 1232.38,320.28 1234.08,327.59 1235.77,322.4 1237.47,329.05 1239.16,313.23 1240.86,332.59 1242.55,330.31 1244.24,335.93 1245.94,330.46 1247.63,331.19 1249.33,330.92 1251.02,324.87 1252.72,319.72 1254.41,318.23 1256.1,328.31 1257.8,328.94 1259.49,323.9 1261.19,331.04 1262.88,337.98 1264.58,335.01 1266.27,325.34 1267.97,335.96 1269.66,323.2 1271.35,327.8 1273.05,332.89 1274.74,327.06 1276.44,330.21 1278.13,334.35 1279.83,320.9 1281.52,340.03 1283.22,340.33 1284.91,325.43 1286.6,334.77 1288.3,330.68 1289.99,330.52 1291.69,330.11 1293.38,336.65 1295.08,312.12 1296.77,326.65 1298.46,331.37 1300.16,334.81 1301.85,325.11 1303.55,329.76 1305.24,327.53 1306.94,326.51 1308.63,334.77 1310.33,326.4 1312.02,336.92 1313.71,329.36 1315.41,318.9 1317.1,338.55 1318.8,325.87 1320.49,333.88 1322.19,338.45 1323.88,337.48 1325.58,316.31 1327.27,313.83 1328.96,330.92 1330.66,340.95 1332.35,332.88" fill="none" stroke="#37AC6B" stroke-width="2.8" stroke-linejoin="round" stroke-linecap="butt"/>
<polyline points="846.06,328.16 847.75,325.89 849.45,328.33 851.14,327.16 852.84,327.08 854.53,326.79 856.23,326.75 857.92,327.61 859.62,327.31 861.31,327.45 863,327.74 864.7,328.59 866.39,328.11 868.09,326.63 869.78,328.49 871.48,328.24 873.17,327.09 874.86,325.94 876.56,328.34 878.25,326.26 879.95,327.9 881.64,328.18 883.34,327.37 885.03,326.8 886.73,327.19 888.42,328.23 890.11,327.9 891.81,325.95 893.5,327.75 895.2,325.6 896.89,327.05 898.59,328.13 900.28,328.47 901.98,328.19 903.67,327.25 905.36,327.07 907.06,327.54 908.75,326.55 910.45,327.02 912.14,325.92 913.84,326.69 915.53,327.21 917.22,326.96 918.92,327.29 920.61,327.51 922.31,326.2 924,325.88 925.7,326.97 927.39,325.29 929.09,326.42 930.78,327.77 932.47,327.28 934.17,326.66 935.86,327.6 937.56,326.66 939.25,325.64 940.95,326.48 942.64,327.61 944.34,326.36 946.03,327.12 947.72,327.17 949.42,325.64 951.11,326.24 952.81,327.13 954.5,325 956.2,327.1 957.89,325.88 959.58,327.28 961.28,328.36 962.97,327.36 964.67,326.52 966.36,328.06 968.06,327.54 969.75,325.83 971.45,326.95 973.14,326.09 974.83,325.47 976.53,325.95 978.22,327.17 979.92,326.91 981.61,328.39 983.31,326.06 985,325.37 986.7,326.8 988.39,326.49 990.08,326.74 991.78,325.46 993.47,326.61 995.17,326.42 996.86,326.24 998.56,324.88 1000.25,324.44 1001.94,325.49 1003.64,327.18 1005.33,325.78 1007.03,326.75 1008.72,325.15 1010.42,326.33 1012.11,324.82 1013.81,326.02 1015.5,325.88 1017.19,325.75 1018.89,324.59 1020.58,325.73 1022.28,325.68 1023.97,325.57 1025.67,323.72 1027.36,325.82 1029.06,326.38 1030.75,325.43 1032.44,325.94 1034.14,325.05 1035.83,327.34 1037.53,324.71 1039.22,325.83 1040.92,326.83 1042.61,325.94 1044.3,325.67 1046,327.45 1047.69,327.21 1049.39,327.6 1051.08,325.61 1052.78,322.46 1054.47,326.78 1056.17,326.49 1057.86,328.53 1059.55,325.89 1061.25,324.78 1062.94,325.54 1064.64,327.26 1066.33,327.07 1068.03,325.41 1069.72,326.55 1071.42,326.18 1073.11,325.07 1074.8,329.51 1076.5,326.12 1078.19,325.43 1079.89,325.94 1081.58,327.3 1083.28,326.85 1084.97,324.57 1086.66,328.16 1088.36,327.24 1090.05,326.23 1091.75,327.6 1093.44,326.76 1095.14,330.04 1096.83,326.02 1098.53,326.23 1100.22,324.73 1101.91,325.61 1103.61,320.78 1105.3,328.29 1107,325.96 1108.69,329.55 1110.39,329.99 1112.08,326.91 1113.78,328.32 1115.47,330.41 1117.16,328.82 1118.86,324.39 1120.55,329.89 1122.25,321.18 1123.94,328.67 1125.64,330.51 1127.33,327.28 1129.02,326.87 1130.72,324.5 1132.41,328.87 1134.11,324.85 1135.8,326.53 1137.5,324.22 1139.19,326.3 1140.89,330.16 1142.58,320.83 1144.27,326.98 1145.97,329.73 1147.66,327.37 1149.36,325.53 1151.05,325.78 1152.75,327.67 1154.44,328.63 1156.14,325.86 1157.83,327.94 1159.52,326.14 1161.22,327.54 1162.91,327.46 1164.61,329.14 1166.3,321.99 1168,326.88 1169.69,323.12 1171.38,331.82 1173.08,321.04 1174.77,323.04 1176.47,326.63 1178.16,326.76 1179.86,330.11 1181.55,330.8 1183.25,326.84 1184.94,328.71 1186.63,329.14 1188.33,325.48 1190.02,330.6 1191.72,333.63 1193.41,328.12 1195.11,326.01 1196.8,326.15 1198.5,325.32 1200.19,334.57 1201.88,325.52 1203.58,321.05 1205.27,328.61 1206.97,326.74 1208.66,327.97 1210.36,324.39 1212.05,328.16 1213.74,324.18 1215.44,330.09 1217.13,331.49 1218.83,336.71 1220.52,329.7 1222.22,327.58 1223.91,325.23 1225.61,323.75 1227.3,328.09 1228.99,330.39 1230.69,323.48 1232.38,325.78 1234.08,316.43 1235.77,338.91 1237.47,323.66 1239.16,323.3 1240.86,322.05 1242.55,323.73 1244.24,312.74 1245.94,330 1247.63,318.14 1249.33,326.07 1251.02,324.88 1252.72,325.76 1254.41,319.88 1256.1,328.6 1257.8,330.4 1259.49,330.6 1261.19,322.58 1262.88,335.8 1264.58,329.65 1266.27,316.27 1267.97,323.02 1269.66,329.82 1271.35,329.63 1273.05,329.42 1274.74,331.07 1276.44,327.84 1278.13,326.88 1279.83,328.94 1281.52,336.52 1283.22,326.82 1284.91,314.36 1286.6,328.37 1288.3,323.9 1289.99,326.76 1291.69,322.87 1293.38,332.37 1295.08,330.21 1296.77,315.35 1298.46,313.67 1300.16,323.77 1301.85,336.02 1303.55,334.77 1305.24,323.83 1306.94,323.01 1308.63,331.91 1310.33,335.28 1312.02,329.44 1313.71,335.07 1315.41,318.43 1317.1,327.69 1318.8,339.32 1320.49,323.74 1322.19,332.88 1323.88,321.57 1325.58,327.66 1327.27,310.75 1328.96,334.14 1330.66,328.14 1332.35,330.88" fill="none" stroke="#B07CE0" stroke-width="2.8" stroke-linejoin="round" stroke-linecap="butt"/>
<polyline points="846.06,327.19 847.75,325.97 849.45,326.42 851.14,329.54 852.84,327.49 854.53,327.35 856.23,328.23 857.92,328.54 859.62,327.75 861.31,326.8 863,327.17 864.7,326.24 866.39,328.16 868.09,327.51 869.78,327.56 871.48,326.16 873.17,327.22 874.86,328.92 876.56,326.95 878.25,328.02 879.95,328.13 881.64,326.49 883.34,327.65 885.03,326.75 886.73,328.68 888.42,325.96 890.11,326.36 891.81,327.63 893.5,327.03 895.2,326.05 896.89,328.74 898.59,327.03 900.28,327.55 901.98,328.72 903.67,326.27 905.36,328.35 907.06,326.75 908.75,326.9 910.45,327.74 912.14,327.35 913.84,327 915.53,327.44 917.22,327.47 918.92,326.78 920.61,324.41 922.31,326.16 924,327.17 925.7,327.81 927.39,327 929.09,326.34 930.78,326.69 932.47,327.09 934.17,325.29 935.86,325.67 937.56,325.45 939.25,325.72 940.95,325.49 942.64,326.25 944.34,328.34 946.03,325.09 947.72,324.17 949.42,324.33 951.11,324.6 952.81,325.25 954.5,326.22 956.2,323.64 957.89,324.7 959.58,322.8 961.28,325.5 962.97,324.2 964.67,324.89 966.36,325.03 968.06,326.61 969.75,323.44 971.45,325.54 973.14,322.22 974.83,323.02 976.53,323.28 978.22,322.15 979.92,322.53 981.61,323.71 983.31,324.99 985,323.38 986.7,321.43 988.39,324.07 990.08,323.35 991.78,321.92 993.47,323.12 995.17,323.53 996.86,324.58 998.56,323.35 1000.25,323.1 1001.94,323.04 1003.64,323.6 1005.33,322.21 1007.03,324.16 1008.72,323.83 1010.42,321.78 1012.11,324.51 1013.81,323.22 1015.5,324.18 1017.19,323.18 1018.89,323.59 1020.58,323.83 1022.28,322.31 1023.97,325.03 1025.67,322.65 1027.36,323.3 1029.06,323.94 1030.75,324.18 1032.44,324.12 1034.14,324.88 1035.83,323.4 1037.53,324.2 1039.22,321.78 1040.92,323.52 1042.61,323.82 1044.3,324.8 1046,324.23 1047.69,324.45 1049.39,324.11 1051.08,322.96 1052.78,325.13 1054.47,326.3 1056.17,325.18 1057.86,323.53 1059.55,323.95 1061.25,326.23 1062.94,327.4 1064.64,325.65 1066.33,322.23 1068.03,325.24 1069.72,325.48 1071.42,325.15 1073.11,325.68 1074.8,325.07 1076.5,327.21 1078.19,326.01 1079.89,324.45 1081.58,326.19 1083.28,326.38 1084.97,326.92 1086.66,325.44 1088.36,326.06 1090.05,327.35 1091.75,328.93 1093.44,325.06 1095.14,326.76 1096.83,325.86 1098.53,325.97 1100.22,325.72 1101.91,326.26 1103.61,325.15 1105.3,327.64 1107,328.3 1108.69,328.35 1110.39,329.27 1112.08,328.11 1113.78,325.08 1115.47,331.53 1117.16,328.8 1118.86,328.41 1120.55,328.37 1122.25,329.74 1123.94,327.92 1125.64,327.42 1127.33,334.54 1129.02,326.13 1130.72,329.85 1132.41,327.83 1134.11,328.61 1135.8,329.69 1137.5,329.74 1139.19,331.41 1140.89,330.07 1142.58,331.63 1144.27,322.95 1145.97,326.63 1147.66,326.28 1149.36,323.21 1151.05,329.21 1152.75,331.66 1154.44,330.74 1156.14,326.4 1157.83,324.84 1159.52,326.22 1161.22,328.11 1162.91,327.55 1164.61,330.32 1166.3,329.16 1168,328.69 1169.69,322.75 1171.38,331.23 1173.08,330.4 1174.77,329.76 1176.47,325.94 1178.16,328.94 1179.86,331.77 1181.55,330.96 1183.25,326.63 1184.94,331.86 1186.63,327.55 1188.33,328.67 1190.02,329.76 1191.72,327.06 1193.41,327.58 1195.11,332.43 1196.8,332.46 1198.5,328.77 1200.19,328.5 1201.88,331.22 1203.58,327.7 1205.27,330.35 1206.97,329.52 1208.66,335.5 1210.36,333.21 1212.05,324.3 1213.74,323.22 1215.44,333.03 1217.13,337.87 1218.83,325.79 1220.52,335.22 1222.22,325.91 1223.91,338.58 1225.61,325.1 1227.3,331.2 1228.99,332.32 1230.69,322.14 1232.38,335.17 1234.08,328.26 1235.77,323.07 1237.47,323.12 1239.16,343.8 1240.86,326.47 1242.55,327.51 1244.24,337.21 1245.94,329.44 1247.63,330.58 1249.33,333.45 1251.02,327.75 1252.72,324.14 1254.41,327.57 1256.1,326.52 1257.8,327.3 1259.49,342.24 1261.19,345.16 1262.88,338.97 1264.58,325.84 1266.27,330.94 1267.97,334.91 1269.66,319.49 1271.35,322.05 1273.05,321.16 1274.74,321.97 1276.44,332.89 1278.13,325.78 1279.83,325.53 1281.52,332.17 1283.22,339.64 1284.91,330.04 1286.6,326.7 1288.3,330.52 1289.99,318.57 1291.69,336.56 1293.38,333.46 1295.08,327.65 1296.77,333.59 1298.46,340.9 1300.16,334.03 1301.85,332.11 1303.55,331.7 1305.24,338.14 1306.94,332.34 1308.63,322.55 1310.33,332.82 1312.02,325.22 1313.71,332.4 1315.41,320.9 1317.1,323.05 1318.8,336.99 1320.49,332.76 1322.19,333.96 1323.88,336.83 1325.58,334.63 1327.27,322.08 1328.96,328.66 1330.66,338.02 1332.35,323.42" fill="none" stroke="#D39D0E" stroke-width="2.8" stroke-linejoin="round" stroke-linecap="butt"/>
<polyline points="846.06,329.28 847.75,331.64 849.45,331.51 851.14,332.44 852.84,329.92 854.53,332.27 856.23,330.27 857.92,332.54 859.62,330.34 861.31,332.18 863,331.57 864.7,331.07 866.39,332.65 868.09,331.22 869.78,330.41 871.48,332.89 873.17,332.54 874.86,332.39 876.56,331.12 878.25,330.85 879.95,331.95 881.64,330.12 883.34,331.49 885.03,330.33 886.73,332.35 888.42,332.52 890.11,329.77 891.81,332.31 893.5,330.59 895.2,333.51 896.89,330.95 898.59,332.77 900.28,330.69 901.98,333.24 903.67,330.9 905.36,330.49 907.06,331.42 908.75,330.7 910.45,330.7 912.14,331.08 913.84,331.63 915.53,330.25 917.22,330.52 918.92,330.14 920.61,332.91 922.31,332.65 924,332.06 925.7,329.9 927.39,330.06 929.09,330.81 930.78,330.5 932.47,331.91 934.17,332.23 935.86,332.51 937.56,332.38 939.25,330.71 940.95,332.36 942.64,331.32 944.34,332.75 946.03,330.5 947.72,331.7 949.42,330.81 951.11,330.54 952.81,330.99 954.5,332.15 956.2,332.74 957.89,331.92 959.58,330.74 961.28,330.41 962.97,330.44 964.67,330.96 966.36,331.85 968.06,333.7 969.75,331.63 971.45,331.07 973.14,331.17 974.83,331.99 976.53,332.74 978.22,332.57 979.92,332.89 981.61,331.02 983.31,332.32 985,331.99 986.7,333.48 988.39,333.08 990.08,332.44 991.78,333.28 993.47,333.67 995.17,333.24 996.86,331.82 998.56,332.71 1000.25,332.38 1001.94,332.28 1003.64,332.51 1005.33,333.54 1007.03,333.14 1008.72,333.32 1010.42,332.1 1012.11,332.99 1013.81,332.13 1015.5,332.29 1017.19,331.07 1018.89,333.05 1020.58,332.04 1022.28,331.34 1023.97,332.75 1025.67,331.11 1027.36,330.92 1029.06,331.93 1030.75,331.44 1032.44,330.8 1034.14,330.4 1035.83,331.85 1037.53,332.57 1039.22,330.78 1040.92,331.96 1042.61,330.25 1044.3,331.43 1046,332.03 1047.69,332.67 1049.39,331.53 1051.08,330.24 1052.78,331.69 1054.47,331.79 1056.17,331.71 1057.86,330.9 1059.55,329.95 1061.25,331.42 1062.94,330.94 1064.64,331.84 1066.33,332 1068.03,330.45 1069.72,331.17 1071.42,331.82 1073.11,332.16 1074.8,330.55 1076.5,330.28 1078.19,331.01 1079.89,331.32 1081.58,333.39 1083.28,330.21 1084.97,334.16 1086.66,330.23 1088.36,329.93 1090.05,329.66 1091.75,330.58 1093.44,333.33 1095.14,330.87 1096.83,330.13 1098.53,328.93 1100.22,329.73 1101.91,329.87 1103.61,330.08 1105.3,327.37 1107,332.54 1108.69,332.76 1110.39,329.97 1112.08,327.56 1113.78,332.08 1115.47,329.48 1117.16,332.19 1118.86,330.92 1120.55,333.55 1122.25,329.63 1123.94,332.37 1125.64,328.48 1127.33,327.72 1129.02,329.63 1130.72,333.2 1132.41,331.9 1134.11,332.8 1135.8,328.95 1137.5,332.66 1139.19,329.76 1140.89,330.93 1142.58,326.29 1144.27,333.43 1145.97,333.56 1147.66,332.01 1149.36,334.99 1151.05,331.82 1152.75,331.61 1154.44,326.87 1156.14,329.68 1157.83,326.77 1159.52,331.28 1161.22,330.28 1162.91,328.92 1164.61,329.25 1166.3,322.17 1168,333.93 1169.69,331.61 1171.38,335.84 1173.08,331.14 1174.77,326.89 1176.47,330.96 1178.16,333.36 1179.86,331.08 1181.55,331.63 1183.25,325.81 1184.94,330.36 1186.63,335.19 1188.33,326.33 1190.02,332.8 1191.72,337.42 1193.41,339.62 1195.11,330.41 1196.8,321.84 1198.5,324.07 1200.19,335.93 1201.88,337.65 1203.58,319.86 1205.27,328.15 1206.97,324 1208.66,331.79 1210.36,326.81 1212.05,328.84 1213.74,342.3 1215.44,333.26 1217.13,326.37 1218.83,338.71 1220.52,327.48 1222.22,329.3 1223.91,336.38 1225.61,334.5 1227.3,332.93 1228.99,331.2 1230.69,334.78 1232.38,337.51 1234.08,324.8 1235.77,327.9 1237.47,337.21 1239.16,328 1240.86,327.64 1242.55,334.13 1244.24,333.98 1245.94,329.01 1247.63,323.05 1249.33,340.45 1251.02,321.94 1252.72,327.68 1254.41,323.84 1256.1,313.68 1257.8,333.33 1259.49,331.39 1261.19,324.42 1262.88,327.49 1264.58,328.93 1266.27,319.43 1267.97,333.03 1269.66,333.31 1271.35,331.69 1273.05,335.51 1274.74,326.01 1276.44,322.3 1278.13,325.6 1279.83,325.08 1281.52,321.33 1283.22,325.47 1284.91,335.59 1286.6,330.2 1288.3,329.57 1289.99,335.4 1291.69,328.06 1293.38,332.85 1295.08,326.88 1296.77,325.46 1298.46,327.3 1300.16,335.42 1301.85,333.74 1303.55,332.69 1305.24,344.69 1306.94,313.63 1308.63,324.63 1310.33,338.33 1312.02,345.73 1313.71,329.84 1315.41,318.66 1317.1,321.3 1318.8,328.46 1320.49,319.01 1322.19,344 1323.88,317.96 1325.58,324.86 1327.27,322.15 1328.96,334.46 1330.66,314.22 1332.35,321.29" fill="none" stroke="#7B5050" stroke-width="2.8" stroke-linejoin="round" stroke-linecap="butt"/>
<polyline points="846.06,330.26 847.75,328.13 849.45,328.28 851.14,329.97 852.84,327.68 854.53,328.2 856.23,328.84 857.92,327.71 859.62,328.22 861.31,330.37 863,329.53 864.7,327.93 866.39,330.86 868.09,330.99 869.78,328.53 871.48,329.56 873.17,329.25 874.86,328.9 876.56,327.42 878.25,329.1 879.95,328.29 881.64,327.93 883.34,327.49 885.03,328.94 886.73,329.24 888.42,326.65 890.11,329.31 891.81,330.33 893.5,328.17 895.2,328.54 896.89,331.09 898.59,327.94 900.28,330.66 901.98,328.94 903.67,327.64 905.36,328.93 907.06,326.96 908.75,327.18 910.45,327.79 912.14,327.62 913.84,327.19 915.53,329.28 917.22,328.01 918.92,328.83 920.61,329.22 922.31,329.65 924,327.46 925.7,326.56 927.39,326.75 929.09,326.64 930.78,327.01 932.47,326 934.17,327.41 935.86,328.23 937.56,325.74 939.25,328.55 940.95,325.78 942.64,326.73 944.34,326.64 946.03,325.33 947.72,326.26 949.42,325.77 951.11,326.27 952.81,327.21 954.5,325.12 956.2,325.23 957.89,326.84 959.58,324.08 961.28,324.91 962.97,325.25 964.67,325.54 966.36,323.73 968.06,324.1 969.75,326.11 971.45,322.3 973.14,323 974.83,323.11 976.53,323.73 978.22,323.65 979.92,323.52 981.61,323.36 983.31,322.61 985,322.48 986.7,323.94 988.39,322.58 990.08,323.15 991.78,321.8 993.47,323.12 995.17,322.32 996.86,322.66 998.56,321.69 1000.25,324.2 1001.94,321.86 1003.64,324.23 1005.33,322.25 1007.03,321.87 1008.72,322.08 1010.42,322.4 1012.11,321.39 1013.81,322.84 1015.5,320.78 1017.19,319.58 1018.89,322 1020.58,324.47 1022.28,323.64 1023.97,321.34 1025.67,322.47 1027.36,321.41 1029.06,321.97 1030.75,322.67 1032.44,320.47 1034.14,320.98 1035.83,322.64 1037.53,322.52 1039.22,322.66 1040.92,324.33 1042.61,323.49 1044.3,321.68 1046,323.93 1047.69,321.43 1049.39,322.31 1051.08,323.54 1052.78,323.71 1054.47,323.87 1056.17,322 1057.86,322.41 1059.55,323.89 1061.25,324.13 1062.94,324.11 1064.64,323.25 1066.33,326.6 1068.03,326.32 1069.72,324.25 1071.42,323.99 1073.11,323.48 1074.8,324.6 1076.5,322.06 1078.19,322.91 1079.89,327.15 1081.58,323.49 1083.28,325.7 1084.97,326.9 1086.66,322.63 1088.36,325.91 1090.05,326.92 1091.75,325.36 1093.44,329.53 1095.14,327.69 1096.83,325.8 1098.53,326.75 1100.22,326.9 1101.91,324.9 1103.61,329.46 1105.3,330.42 1107,325.2 1108.69,328.19 1110.39,328.49 1112.08,326.32 1113.78,328.02 1115.47,329.86 1117.16,329.62 1118.86,328.88 1120.55,325.37 1122.25,328.4 1123.94,326.24 1125.64,326.14 1127.33,329.74 1129.02,324.09 1130.72,334 1132.41,330.56 1134.11,330.48 1135.8,325.12 1137.5,326.9 1139.19,325.23 1140.89,329.7 1142.58,329.12 1144.27,330.16 1145.97,326.24 1147.66,332.01 1149.36,321.4 1151.05,331.52 1152.75,332.63 1154.44,330.8 1156.14,327.52 1157.83,330.89 1159.52,329.62 1161.22,327.07 1162.91,324.94 1164.61,330.96 1166.3,326.46 1168,329.83 1169.69,326.51 1171.38,340.43 1173.08,335.67 1174.77,330.02 1176.47,330.06 1178.16,325.01 1179.86,326.75 1181.55,340.14 1183.25,330.48 1184.94,330.62 1186.63,336.88 1188.33,324.02 1190.02,330.72 1191.72,330.46 1193.41,321.17 1195.11,331.55 1196.8,324.55 1198.5,329.19 1200.19,331.56 1201.88,330.01 1203.58,324.96 1205.27,328.81 1206.97,327.61 1208.66,328.26 1210.36,328.87 1212.05,327.84 1213.74,331.59 1215.44,328.89 1217.13,332.05 1218.83,323.16 1220.52,326.92 1222.22,326.94 1223.91,326.77 1225.61,337.91 1227.3,324.7 1228.99,334.38 1230.69,330.85 1232.38,325.27 1234.08,325.85 1235.77,339.37 1237.47,336.63 1239.16,335.9 1240.86,329.62 1242.55,330.31 1244.24,334.89 1245.94,327.49 1247.63,331.06 1249.33,332.55 1251.02,321.85 1252.72,333.23 1254.41,337.49 1256.1,328.11 1257.8,335.32 1259.49,332.57 1261.19,329.24 1262.88,325.82 1264.58,341.46 1266.27,326.36 1267.97,339.86 1269.66,334.36 1271.35,333.92 1273.05,336.93 1274.74,329.57 1276.44,328.47 1278.13,328.22 1279.83,323.79 1281.52,328.63 1283.22,339.88 1284.91,327.39 1286.6,333.02 1288.3,329.34 1289.99,324.11 1291.69,328.48 1293.38,337.53 1295.08,332.17 1296.77,334.54 1298.46,329.95 1300.16,320.64 1301.85,318.42 1303.55,332.64 1305.24,330.64 1306.94,334.85 1308.63,337.45 1310.33,329.48 1312.02,319.43 1313.71,329.92 1315.41,318.43 1317.1,327.12 1318.8,337.32 1320.49,339.86 1322.19,326.41 1323.88,323.8 1325.58,326.6 1327.27,335.43 1328.96,334.49 1330.66,322.05 1332.35,331.35" fill="none" stroke="#8B8A00" stroke-width="2.8" stroke-linejoin="round" stroke-linecap="butt"/>
<line x1="1516.9" y1="35.4" x2="2002.3" y2="35.4" stroke="#000" stroke-width="2.4"/>
<line x1="1516.9" y1="232.7" x2="2002.8" y2="232.7" stroke="#000" stroke-width="2.4"/>
<line x1="1518" y1="397.6" x2="2004.2" y2="397.6" stroke="#000" stroke-width="2.4"/>
<line x1="1528.73" y1="43.34" x2="1538.47" y2="122.66" stroke="#35AD6C" stroke-width="2.0"/>
<line x1="1555.37" y1="115.3" x2="1556.93" y2="113.3" stroke="#35AD6C" stroke-width="2.0"/>
<line x1="1565.75" y1="100.93" x2="1567.95" y2="97.57" stroke="#35AD6C" stroke-width="2.0"/>
<line x1="1576.69" y1="85.14" x2="1577.81" y2="83.66" stroke="#35AD6C" stroke-width="2.0"/>
<line x1="1529.44" y1="224.64" x2="1538.26" y2="179.46" stroke="#D29C06" stroke-width="2.0"/>
<line x1="1541.68" y1="179.33" x2="1548.92" y2="205.77" stroke="#D29C06" stroke-width="2.0"/>
<line x1="1553.35" y1="220.09" x2="1559.45" y2="237.71" stroke="#D29C06" stroke-width="2.0"/>
<line x1="1566.16" y1="250.97" x2="1568.14" y2="253.83" stroke="#D29C06" stroke-width="2.0"/>
<line x1="1541.92" y1="389.36" x2="1550.88" y2="314.84" stroke="#FF0000" stroke-width="2.0"/>
<line x1="1565.72" y1="324.99" x2="1570.98" y2="341.21" stroke="#FF0000" stroke-width="2.0"/>
<line x1="138.3" y1="207.5" x2="138.3" y2="214.5" stroke="#000" stroke-width="2.4"/>
<line x1="210.73" y1="207.5" x2="210.73" y2="214.5" stroke="#000" stroke-width="2.4"/>
<line x1="355.59" y1="207.5" x2="355.59" y2="214.5" stroke="#000" stroke-width="2.4"/>
<line x1="500.44" y1="207.5" x2="500.44" y2="214.5" stroke="#000" stroke-width="2.4"/>
<line x1="645.3" y1="207.5" x2="645.3" y2="214.5" stroke="#000" stroke-width="2.4"/>
<line x1="283.16" y1="207.5" x2="283.16" y2="211.5" stroke="#000" stroke-width="2.4"/>
<line x1="428.01" y1="207.5" x2="428.01" y2="211.5" stroke="#000" stroke-width="2.4"/>
<line x1="572.87" y1="207.5" x2="572.87" y2="211.5" stroke="#000" stroke-width="2.4"/>
<line x1="131.5" y1="70.4" x2="138.5" y2="70.4" stroke="#000" stroke-width="2.4"/>
<line x1="131.5" y1="127.55" x2="138.5" y2="127.55" stroke="#000" stroke-width="2.4"/>
<line x1="131.5" y1="184.7" x2="138.5" y2="184.7" stroke="#000" stroke-width="2.4"/>
<line x1="134.5" y1="41.83" x2="138.5" y2="41.83" stroke="#000" stroke-width="2.4"/>
<line x1="134.5" y1="98.98" x2="138.5" y2="98.98" stroke="#000" stroke-width="2.4"/>
<line x1="134.5" y1="156.12" x2="138.5" y2="156.12" stroke="#000" stroke-width="2.4"/>
<line x1="205.7" y1="437.8" x2="205.7" y2="444.8" stroke="#000" stroke-width="2.4"/>
<line x1="315.6" y1="437.8" x2="315.6" y2="444.8" stroke="#000" stroke-width="2.4"/>
<line x1="425.5" y1="437.8" x2="425.5" y2="444.8" stroke="#000" stroke-width="2.4"/>
<line x1="535.4" y1="437.8" x2="535.4" y2="444.8" stroke="#000" stroke-width="2.4"/>
<line x1="645.3" y1="437.8" x2="645.3" y2="444.8" stroke="#000" stroke-width="2.4"/>
<line x1="150.75" y1="437.8" x2="150.75" y2="441.8" stroke="#000" stroke-width="2.4"/>
<line x1="260.65" y1="437.8" x2="260.65" y2="441.8" stroke="#000" stroke-width="2.4"/>
<line x1="370.55" y1="437.8" x2="370.55" y2="441.8" stroke="#000" stroke-width="2.4"/>
<line x1="480.45" y1="437.8" x2="480.45" y2="441.8" stroke="#000" stroke-width="2.4"/>
<line x1="590.35" y1="437.8" x2="590.35" y2="441.8" stroke="#000" stroke-width="2.4"/>
<line x1="132.9" y1="256.9" x2="139.9" y2="256.9" stroke="#000" stroke-width="2.4"/>
<line x1="132.9" y1="322.5" x2="139.9" y2="322.5" stroke="#000" stroke-width="2.4"/>
<line x1="132.9" y1="388.1" x2="139.9" y2="388.1" stroke="#000" stroke-width="2.4"/>
<line x1="135.9" y1="289.7" x2="139.9" y2="289.7" stroke="#000" stroke-width="2.4"/>
<line x1="135.9" y1="355.3" x2="139.9" y2="355.3" stroke="#000" stroke-width="2.4"/>
<line x1="135.9" y1="420.9" x2="139.9" y2="420.9" stroke="#000" stroke-width="2.4"/>
<line x1="844.8" y1="215.8" x2="844.8" y2="222.8" stroke="#000" stroke-width="2.4"/>
<line x1="914.6" y1="215.8" x2="914.6" y2="222.8" stroke="#000" stroke-width="2.4"/>
<line x1="1054.2" y1="215.8" x2="1054.2" y2="222.8" stroke="#000" stroke-width="2.4"/>
<line x1="1193.8" y1="215.8" x2="1193.8" y2="222.8" stroke="#000" stroke-width="2.4"/>
<line x1="1333.4" y1="215.8" x2="1333.4" y2="222.8" stroke="#000" stroke-width="2.4"/>
<line x1="984.4" y1="215.8" x2="984.4" y2="219.8" stroke="#000" stroke-width="2.4"/>
<line x1="1124" y1="215.8" x2="1124" y2="219.8" stroke="#000" stroke-width="2.4"/>
<line x1="1263.6" y1="215.8" x2="1263.6" y2="219.8" stroke="#000" stroke-width="2.4"/>
<line x1="838" y1="76.2" x2="845" y2="76.2" stroke="#000" stroke-width="2.4"/>
<line x1="838" y1="142.5" x2="845" y2="142.5" stroke="#000" stroke-width="2.4"/>
<line x1="838" y1="208.8" x2="845" y2="208.8" stroke="#000" stroke-width="2.4"/>
<line x1="841" y1="43.05" x2="845" y2="43.05" stroke="#000" stroke-width="2.4"/>
<line x1="841" y1="109.35" x2="845" y2="109.35" stroke="#000" stroke-width="2.4"/>
<line x1="841" y1="175.65" x2="845" y2="175.65" stroke="#000" stroke-width="2.4"/>
<line x1="909.6" y1="446.6" x2="909.6" y2="453.6" stroke="#000" stroke-width="2.4"/>
<line x1="1015.5" y1="446.6" x2="1015.5" y2="453.6" stroke="#000" stroke-width="2.4"/>
<line x1="1121.4" y1="446.6" x2="1121.4" y2="453.6" stroke="#000" stroke-width="2.4"/>
<line x1="1227.3" y1="446.6" x2="1227.3" y2="453.6" stroke="#000" stroke-width="2.4"/>
<line x1="1333.2" y1="446.6" x2="1333.2" y2="453.6" stroke="#000" stroke-width="2.4"/>
<line x1="856.65" y1="446.6" x2="856.65" y2="450.6" stroke="#000" stroke-width="2.4"/>
<line x1="962.55" y1="446.6" x2="962.55" y2="450.6" stroke="#000" stroke-width="2.4"/>
<line x1="1068.45" y1="446.6" x2="1068.45" y2="450.6" stroke="#000" stroke-width="2.4"/>
<line x1="1174.35" y1="446.6" x2="1174.35" y2="450.6" stroke="#000" stroke-width="2.4"/>
<line x1="1280.25" y1="446.6" x2="1280.25" y2="450.6" stroke="#000" stroke-width="2.4"/>
<line x1="839.2" y1="264.5" x2="846.2" y2="264.5" stroke="#000" stroke-width="2.4"/>
<line x1="839.2" y1="330.5" x2="846.2" y2="330.5" stroke="#000" stroke-width="2.4"/>
<line x1="839.2" y1="396.5" x2="846.2" y2="396.5" stroke="#000" stroke-width="2.4"/>
<line x1="842.2" y1="297.5" x2="846.2" y2="297.5" stroke="#000" stroke-width="2.4"/>
<line x1="842.2" y1="363.5" x2="846.2" y2="363.5" stroke="#000" stroke-width="2.4"/>
<line x1="842.2" y1="429.5" x2="846.2" y2="429.5" stroke="#000" stroke-width="2.4"/>
<line x1="1627.4" y1="144.9" x2="1627.4" y2="151.9" stroke="#000" stroke-width="2.4"/>
<line x1="1761" y1="144.9" x2="1761" y2="151.9" stroke="#000" stroke-width="2.4"/>
<line x1="1894.6" y1="144.9" x2="1894.6" y2="151.9" stroke="#000" stroke-width="2.4"/>
<line x1="1534.02" y1="144.9" x2="1534.02" y2="148.9" stroke="#000" stroke-width="2.4"/>
<line x1="1557.54" y1="144.9" x2="1557.54" y2="148.9" stroke="#000" stroke-width="2.4"/>
<line x1="1574.24" y1="144.9" x2="1574.24" y2="148.9" stroke="#000" stroke-width="2.4"/>
<line x1="1587.18" y1="144.9" x2="1587.18" y2="148.9" stroke="#000" stroke-width="2.4"/>
<line x1="1597.76" y1="144.9" x2="1597.76" y2="148.9" stroke="#000" stroke-width="2.4"/>
<line x1="1606.71" y1="144.9" x2="1606.71" y2="148.9" stroke="#000" stroke-width="2.4"/>
<line x1="1614.45" y1="144.9" x2="1614.45" y2="148.9" stroke="#000" stroke-width="2.4"/>
<line x1="1621.29" y1="144.9" x2="1621.29" y2="148.9" stroke="#000" stroke-width="2.4"/>
<line x1="1667.62" y1="144.9" x2="1667.62" y2="148.9" stroke="#000" stroke-width="2.4"/>
<line x1="1691.14" y1="144.9" x2="1691.14" y2="148.9" stroke="#000" stroke-width="2.4"/>
<line x1="1707.84" y1="144.9" x2="1707.84" y2="148.9" stroke="#000" stroke-width="2.4"/>
<line x1="1720.78" y1="144.9" x2="1720.78" y2="148.9" stroke="#000" stroke-width="2.4"/>
<line x1="1731.36" y1="144.9" x2="1731.36" y2="148.9" stroke="#000" stroke-width="2.4"/>
<line x1="1740.31" y1="144.9" x2="1740.31" y2="148.9" stroke="#000" stroke-width="2.4"/>
<line x1="1748.05" y1="144.9" x2="1748.05" y2="148.9" stroke="#000" stroke-width="2.4"/>
<line x1="1754.89" y1="144.9" x2="1754.89" y2="148.9" stroke="#000" stroke-width="2.4"/>
<line x1="1801.22" y1="144.9" x2="1801.22" y2="148.9" stroke="#000" stroke-width="2.4"/>
<line x1="1824.74" y1="144.9" x2="1824.74" y2="148.9" stroke="#000" stroke-width="2.4"/>
<line x1="1841.44" y1="144.9" x2="1841.44" y2="148.9" stroke="#000" stroke-width="2.4"/>
<line x1="1854.38" y1="144.9" x2="1854.38" y2="148.9" stroke="#000" stroke-width="2.4"/>
<line x1="1864.96" y1="144.9" x2="1864.96" y2="148.9" stroke="#000" stroke-width="2.4"/>
<line x1="1873.91" y1="144.9" x2="1873.91" y2="148.9" stroke="#000" stroke-width="2.4"/>
<line x1="1881.65" y1="144.9" x2="1881.65" y2="148.9" stroke="#000" stroke-width="2.4"/>
<line x1="1888.49" y1="144.9" x2="1888.49" y2="148.9" stroke="#000" stroke-width="2.4"/>
<line x1="1934.82" y1="144.9" x2="1934.82" y2="148.9" stroke="#000" stroke-width="2.4"/>
<line x1="1958.34" y1="144.9" x2="1958.34" y2="148.9" stroke="#000" stroke-width="2.4"/>
<line x1="1975.04" y1="144.9" x2="1975.04" y2="148.9" stroke="#000" stroke-width="2.4"/>
<line x1="1987.98" y1="144.9" x2="1987.98" y2="148.9" stroke="#000" stroke-width="2.4"/>
<line x1="1998.56" y1="144.9" x2="1998.56" y2="148.9" stroke="#000" stroke-width="2.4"/>
<line x1="1627.4" y1="282.4" x2="1627.4" y2="289.4" stroke="#000" stroke-width="2.4"/>
<line x1="1761" y1="282.4" x2="1761" y2="289.4" stroke="#000" stroke-width="2.4"/>
<line x1="1894.6" y1="282.4" x2="1894.6" y2="289.4" stroke="#000" stroke-width="2.4"/>
<line x1="1534.02" y1="282.4" x2="1534.02" y2="286.4" stroke="#000" stroke-width="2.4"/>
<line x1="1557.54" y1="282.4" x2="1557.54" y2="286.4" stroke="#000" stroke-width="2.4"/>
<line x1="1574.24" y1="282.4" x2="1574.24" y2="286.4" stroke="#000" stroke-width="2.4"/>
<line x1="1587.18" y1="282.4" x2="1587.18" y2="286.4" stroke="#000" stroke-width="2.4"/>
<line x1="1597.76" y1="282.4" x2="1597.76" y2="286.4" stroke="#000" stroke-width="2.4"/>
<line x1="1606.71" y1="282.4" x2="1606.71" y2="286.4" stroke="#000" stroke-width="2.4"/>
<line x1="1614.45" y1="282.4" x2="1614.45" y2="286.4" stroke="#000" stroke-width="2.4"/>
<line x1="1621.29" y1="282.4" x2="1621.29" y2="286.4" stroke="#000" stroke-width="2.4"/>
<line x1="1667.62" y1="282.4" x2="1667.62" y2="286.4" stroke="#000" stroke-width="2.4"/>
<line x1="1691.14" y1="282.4" x2="1691.14" y2="286.4" stroke="#000" stroke-width="2.4"/>
<line x1="1707.84" y1="282.4" x2="1707.84" y2="286.4" stroke="#000" stroke-width="2.4"/>
<line x1="1720.78" y1="282.4" x2="1720.78" y2="286.4" stroke="#000" stroke-width="2.4"/>
<line x1="1731.36" y1="282.4" x2="1731.36" y2="286.4" stroke="#000" stroke-width="2.4"/>
<line x1="1740.31" y1="282.4" x2="1740.31" y2="286.4" stroke="#000" stroke-width="2.4"/>
<line x1="1748.05" y1="282.4" x2="1748.05" y2="286.4" stroke="#000" stroke-width="2.4"/>
<line x1="1754.89" y1="282.4" x2="1754.89" y2="286.4" stroke="#000" stroke-width="2.4"/>
<line x1="1801.22" y1="282.4" x2="1801.22" y2="286.4" stroke="#000" stroke-width="2.4"/>
<line x1="1824.74" y1="282.4" x2="1824.74" y2="286.4" stroke="#000" stroke-width="2.4"/>
<line x1="1841.44" y1="282.4" x2="1841.44" y2="286.4" stroke="#000" stroke-width="2.4"/>
<line x1="1854.38" y1="282.4" x2="1854.38" y2="286.4" stroke="#000" stroke-width="2.4"/>
<line x1="1864.96" y1="282.4" x2="1864.96" y2="286.4" stroke="#000" stroke-width="2.4"/>
<line x1="1873.91" y1="282.4" x2="1873.91" y2="286.4" stroke="#000" stroke-width="2.4"/>
<line x1="1881.65" y1="282.4" x2="1881.65" y2="286.4" stroke="#000" stroke-width="2.4"/>
<line x1="1888.49" y1="282.4" x2="1888.49" y2="286.4" stroke="#000" stroke-width="2.4"/>
<line x1="1934.82" y1="282.4" x2="1934.82" y2="286.4" stroke="#000" stroke-width="2.4"/>
<line x1="1958.34" y1="282.4" x2="1958.34" y2="286.4" stroke="#000" stroke-width="2.4"/>
<line x1="1975.04" y1="282.4" x2="1975.04" y2="286.4" stroke="#000" stroke-width="2.4"/>
<line x1="1987.98" y1="282.4" x2="1987.98" y2="286.4" stroke="#000" stroke-width="2.4"/>
<line x1="1998.56" y1="282.4" x2="1998.56" y2="286.4" stroke="#000" stroke-width="2.4"/>
<line x1="1627.4" y1="437.6" x2="1627.4" y2="444.6" stroke="#000" stroke-width="2.4"/>
<line x1="1761" y1="437.6" x2="1761" y2="444.6" stroke="#000" stroke-width="2.4"/>
<line x1="1894.6" y1="437.6" x2="1894.6" y2="444.6" stroke="#000" stroke-width="2.4"/>
<line x1="1534.02" y1="437.6" x2="1534.02" y2="441.6" stroke="#000" stroke-width="2.4"/>
<line x1="1557.54" y1="437.6" x2="1557.54" y2="441.6" stroke="#000" stroke-width="2.4"/>
<line x1="1574.24" y1="437.6" x2="1574.24" y2="441.6" stroke="#000" stroke-width="2.4"/>
<line x1="1587.18" y1="437.6" x2="1587.18" y2="441.6" stroke="#000" stroke-width="2.4"/>
<line x1="1597.76" y1="437.6" x2="1597.76" y2="441.6" stroke="#000" stroke-width="2.4"/>
<line x1="1606.71" y1="437.6" x2="1606.71" y2="441.6" stroke="#000" stroke-width="2.4"/>
<line x1="1614.45" y1="437.6" x2="1614.45" y2="441.6" stroke="#000" stroke-width="2.4"/>
<line x1="1621.29" y1="437.6" x2="1621.29" y2="441.6" stroke="#000" stroke-width="2.4"/>
<line x1="1667.62" y1="437.6" x2="1667.62" y2="441.6" stroke="#000" stroke-width="2.4"/>
<line x1="1691.14" y1="437.6" x2="1691.14" y2="441.6" stroke="#000" stroke-width="2.4"/>
<line x1="1707.84" y1="437.6" x2="1707.84" y2="441.6" stroke="#000" stroke-width="2.4"/>
<line x1="1720.78" y1="437.6" x2="1720.78" y2="441.6" stroke="#000" stroke-width="2.4"/>
<line x1="1731.36" y1="437.6" x2="1731.36" y2="441.6" stroke="#000" stroke-width="2.4"/>
<line x1="1740.31" y1="437.6" x2="1740.31" y2="441.6" stroke="#000" stroke-width="2.4"/>
<line x1="1748.05" y1="437.6" x2="1748.05" y2="441.6" stroke="#000" stroke-width="2.4"/>
<line x1="1754.89" y1="437.6" x2="1754.89" y2="441.6" stroke="#000" stroke-width="2.4"/>
<line x1="1801.22" y1="437.6" x2="1801.22" y2="441.6" stroke="#000" stroke-width="2.4"/>
<line x1="1824.74" y1="437.6" x2="1824.74" y2="441.6" stroke="#000" stroke-width="2.4"/>
<line x1="1841.44" y1="437.6" x2="1841.44" y2="441.6" stroke="#000" stroke-width="2.4"/>
<line x1="1854.38" y1="437.6" x2="1854.38" y2="441.6" stroke="#000" stroke-width="2.4"/>
<line x1="1864.96" y1="437.6" x2="1864.96" y2="441.6" stroke="#000" stroke-width="2.4"/>
<line x1="1873.91" y1="437.6" x2="1873.91" y2="441.6" stroke="#000" stroke-width="2.4"/>
<line x1="1881.65" y1="437.6" x2="1881.65" y2="441.6" stroke="#000" stroke-width="2.4"/>
<line x1="1888.49" y1="437.6" x2="1888.49" y2="441.6" stroke="#000" stroke-width="2.4"/>
<line x1="1934.82" y1="437.6" x2="1934.82" y2="441.6" stroke="#000" stroke-width="2.4"/>
<line x1="1958.34" y1="437.6" x2="1958.34" y2="441.6" stroke="#000" stroke-width="2.4"/>
<line x1="1975.04" y1="437.6" x2="1975.04" y2="441.6" stroke="#000" stroke-width="2.4"/>
<line x1="1987.98" y1="437.6" x2="1987.98" y2="441.6" stroke="#000" stroke-width="2.4"/>
<line x1="1998.56" y1="437.6" x2="1998.56" y2="441.6" stroke="#000" stroke-width="2.4"/>
<line x1="1509.9" y1="35.4" x2="1516.9" y2="35.4" stroke="#000" stroke-width="2.4"/>
<line x1="1509.9" y1="83.8" x2="1516.9" y2="83.8" stroke="#000" stroke-width="2.4"/>
<line x1="1509.9" y1="132.2" x2="1516.9" y2="132.2" stroke="#000" stroke-width="2.4"/>
<line x1="1512.9" y1="59.6" x2="1516.9" y2="59.6" stroke="#000" stroke-width="2.4"/>
<line x1="1512.9" y1="108" x2="1516.9" y2="108" stroke="#000" stroke-width="2.4"/>
<line x1="1509.9" y1="190.2" x2="1516.9" y2="190.2" stroke="#000" stroke-width="2.4"/>
<line x1="1509.9" y1="232.7" x2="1516.9" y2="232.7" stroke="#000" stroke-width="2.4"/>
<line x1="1509.9" y1="275.2" x2="1516.9" y2="275.2" stroke="#000" stroke-width="2.4"/>
<line x1="1512.9" y1="168.95" x2="1516.9" y2="168.95" stroke="#000" stroke-width="2.4"/>
<line x1="1512.9" y1="211.45" x2="1516.9" y2="211.45" stroke="#000" stroke-width="2.4"/>
<line x1="1512.9" y1="253.95" x2="1516.9" y2="253.95" stroke="#000" stroke-width="2.4"/>
<line x1="1511" y1="316.8" x2="1518" y2="316.8" stroke="#000" stroke-width="2.4"/>
<line x1="1511" y1="357.2" x2="1518" y2="357.2" stroke="#000" stroke-width="2.4"/>
<line x1="1511" y1="397.6" x2="1518" y2="397.6" stroke="#000" stroke-width="2.4"/>
<line x1="1511" y1="438" x2="1518" y2="438" stroke="#000" stroke-width="2.4"/>
<line x1="1514" y1="337" x2="1518" y2="337" stroke="#000" stroke-width="2.4"/>
<line x1="1514" y1="377.4" x2="1518" y2="377.4" stroke="#000" stroke-width="2.4"/>
<line x1="1514" y1="417.8" x2="1518" y2="417.8" stroke="#000" stroke-width="2.4"/>
<polygon points="1515.6,29 1520.9,32.4 1520.9,39.2 1515.6,42.6 1510.3,39.2 1510.3,32.4" fill="#35AD6C"/>
<polygon points="1527.8,29 1533.1,32.4 1533.1,39.2 1527.8,42.6 1522.5,39.2 1522.5,32.4" fill="#35AD6C"/>
<polygon points="1539.4,123.4 1544.7,126.8 1544.7,133.6 1539.4,137 1534.1,133.6 1534.1,126.8" fill="#35AD6C"/>
<polygon points="1550.7,114.5 1556,117.9 1556,124.7 1550.7,128.1 1545.4,124.7 1545.4,117.9" fill="#35AD6C"/>
<polygon points="1561.6,100.5 1566.9,103.9 1566.9,110.7 1561.6,114.1 1556.3,110.7 1556.3,103.9" fill="#35AD6C"/>
<polygon points="1572.1,84.4 1577.4,87.8 1577.4,94.6 1572.1,98 1566.8,94.6 1566.8,87.8" fill="#35AD6C"/>
<polygon points="1582.4,70.8 1587.7,74.2 1587.7,81 1582.4,84.4 1577.1,81 1577.1,74.2" fill="#35AD6C"/>
<polygon points="1592.5,62.7 1597.8,66.1 1597.8,72.9 1592.5,76.3 1587.2,72.9 1587.2,66.1" fill="#35AD6C"/>
<polygon points="1602.5,56.4 1607.8,59.8 1607.8,66.6 1602.5,70 1597.2,66.6 1597.2,59.8" fill="#35AD6C"/>
<polygon points="1612.3,51.5 1617.6,54.9 1617.6,61.7 1612.3,65.1 1607,61.7 1607,54.9" fill="#35AD6C"/>
<polygon points="1622.1,48.2 1627.4,51.6 1627.4,58.4 1622.1,61.8 1616.8,58.4 1616.8,51.6" fill="#35AD6C"/>
<polygon points="1631.5,46.3 1636.8,49.7 1636.8,56.5 1631.5,59.9 1626.2,56.5 1626.2,49.7" fill="#35AD6C"/>
<polygon points="1640.8,45.1 1646.1,48.5 1646.1,55.3 1640.8,58.7 1635.5,55.3 1635.5,48.5" fill="#35AD6C"/>
<polygon points="1650.2,44 1655.5,47.4 1655.5,54.2 1650.2,57.6 1644.9,54.2 1644.9,47.4" fill="#35AD6C"/>
<polygon points="1659.5,43.3 1664.8,46.7 1664.8,53.5 1659.5,56.9 1654.2,53.5 1654.2,46.7" fill="#35AD6C"/>
<polygon points="1668.9,43.3 1674.2,46.7 1674.2,53.5 1668.9,56.9 1663.6,53.5 1663.6,46.7" fill="#35AD6C"/>
<polygon points="1678.2,47 1683.5,50.4 1683.5,57.2 1678.2,60.6 1672.9,57.2 1672.9,50.4" fill="#35AD6C"/>
<polygon points="1687.6,45.1 1692.9,48.5 1692.9,55.3 1687.6,58.7 1682.3,55.3 1682.3,48.5" fill="#35AD6C"/>
<polygon points="1696.9,45.1 1702.2,48.5 1702.2,55.3 1696.9,58.7 1691.6,55.3 1691.6,48.5" fill="#35AD6C"/>
<polygon points="1706.3,45.8 1711.6,49.2 1711.6,56 1706.3,59.4 1701,56 1701,49.2" fill="#35AD6C"/>
<polygon points="1715.6,47 1720.9,50.4 1720.9,57.2 1715.6,60.6 1710.3,57.2 1710.3,50.4" fill="#35AD6C"/>
<polygon points="1725,47.9 1730.3,51.3 1730.3,58.1 1725,61.5 1719.7,58.1 1719.7,51.3" fill="#35AD6C"/>
<polygon points="1734.3,48.6 1739.6,52 1739.6,58.8 1734.3,62.2 1729,58.8 1729,52" fill="#35AD6C"/>
<polygon points="1743.6,47.9 1748.9,51.3 1748.9,58.1 1743.6,61.5 1738.3,58.1 1738.3,51.3" fill="#35AD6C"/>
<polygon points="1753,47.5 1758.3,50.9 1758.3,57.7 1753,61.1 1747.7,57.7 1747.7,50.9" fill="#35AD6C"/>
<polygon points="1760.5,45.8 1765.8,49.2 1765.8,56 1760.5,59.4 1755.2,56 1755.2,49.2" fill="#35AD6C"/>
<polygon points="1769.9,45.1 1775.2,48.5 1775.2,55.3 1769.9,58.7 1764.6,55.3 1764.6,48.5" fill="#35AD6C"/>
<polygon points="1779.2,46.3 1784.5,49.7 1784.5,56.5 1779.2,59.9 1773.9,56.5 1773.9,49.7" fill="#35AD6C"/>
<polygon points="1788.5,45.8 1793.8,49.2 1793.8,56 1788.5,59.4 1783.2,56 1783.2,49.2" fill="#35AD6C"/>
<polygon points="1797.9,44.6 1803.2,48 1803.2,54.8 1797.9,58.2 1792.6,54.8 1792.6,48" fill="#35AD6C"/>
<polygon points="1807.2,41.2 1812.5,44.6 1812.5,51.4 1807.2,54.8 1801.9,51.4 1801.9,44.6" fill="#35AD6C"/>
<polygon points="1816.6,39.8 1821.9,43.2 1821.9,50 1816.6,53.4 1811.3,50 1811.3,43.2" fill="#35AD6C"/>
<polygon points="1824.7,42.8 1830,46.2 1830,53 1824.7,56.4 1819.4,53 1819.4,46.2" fill="#35AD6C"/>
<polygon points="1834.1,44 1839.4,47.4 1839.4,54.2 1834.1,57.6 1828.8,54.2 1828.8,47.4" fill="#35AD6C"/>
<polygon points="1843.4,45.1 1848.7,48.5 1848.7,55.3 1843.4,58.7 1838.1,55.3 1838.1,48.5" fill="#35AD6C"/>
<polygon points="1852.8,44.4 1858.1,47.8 1858.1,54.6 1852.8,58 1847.5,54.6 1847.5,47.8" fill="#35AD6C"/>
<polygon points="1862.1,45.1 1867.4,48.5 1867.4,55.3 1862.1,58.7 1856.8,55.3 1856.8,48.5" fill="#35AD6C"/>
<polygon points="1871.5,44 1876.8,47.4 1876.8,54.2 1871.5,57.6 1866.2,54.2 1866.2,47.4" fill="#35AD6C"/>
<polygon points="1879.6,44 1884.9,47.4 1884.9,54.2 1879.6,57.6 1874.3,54.2 1874.3,47.4" fill="#35AD6C"/>
<polygon points="1889,45.1 1894.3,48.5 1894.3,55.3 1889,58.7 1883.7,55.3 1883.7,48.5" fill="#35AD6C"/>
<polygon points="1898.3,45.1 1903.6,48.5 1903.6,55.3 1898.3,58.7 1893,55.3 1893,48.5" fill="#35AD6C"/>
<polygon points="1907.7,44 1913,47.4 1913,54.2 1907.7,57.6 1902.4,54.2 1902.4,47.4" fill="#35AD6C"/>
<polygon points="1917,42.8 1922.3,46.2 1922.3,53 1917,56.4 1911.7,53 1911.7,46.2" fill="#35AD6C"/>
<polygon points="1926.4,42.1 1931.7,45.5 1931.7,52.3 1926.4,55.7 1921.1,52.3 1921.1,45.5" fill="#35AD6C"/>
<polygon points="1935.7,41.6 1941,45 1941,51.8 1935.7,55.2 1930.4,51.8 1930.4,45" fill="#35AD6C"/>
<polygon points="1943.9,40.5 1949.2,43.9 1949.2,50.7 1943.9,54.1 1938.6,50.7 1938.6,43.9" fill="#35AD6C"/>
<polygon points="1953.2,39.3 1958.5,42.7 1958.5,49.5 1953.2,52.9 1947.9,49.5 1947.9,42.7" fill="#35AD6C"/>
<polygon points="1961.4,38.8 1966.7,42.2 1966.7,49 1961.4,52.4 1956.1,49 1956.1,42.2" fill="#35AD6C"/>
<polygon points="1970.7,37 1976,40.4 1976,47.2 1970.7,50.6 1965.4,47.2 1965.4,40.4" fill="#35AD6C"/>
<polygon points="1980.1,35.8 1985.4,39.2 1985.4,46 1980.1,49.4 1974.8,46 1974.8,39.2" fill="#35AD6C"/>
<polygon points="1989.4,34.6 1994.7,38 1994.7,44.8 1989.4,48.2 1984.1,44.8 1984.1,38" fill="#35AD6C"/>
<polygon points="1998.8,33.5 2004.1,36.9 2004.1,43.7 1998.8,47.1 1993.5,43.7 1993.5,36.9" fill="#35AD6C"/>
<ellipse cx="1515.8" cy="232" rx="5.4" ry="6.2" fill="#D29C06"/>
<ellipse cx="1528" cy="232" rx="5.4" ry="6.2" fill="#D29C06"/>
<ellipse cx="1539.7" cy="172.1" rx="5.4" ry="6.2" fill="#D29C06"/>
<ellipse cx="1550.9" cy="213" rx="5.4" ry="6.2" fill="#D29C06"/>
<ellipse cx="1561.9" cy="244.8" rx="5.4" ry="6.2" fill="#D29C06"/>
<ellipse cx="1572.4" cy="260" rx="5.4" ry="6.2" fill="#D29C06"/>
<ellipse cx="1582.7" cy="268.2" rx="5.4" ry="6.2" fill="#D29C06"/>
<ellipse cx="1592.9" cy="273.3" rx="5.4" ry="6.2" fill="#D29C06"/>
<ellipse cx="1602.8" cy="272.1" rx="5.4" ry="6.2" fill="#D29C06"/>
<ellipse cx="1612.3" cy="270.5" rx="5.4" ry="6.2" fill="#D29C06"/>
<ellipse cx="1622.1" cy="268.6" rx="5.4" ry="6.2" fill="#D29C06"/>
<ellipse cx="1631.5" cy="267" rx="5.4" ry="6.2" fill="#D29C06"/>
<ellipse cx="1640.8" cy="264" rx="5.4" ry="6.2" fill="#D29C06"/>
<ellipse cx="1650.2" cy="262.8" rx="5.4" ry="6.2" fill="#D29C06"/>
<ellipse cx="1659.5" cy="261.2" rx="5.4" ry="6.2" fill="#D29C06"/>
<ellipse cx="1668.9" cy="260.5" rx="5.4" ry="6.2" fill="#D29C06"/>
<ellipse cx="1678.2" cy="260.5" rx="5.4" ry="6.2" fill="#D29C06"/>
<ellipse cx="1687.6" cy="260.5" rx="5.4" ry="6.2" fill="#D29C06"/>
<ellipse cx="1696.9" cy="260" rx="5.4" ry="6.2" fill="#D29C06"/>
<ellipse cx="1706.3" cy="258.1" rx="5.4" ry="6.2" fill="#D29C06"/>
<ellipse cx="1715.6" cy="255.8" rx="5.4" ry="6.2" fill="#D29C06"/>
<ellipse cx="1725" cy="253" rx="5.4" ry="6.2" fill="#D29C06"/>
<ellipse cx="1734.3" cy="253" rx="5.4" ry="6.2" fill="#D29C06"/>
<ellipse cx="1743.6" cy="256.5" rx="5.4" ry="6.2" fill="#D29C06"/>
<ellipse cx="1752.3" cy="260.9" rx="5.4" ry="6.2" fill="#D29C06"/>
<ellipse cx="1761.7" cy="262.8" rx="5.4" ry="6.2" fill="#D29C06"/>
<ellipse cx="1771" cy="264" rx="5.4" ry="6.2" fill="#D29C06"/>
<ellipse cx="1779.9" cy="262.8" rx="5.4" ry="6.2" fill="#D29C06"/>
<ellipse cx="1789.2" cy="260" rx="5.4" ry="6.2" fill="#D29C06"/>
<ellipse cx="1797.9" cy="258.1" rx="5.4" ry="6.2" fill="#D29C06"/>
<ellipse cx="1807.2" cy="253.9" rx="5.4" ry="6.2" fill="#D29C06"/>
<ellipse cx="1816.1" cy="251.1" rx="5.4" ry="6.2" fill="#D29C06"/>
<ellipse cx="1825.2" cy="246.9" rx="5.4" ry="6.2" fill="#D29C06"/>
<ellipse cx="1834.1" cy="247.6" rx="5.4" ry="6.2" fill="#D29C06"/>
<ellipse cx="1843.4" cy="250.6" rx="5.4" ry="6.2" fill="#D29C06"/>
<ellipse cx="1852.3" cy="253" rx="5.4" ry="6.2" fill="#D29C06"/>
<ellipse cx="1861.7" cy="251.1" rx="5.4" ry="6.2" fill="#D29C06"/>
<ellipse cx="1870.8" cy="248.3" rx="5.4" ry="6.2" fill="#D29C06"/>
<ellipse cx="1879.6" cy="249.9" rx="5.4" ry="6.2" fill="#D29C06"/>
<ellipse cx="1889" cy="249.2" rx="5.4" ry="6.2" fill="#D29C06"/>
<ellipse cx="1898.3" cy="250.6" rx="5.4" ry="6.2" fill="#D29C06"/>
<ellipse cx="1907" cy="249.2" rx="5.4" ry="6.2" fill="#D29C06"/>
<ellipse cx="1916.3" cy="249.5" rx="5.4" ry="6.2" fill="#D29C06"/>
<ellipse cx="1925.2" cy="248.3" rx="5.4" ry="6.2" fill="#D29C06"/>
<ellipse cx="1934.5" cy="247.6" rx="5.4" ry="6.2" fill="#D29C06"/>
<ellipse cx="1943.4" cy="247.6" rx="5.4" ry="6.2" fill="#D29C06"/>
<ellipse cx="1952.3" cy="248.1" rx="5.4" ry="6.2" fill="#D29C06"/>
<ellipse cx="1961.4" cy="248.8" rx="5.4" ry="6.2" fill="#D29C06"/>
<ellipse cx="1970.7" cy="248.8" rx="5.4" ry="6.2" fill="#D29C06"/>
<ellipse cx="1979.6" cy="248.8" rx="5.4" ry="6.2" fill="#D29C06"/>
<ellipse cx="1988.7" cy="247.6" rx="5.4" ry="6.2" fill="#D29C06"/>
<ellipse cx="1998.1" cy="246" rx="5.4" ry="6.2" fill="#D29C06"/>
<polygon points="1517.1,389.65 1523.65,402.55 1510.55,402.55" fill="#FF0000"/>
<polygon points="1528.8,389.65 1535.35,402.55 1522.25,402.55" fill="#FF0000"/>
<polygon points="1540.9,389.65 1547.45,402.55 1534.35,402.55" fill="#FF0000"/>
<polygon points="1551.9,298.25 1558.45,311.15 1545.35,311.15" fill="#FF0000"/>
<polygon points="1563.1,308.75 1569.65,321.65 1556.55,321.65" fill="#FF0000"/>
<polygon points="1573.6,341.15 1580.15,354.05 1567.05,354.05" fill="#FF0000"/>
<polygon points="1584.1,350.65 1590.65,363.55 1577.55,363.55" fill="#FF0000"/>
<polygon points="1593.8,357.65 1600.35,370.55 1587.25,370.55" fill="#FF0000"/>
<polygon points="1603.7,361.65 1610.25,374.55 1597.15,374.55" fill="#FF0000"/>
<polygon points="1613.9,366.05 1620.45,378.95 1607.35,378.95" fill="#FF0000"/>
<polygon points="1623.4,368.15 1629.95,381.05 1616.85,381.05" fill="#FF0000"/>
<polygon points="1633,369.45 1639.55,382.35 1626.45,382.35" fill="#FF0000"/>
<polygon points="1642.7,370.75 1649.25,383.65 1636.15,383.65" fill="#FF0000"/>
<polygon points="1652.1,373.35 1658.65,386.25 1645.55,386.25" fill="#FF0000"/>
<polygon points="1661.3,374.15 1667.85,387.05 1654.75,387.05" fill="#FF0000"/>
<polygon points="1670.5,378.65 1677.05,391.55 1663.95,391.55" fill="#FF0000"/>
<polygon points="1680.2,377.85 1686.75,390.75 1673.65,390.75" fill="#FF0000"/>
<polygon points="1689.6,380.45 1696.15,393.35 1683.05,393.35" fill="#FF0000"/>
<polygon points="1698.5,385.15 1705.05,398.05 1691.95,398.05" fill="#FF0000"/>
<polygon points="1707.6,386.45 1714.15,399.35 1701.05,399.35" fill="#FF0000"/>
<polygon points="1717.3,388.35 1723.85,401.25 1710.75,401.25" fill="#FF0000"/>
<polygon points="1726.8,389.05 1733.35,401.95 1720.25,401.95" fill="#FF0000"/>
<polygon points="1735.7,389.05 1742.25,401.95 1729.15,401.95" fill="#FF0000"/>
<polygon points="1744.9,389.05 1751.45,401.95 1738.35,401.95" fill="#FF0000"/>
<polygon points="1754,388.25 1760.55,401.15 1747.45,401.15" fill="#FF0000"/>
<polygon points="1762.6,389.05 1769.15,401.95 1756.05,401.95" fill="#FF0000"/>
<polygon points="1771.8,389.05 1778.35,401.95 1765.25,401.95" fill="#FF0000"/>
<polygon points="1780.7,389.85 1787.25,402.75 1774.15,402.75" fill="#FF0000"/>
<polygon points="1790.1,392.45 1796.65,405.35 1783.55,405.35" fill="#FF0000"/>
<polygon points="1799.3,394.85 1805.85,407.75 1792.75,407.75" fill="#FF0000"/>
<polygon points="1808.4,389.55 1814.95,402.45 1801.85,402.45" fill="#FF0000"/>
<polygon points="1817.6,390.85 1824.15,403.75 1811.05,403.75" fill="#FF0000"/>
<polygon points="1826.7,392.45 1833.25,405.35 1820.15,405.35" fill="#FF0000"/>
<polygon points="1835.9,392.45 1842.45,405.35 1829.35,405.35" fill="#FF0000"/>
<polygon points="1845.1,393.45 1851.65,406.35 1838.55,406.35" fill="#FF0000"/>
<polygon points="1854.2,395.05 1860.75,407.95 1847.65,407.95" fill="#FF0000"/>
<polygon points="1863.4,392.45 1869.95,405.35 1856.85,405.35" fill="#FF0000"/>
<polygon points="1872.5,392.45 1879.05,405.35 1865.95,405.35" fill="#FF0000"/>
<polygon points="1881.4,395.55 1887.95,408.45 1874.85,408.45" fill="#FF0000"/>
<polygon points="1890.6,393.45 1897.15,406.35 1884.05,406.35" fill="#FF0000"/>
<polygon points="1899.7,396.15 1906.25,409.05 1893.15,409.05" fill="#FF0000"/>
<polygon points="1908.9,396.15 1915.45,409.05 1902.35,409.05" fill="#FF0000"/>
<polygon points="1918.1,396.15 1924.65,409.05 1911.55,409.05" fill="#FF0000"/>
<polygon points="1926.7,398.75 1933.25,411.65 1920.15,411.65" fill="#FF0000"/>
<polygon points="1935.9,398.75 1942.45,411.65 1929.35,411.65" fill="#FF0000"/>
<polygon points="1944.5,400.25 1951.05,413.15 1937.95,413.15" fill="#FF0000"/>
<polygon points="1953.6,402.15 1960.15,415.05 1947.05,415.05" fill="#FF0000"/>
<polygon points="1962.8,402.95 1969.35,415.85 1956.25,415.85" fill="#FF0000"/>
<polygon points="1971.7,403.45 1978.25,416.35 1965.15,416.35" fill="#FF0000"/>
<polygon points="1980.9,403.95 1987.45,416.85 1974.35,416.85" fill="#FF0000"/>
<polygon points="1990.3,402.95 1996.85,415.85 1983.75,415.85" fill="#FF0000"/>
<polygon points="1999.2,402.95 2005.75,415.85 1992.65,415.85" fill="#FF0000"/>
<text x="120" y="79.7" font-size="30" text-anchor="end" fill="#000" >0.00</text>
<text x="120" y="136.85" font-size="30" text-anchor="end" fill="#000" >–0.05</text>
<text x="120" y="194" font-size="30" text-anchor="end" fill="#000" >–0.10</text>
<text x="119.5" y="266.7" font-size="30" text-anchor="end" fill="#000" >0.002</text>
<text x="119.5" y="332.3" font-size="30" text-anchor="end" fill="#000" >0.000</text>
<text x="119.5" y="397.9" font-size="30" text-anchor="end" fill="#000" >–0.002</text>
<text x="827.5" y="275" font-size="30" text-anchor="end" fill="#000" >0.002</text>
<text x="827.5" y="341" font-size="30" text-anchor="end" fill="#000" >0.000</text>
<text x="827.5" y="407" font-size="30" text-anchor="end" fill="#000" >–0.002</text>
<text x="1499.5" y="200.7" font-size="30" text-anchor="end" fill="#000" >30</text>
<text x="1499.5" y="243.2" font-size="30" text-anchor="end" fill="#000" >0</text>
<text x="1499.5" y="285.7" font-size="30" text-anchor="end" fill="#000" >–30</text>
<text x="1499.5" y="327.3" font-size="30" text-anchor="end" fill="#000" >12</text>
<text x="1499.5" y="367.7" font-size="30" text-anchor="end" fill="#000" >6</text>
<text x="1499.5" y="408.1" font-size="30" text-anchor="end" fill="#000" >0</text>
<text x="1499.5" y="448.5" font-size="30" text-anchor="end" fill="#000" >–6</text>
<text x="827.5" y="85.2" font-size="30" text-anchor="end" fill="#000" >0.0</text>
<text x="827.5" y="152.3" font-size="30" text-anchor="end" fill="#000" >–0.1</text>
<text x="827.5" y="219.3" font-size="30" text-anchor="end" fill="#000" >–0.2</text>
<text x="1495.5" y="45.4" font-size="30" text-anchor="end" fill="#000" >0</text>
<text x="1499.5" y="94.3" font-size="30" text-anchor="end" fill="#000" >–200</text>
<text x="1499.5" y="142.7" font-size="30" text-anchor="end" fill="#000" >–400</text>
<text x="210.23" y="241.8" font-size="25.5" text-anchor="middle" fill="#000" >500</text>
<text x="355.09" y="241.8" font-size="25.5" text-anchor="middle" fill="#000" >600</text>
<text x="499.94" y="241.8" font-size="25.5" text-anchor="middle" fill="#000" >700</text>
<text x="644.8" y="241.8" font-size="25.5" text-anchor="middle" fill="#000" >800</text>
<text x="914.6" y="249" font-size="25" text-anchor="middle" fill="#000" >500</text>
<text x="1054.2" y="249" font-size="25" text-anchor="middle" fill="#000" >600</text>
<text x="1193.8" y="249" font-size="25" text-anchor="middle" fill="#000" >700</text>
<text x="1333.4" y="249" font-size="25" text-anchor="middle" fill="#000" >800</text>
<text x="205.7" y="477.8" font-size="30" text-anchor="middle" fill="#000" >600</text>
<text x="315.6" y="477.8" font-size="30" text-anchor="middle" fill="#000" >650</text>
<text x="425.5" y="477.8" font-size="30" text-anchor="middle" fill="#000" >700</text>
<text x="535.4" y="477.8" font-size="30" text-anchor="middle" fill="#000" >750</text>
<text x="645.3" y="477.8" font-size="30" text-anchor="middle" fill="#000" >800</text>
<text x="909.6" y="487.6" font-size="30" text-anchor="middle" fill="#000" >600</text>
<text x="1015.5" y="487.6" font-size="30" text-anchor="middle" fill="#000" >650</text>
<text x="1121.4" y="487.6" font-size="30" text-anchor="middle" fill="#000" >700</text>
<text x="1227.3" y="487.6" font-size="30" text-anchor="middle" fill="#000" >750</text>
<text x="1333.2" y="487.6" font-size="30" text-anchor="middle" fill="#000" >800</text>
<text x="1629.4" y="480.3" font-size="30" text-anchor="middle" fill="#000" >10</text>
<text x="1763" y="480.3" font-size="30" text-anchor="middle" fill="#000" >100</text>
<text x="1896.6" y="480.3" font-size="30" text-anchor="middle" fill="#000" >1000</text>
<text x="415.5" y="519.3" font-size="29.5" text-anchor="middle" fill="#000" >Wavelength (nm)</text>
<text x="1095" y="528.6" font-size="29.5" text-anchor="middle" fill="#000" >Wavelength (nm)</text>
<text x="1762" y="525.3" font-size="29.5" text-anchor="middle" fill="#000" >Time (ps)</text>
<text transform="translate(25.6,220.2) rotate(-90)" font-size="31" text-anchor="middle">Δ<tspan font-style="italic">A</tspan>/<tspan font-style="italic">A</tspan></text>
<text transform="translate(730.2,219.8) rotate(-90)" font-size="31" text-anchor="middle">Δ<tspan font-style="italic">A</tspan>/<tspan font-style="italic">A</tspan></text>
<text transform="translate(1429.3,253.2) rotate(-90)" font-size="29.8" text-anchor="middle">Δ<tspan font-style="italic">A</tspan>/<tspan font-style="italic">A</tspan> (×10<tspan dy="-12" font-size="19.5">–<tspan>3</tspan></tspan><tspan dy="12">)</tspan></text>
<text x="-1.2" y="31" font-size="43" text-anchor="start" fill="#000" font-weight="bold">a</text>
<text x="704.2" y="31" font-size="41.5" text-anchor="start" fill="#000" font-weight="bold">b</text>
<text x="1390.5" y="31" font-size="43" text-anchor="start" fill="#000" font-weight="bold">c</text>
<line x1="234.4" y1="41.6" x2="229.96" y2="60.76" stroke="#000" stroke-width="1.6"/>
<polygon points="227.7,70.5 227.28,60.14 232.64,61.38" fill="#000"/>
<line x1="338.6" y1="53.6" x2="338.6" y2="68.4" stroke="#000" stroke-width="1.6"/>
<polygon points="338.6,79.4 335.85,68.4 341.35,68.4" fill="#000"/>
<line x1="340.5" y1="315" x2="340.5" y2="391.2" stroke="#000" stroke-width="1.6"/>
<polygon points="340.5,405.2 337.75,391.2 343.25,391.2" fill="#000"/>
<line x1="922" y1="44.1" x2="932.03" y2="71.22" stroke="#000" stroke-width="1.6"/>
<polygon points="935.5,80.6 929.45,72.17 934.61,70.27" fill="#000"/>
<line x1="970.5" y1="55.4" x2="962.15" y2="79.38" stroke="#000" stroke-width="1.6"/>
<polygon points="958.7,89.3 959.32,78.4 964.99,80.37" fill="#000"/>
<line x1="982.3" y1="314.5" x2="982.3" y2="338.9" stroke="#000" stroke-width="1.6"/>
<polygon points="982.3,350.9 979.55,338.9 985.05,338.9" fill="#000"/>
<line x1="465.7" y1="74.3" x2="465.7" y2="296" stroke="#555555" stroke-width="2.7" stroke-dasharray="14.3 13.05"/>
<line x1="465.7" y1="292.5" x2="465.7" y2="296" stroke="#555555" stroke-width="2.7"/>
<polygon points="465.7,315 460.85,296 470.55,296" fill="#555555"/>
<line x1="1161.5" y1="77.9" x2="1161.5" y2="300" stroke="#555555" stroke-width="2.7" stroke-dasharray="14.3 13.05"/>
<line x1="1161.5" y1="297" x2="1161.5" y2="302" stroke="#555555" stroke-width="2.7"/>
<polygon points="1161.5,321 1156.65,302 1166.35,302" fill="#555555"/>
<text x="204" y="38.4" font-size="21" text-anchor="start" fill="#555555" >1.83 ps</text>
<text x="302.5" y="49.6" font-size="21" text-anchor="start" fill="#FF0000" >7.85 ps</text>
<text x="316.5" y="100" font-size="21" text-anchor="start" fill="#8B8A00" >5.1 ns</text>
<text x="247.5" y="123.2" font-size="21" text-anchor="start" fill="#000" >Surface</text>
<text x="247.5" y="142.9" font-size="21" text-anchor="start" fill="#000" >exciton</text>
<rect x="376" y="108.5" width="197" height="53.5" fill="#fff"/>
<text x="376.5" y="143.6" font-size="21">[PEA<tspan dy="8" font-size="14">2</tspan><tspan dy="-8">PbI</tspan><tspan dy="8" font-size="14">4</tspan><tspan dy="-8">:PEA</tspan><tspan dy="8" font-size="14">2</tspan><tspan dy="-8">SnI</tspan><tspan dy="8" font-size="14">4</tspan><tspan dy="-8">]</tspan></text>
<text x="142.5" y="194.7" font-size="21" text-anchor="start" fill="#000" >Band-to-band transition</text>
<text x="413.5" y="283.2" font-size="21" text-anchor="start" fill="#0000FF" >CTE states</text>
<text x="309" y="306.7" font-size="21" text-anchor="start" fill="#37AC6B" >224 ps</text>
<text x="311.6" y="429.7" font-size="21" text-anchor="start" fill="#8B8A00" >5.1 ns</text>
<text x="883" y="38.7" font-size="21" text-anchor="start" fill="#000" >1.83 ps</text>
<text x="961.5" y="51.4" font-size="21" text-anchor="start" fill="#FF0000" >7.11 ps</text>
<text x="949" y="110.1" font-size="21" text-anchor="start" fill="#8B8A00" >5.3 ns</text>
<rect x="1117" y="109.5" width="93" height="55" fill="#fff"/>
<text x="1118.5" y="140.1" font-size="21">PEA<tspan dy="8" font-size="13.5">2</tspan><tspan dy="-8">PbI</tspan><tspan dy="8" font-size="13.5">4</tspan></text>
<text x="849" y="205.6" font-size="21" text-anchor="start" fill="#000" >Band-to-band transition</text>
<text x="947.8" y="307.3" font-size="21" text-anchor="start" fill="#37AC6B" >230 ps</text>
<text x="954" y="376.6" font-size="21" text-anchor="start" fill="#8B8A00" >5.3 ns</text>
<line x1="1737" y1="87.6" x2="1746" y2="87.6" stroke="#35AD6C" stroke-width="2.1" stroke-linecap="round"/>
<line x1="1760.4" y1="87.6" x2="1769.4" y2="87.6" stroke="#35AD6C" stroke-width="2.1" stroke-linecap="round"/>
<polygon points="1753.3,80.8 1758.55,84.25 1758.55,91.15 1753.3,94.6 1748.05,91.15 1748.05,84.25" fill="#35AD6C"/>
<text x="1780.2" y="93.6" font-size="20.85" text-anchor="start" fill="#000" >Intrinsic excitons</text>
<text x="1779.5" y="122.3" font-size="17.5" dy="-1.6">@</text><text x="1799.5" y="122.3" font-size="20.7">513.8 nm</text>
<line x1="1736" y1="182.7" x2="1745" y2="182.7" stroke="#D29C06" stroke-width="2.1" stroke-linecap="round"/>
<line x1="1759.6" y1="182.7" x2="1768.2" y2="182.7" stroke="#D29C06" stroke-width="2.1" stroke-linecap="round"/>
<ellipse cx="1752.1" cy="182.7" rx="5.4" ry="6.2" fill="#D29C06"/>
<text x="1776.3" y="189.2" font-size="20.85" text-anchor="start" fill="#000" >Surface excitons</text>
<text x="1778.0" y="217.2" font-size="17.5" dy="-1.6">@</text><text x="1798.0" y="217.2" font-size="20.7">537.5 nm</text>
<line x1="1727" y1="328.4" x2="1740" y2="328.4" stroke="#FF0000" stroke-width="2.1" stroke-linecap="round"/>
<line x1="1753.5" y1="328.4" x2="1766.4" y2="328.4" stroke="#FF0000" stroke-width="2.1" stroke-linecap="round"/>
<polygon points="1746.6,319.95 1753.15,332.85 1740.05,332.85" fill="#FF0000"/>
<text x="1776.2" y="335.3" font-size="20.8" text-anchor="start" fill="#000" >Charge transfer states</text>
<text x="1769.2" y="364.9" font-size="17.5" dy="-1.6">@</text><text x="1789.2" y="364.9" font-size="20.7">657.3 nm</text>
</svg></body></html>
